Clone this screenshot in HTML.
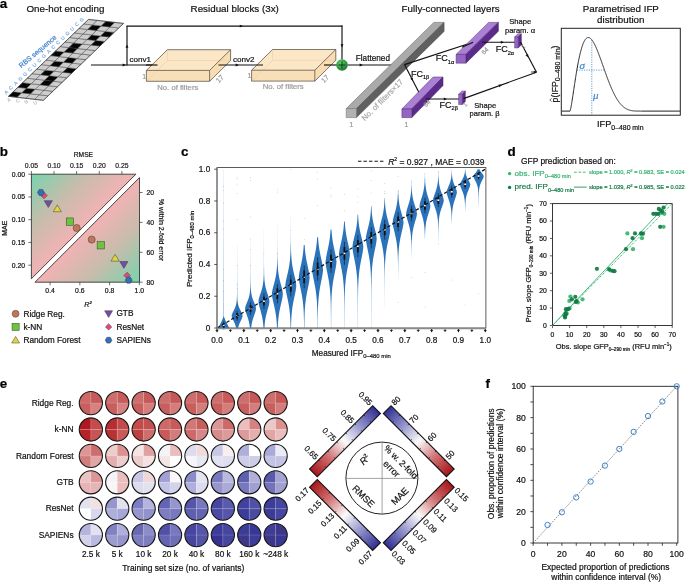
<!DOCTYPE html><html><head><meta charset="utf-8"><style>html,body{margin:0;padding:0;background:#fff;overflow:hidden}svg{display:block;will-change:transform}</style></head><body>
<svg width="685" height="582" viewBox="0 0 685 582" font-family='"Liberation Sans", sans-serif'>
<rect width="685" height="582" fill="#fff"/>
<text x="-0.30" y="7.80" font-size="13.4" font-weight="bold" fill="#000" stroke="#000" stroke-width="0.2">a</text>
<text x="26.50" y="11.90" font-size="9.8" fill="#111" stroke="#111" stroke-width="0.2">One-hot encoding</text>
<text x="190.60" y="11.90" font-size="9.8" fill="#111" stroke="#111" stroke-width="0.2">Residual blocks (3x)</text>
<text x="401.60" y="12.20" font-size="9.8" fill="#111" stroke="#111" stroke-width="0.2">Fully-connected layers</text>
<text x="620.80" y="11.90" font-size="9.8" text-anchor="middle" fill="#111" stroke="#111" stroke-width="0.2">Parametrised IFP</text>
<text x="620.80" y="23.10" font-size="9.8" text-anchor="middle" fill="#111" stroke="#111" stroke-width="0.2">distribution</text>
<polygon points="8.43,96.33 17.18,97.33 21.89,92.80 13.14,91.80" fill="#050505" stroke="#3a3a3a" stroke-width="0.45"/>
<polygon points="17.18,97.33 25.93,98.33 30.64,93.80 21.89,92.80" fill="#cdcdcd" stroke="#3a3a3a" stroke-width="0.45"/>
<polygon points="25.93,98.33 34.68,99.33 39.39,94.80 30.64,93.80" fill="#cdcdcd" stroke="#3a3a3a" stroke-width="0.45"/>
<polygon points="34.68,99.33 43.43,100.33 48.14,95.80 39.39,94.80" fill="#cdcdcd" stroke="#3a3a3a" stroke-width="0.45"/>
<polygon points="13.14,91.80 21.89,92.80 26.60,88.28 17.85,87.28" fill="#cdcdcd" stroke="#3a3a3a" stroke-width="0.45"/>
<polygon points="21.89,92.80 30.64,93.80 35.35,89.28 26.60,88.28" fill="#050505" stroke="#3a3a3a" stroke-width="0.45"/>
<polygon points="30.64,93.80 39.39,94.80 44.10,90.28 35.35,89.28" fill="#cdcdcd" stroke="#3a3a3a" stroke-width="0.45"/>
<polygon points="39.39,94.80 48.14,95.80 52.85,91.28 44.10,90.28" fill="#cdcdcd" stroke="#3a3a3a" stroke-width="0.45"/>
<polygon points="17.85,87.28 26.60,88.28 31.31,83.75 22.56,82.75" fill="#050505" stroke="#3a3a3a" stroke-width="0.45"/>
<polygon points="26.60,88.28 35.35,89.28 40.06,84.75 31.31,83.75" fill="#cdcdcd" stroke="#3a3a3a" stroke-width="0.45"/>
<polygon points="35.35,89.28 44.10,90.28 48.81,85.75 40.06,84.75" fill="#cdcdcd" stroke="#3a3a3a" stroke-width="0.45"/>
<polygon points="44.10,90.28 52.85,91.28 57.56,86.75 48.81,85.75" fill="#cdcdcd" stroke="#3a3a3a" stroke-width="0.45"/>
<polygon points="22.56,82.75 31.31,83.75 36.02,79.23 27.27,78.23" fill="#cdcdcd" stroke="#3a3a3a" stroke-width="0.45"/>
<polygon points="31.31,83.75 40.06,84.75 44.77,80.23 36.02,79.23" fill="#cdcdcd" stroke="#3a3a3a" stroke-width="0.45"/>
<polygon points="40.06,84.75 48.81,85.75 53.52,81.23 44.77,80.23" fill="#050505" stroke="#3a3a3a" stroke-width="0.45"/>
<polygon points="48.81,85.75 57.56,86.75 62.27,82.23 53.52,81.23" fill="#cdcdcd" stroke="#3a3a3a" stroke-width="0.45"/>
<polygon points="27.27,78.23 36.02,79.23 40.73,74.70 31.98,73.70" fill="#cdcdcd" stroke="#3a3a3a" stroke-width="0.45"/>
<polygon points="36.02,79.23 44.77,80.23 49.48,75.70 40.73,74.70" fill="#cdcdcd" stroke="#3a3a3a" stroke-width="0.45"/>
<polygon points="44.77,80.23 53.52,81.23 58.23,76.70 49.48,75.70" fill="#050505" stroke="#3a3a3a" stroke-width="0.45"/>
<polygon points="53.52,81.23 62.27,82.23 66.98,77.70 58.23,76.70" fill="#cdcdcd" stroke="#3a3a3a" stroke-width="0.45"/>
<polygon points="31.98,73.70 40.73,74.70 45.44,70.18 36.69,69.18" fill="#cdcdcd" stroke="#3a3a3a" stroke-width="0.45"/>
<polygon points="40.73,74.70 49.48,75.70 54.19,71.18 45.44,70.18" fill="#050505" stroke="#3a3a3a" stroke-width="0.45"/>
<polygon points="49.48,75.70 58.23,76.70 62.94,72.18 54.19,71.18" fill="#cdcdcd" stroke="#3a3a3a" stroke-width="0.45"/>
<polygon points="58.23,76.70 66.98,77.70 71.69,73.18 62.94,72.18" fill="#cdcdcd" stroke="#3a3a3a" stroke-width="0.45"/>
<polygon points="36.69,69.18 45.44,70.18 50.15,65.65 41.40,64.65" fill="#cdcdcd" stroke="#3a3a3a" stroke-width="0.45"/>
<polygon points="45.44,70.18 54.19,71.18 58.90,66.65 50.15,65.65" fill="#cdcdcd" stroke="#3a3a3a" stroke-width="0.45"/>
<polygon points="54.19,71.18 62.94,72.18 67.65,67.65 58.90,66.65" fill="#cdcdcd" stroke="#3a3a3a" stroke-width="0.45"/>
<polygon points="62.94,72.18 71.69,73.18 76.40,68.65 67.65,67.65" fill="#050505" stroke="#3a3a3a" stroke-width="0.45"/>
<polygon points="41.40,64.65 50.15,65.65 54.86,61.13 46.11,60.13" fill="#cdcdcd" stroke="#3a3a3a" stroke-width="0.45"/>
<polygon points="50.15,65.65 58.90,66.65 63.61,62.13 54.86,61.13" fill="#050505" stroke="#3a3a3a" stroke-width="0.45"/>
<polygon points="58.90,66.65 67.65,67.65 72.36,63.13 63.61,62.13" fill="#cdcdcd" stroke="#3a3a3a" stroke-width="0.45"/>
<polygon points="67.65,67.65 76.40,68.65 81.11,64.13 72.36,63.13" fill="#cdcdcd" stroke="#3a3a3a" stroke-width="0.45"/>
<polygon points="46.11,60.13 54.86,61.13 59.57,56.60 50.82,55.60" fill="#cdcdcd" stroke="#3a3a3a" stroke-width="0.45"/>
<polygon points="54.86,61.13 63.61,62.13 68.32,57.60 59.57,56.60" fill="#cdcdcd" stroke="#3a3a3a" stroke-width="0.45"/>
<polygon points="63.61,62.13 72.36,63.13 77.07,58.60 68.32,57.60" fill="#050505" stroke="#3a3a3a" stroke-width="0.45"/>
<polygon points="72.36,63.13 81.11,64.13 85.82,59.60 77.07,58.60" fill="#cdcdcd" stroke="#3a3a3a" stroke-width="0.45"/>
<polygon points="50.82,55.60 59.57,56.60 64.28,52.08 55.53,51.08" fill="#050505" stroke="#3a3a3a" stroke-width="0.45"/>
<polygon points="59.57,56.60 68.32,57.60 73.03,53.08 64.28,52.08" fill="#cdcdcd" stroke="#3a3a3a" stroke-width="0.45"/>
<polygon points="68.32,57.60 77.07,58.60 81.78,54.08 73.03,53.08" fill="#cdcdcd" stroke="#3a3a3a" stroke-width="0.45"/>
<polygon points="77.07,58.60 85.82,59.60 90.53,55.08 81.78,54.08" fill="#cdcdcd" stroke="#3a3a3a" stroke-width="0.45"/>
<polygon points="55.53,51.08 64.28,52.08 68.99,47.55 60.24,46.55" fill="#cdcdcd" stroke="#3a3a3a" stroke-width="0.45"/>
<polygon points="64.28,52.08 73.03,53.08 77.74,48.55 68.99,47.55" fill="#050505" stroke="#3a3a3a" stroke-width="0.45"/>
<polygon points="73.03,53.08 81.78,54.08 86.49,49.55 77.74,48.55" fill="#cdcdcd" stroke="#3a3a3a" stroke-width="0.45"/>
<polygon points="81.78,54.08 90.53,55.08 95.24,50.55 86.49,49.55" fill="#cdcdcd" stroke="#3a3a3a" stroke-width="0.45"/>
<polygon points="60.24,46.55 68.99,47.55 73.70,43.03 64.95,42.03" fill="#cdcdcd" stroke="#3a3a3a" stroke-width="0.45"/>
<polygon points="68.99,47.55 77.74,48.55 82.45,44.03 73.70,43.03" fill="#050505" stroke="#3a3a3a" stroke-width="0.45"/>
<polygon points="77.74,48.55 86.49,49.55 91.20,45.03 82.45,44.03" fill="#cdcdcd" stroke="#3a3a3a" stroke-width="0.45"/>
<polygon points="86.49,49.55 95.24,50.55 99.95,46.03 91.20,45.03" fill="#cdcdcd" stroke="#3a3a3a" stroke-width="0.45"/>
<polygon points="64.95,42.03 73.70,43.03 78.41,38.50 69.66,37.50" fill="#cdcdcd" stroke="#3a3a3a" stroke-width="0.45"/>
<polygon points="73.70,43.03 82.45,44.03 87.16,39.50 78.41,38.50" fill="#cdcdcd" stroke="#3a3a3a" stroke-width="0.45"/>
<polygon points="82.45,44.03 91.20,45.03 95.91,40.50 87.16,39.50" fill="#cdcdcd" stroke="#3a3a3a" stroke-width="0.45"/>
<polygon points="91.20,45.03 99.95,46.03 104.66,41.50 95.91,40.50" fill="#050505" stroke="#3a3a3a" stroke-width="0.45"/>
<polygon points="69.66,37.50 78.41,38.50 83.12,33.98 74.37,32.98" fill="#cdcdcd" stroke="#3a3a3a" stroke-width="0.45"/>
<polygon points="78.41,38.50 87.16,39.50 91.87,34.98 83.12,33.98" fill="#cdcdcd" stroke="#3a3a3a" stroke-width="0.45"/>
<polygon points="87.16,39.50 95.91,40.50 100.62,35.98 91.87,34.98" fill="#050505" stroke="#3a3a3a" stroke-width="0.45"/>
<polygon points="95.91,40.50 104.66,41.50 109.37,36.98 100.62,35.98" fill="#cdcdcd" stroke="#3a3a3a" stroke-width="0.45"/>
<polygon points="74.37,32.98 83.12,33.98 87.83,29.45 79.08,28.45" fill="#cdcdcd" stroke="#3a3a3a" stroke-width="0.45"/>
<polygon points="83.12,33.98 91.87,34.98 96.58,30.45 87.83,29.45" fill="#cdcdcd" stroke="#3a3a3a" stroke-width="0.45"/>
<polygon points="91.87,34.98 100.62,35.98 105.33,31.45 96.58,30.45" fill="#cdcdcd" stroke="#3a3a3a" stroke-width="0.45"/>
<polygon points="100.62,35.98 109.37,36.98 114.08,32.45 105.33,31.45" fill="#050505" stroke="#3a3a3a" stroke-width="0.45"/>
<polygon points="79.08,28.45 87.83,29.45 92.54,24.93 83.79,23.93" fill="#cdcdcd" stroke="#3a3a3a" stroke-width="0.45"/>
<polygon points="87.83,29.45 96.58,30.45 101.29,25.93 92.54,24.93" fill="#050505" stroke="#3a3a3a" stroke-width="0.45"/>
<polygon points="96.58,30.45 105.33,31.45 110.04,26.93 101.29,25.93" fill="#cdcdcd" stroke="#3a3a3a" stroke-width="0.45"/>
<polygon points="105.33,31.45 114.08,32.45 118.79,27.93 110.04,26.93" fill="#cdcdcd" stroke="#3a3a3a" stroke-width="0.45"/>
<polygon points="83.79,23.93 92.54,24.93 97.25,20.40 88.50,19.40" fill="#cdcdcd" stroke="#3a3a3a" stroke-width="0.45"/>
<polygon points="92.54,24.93 101.29,25.93 106.00,21.40 97.25,20.40" fill="#cdcdcd" stroke="#3a3a3a" stroke-width="0.45"/>
<polygon points="101.29,25.93 110.04,26.93 114.75,22.40 106.00,21.40" fill="#050505" stroke="#3a3a3a" stroke-width="0.45"/>
<polygon points="110.04,26.93 118.79,27.93 123.50,23.40 114.75,22.40" fill="#cdcdcd" stroke="#3a3a3a" stroke-width="0.45"/>
<polygon points="8.43,96.33 43.43,100.33 123.50,23.40 88.50,19.40" fill="none" stroke="#333" stroke-width="0.6"/>
<text x="7.39" y="93.46" font-size="4.8" text-anchor="middle" fill="#86aee0" transform="rotate(-45 7.385000000000007 93.46250000000002)" stroke="#86aee0" stroke-width="0.2">A</text>
<text x="12.10" y="88.94" font-size="4.8" text-anchor="middle" fill="#86aee0" transform="rotate(-45 12.095000000000006 88.93750000000003)" stroke="#86aee0" stroke-width="0.2">C</text>
<text x="16.81" y="84.41" font-size="4.8" text-anchor="middle" fill="#86aee0" transform="rotate(-45 16.805000000000007 84.41250000000002)" stroke="#86aee0" stroke-width="0.2">A</text>
<text x="21.52" y="79.89" font-size="4.8" text-anchor="middle" fill="#86aee0" transform="rotate(-45 21.515000000000008 79.88750000000002)" stroke="#86aee0" stroke-width="0.2">G</text>
<text x="26.23" y="75.36" font-size="4.8" text-anchor="middle" fill="#86aee0" transform="rotate(-45 26.22500000000001 75.36250000000003)" stroke="#86aee0" stroke-width="0.2">G</text>
<text x="30.94" y="70.84" font-size="4.8" text-anchor="middle" fill="#86aee0" transform="rotate(-45 30.93500000000001 70.83750000000002)" stroke="#86aee0" stroke-width="0.2">C</text>
<text x="35.65" y="66.31" font-size="4.8" text-anchor="middle" fill="#86aee0" transform="rotate(-45 35.645 66.31250000000003)" stroke="#86aee0" stroke-width="0.2">U</text>
<text x="40.36" y="61.79" font-size="4.8" text-anchor="middle" fill="#86aee0" transform="rotate(-45 40.35500000000001 61.787500000000016)" stroke="#86aee0" stroke-width="0.2">C</text>
<text x="45.07" y="57.26" font-size="4.8" text-anchor="middle" fill="#86aee0" transform="rotate(-45 45.065000000000005 57.26250000000001)" stroke="#86aee0" stroke-width="0.2">G</text>
<text x="49.78" y="52.74" font-size="4.8" text-anchor="middle" fill="#86aee0" transform="rotate(-45 49.775000000000006 52.73750000000001)" stroke="#86aee0" stroke-width="0.2">A</text>
<text x="54.49" y="48.21" font-size="4.8" text-anchor="middle" fill="#86aee0" transform="rotate(-45 54.48500000000001 48.21250000000001)" stroke="#86aee0" stroke-width="0.2">C</text>
<text x="59.20" y="43.69" font-size="4.8" text-anchor="middle" fill="#86aee0" transform="rotate(-45 59.19500000000001 43.687500000000014)" stroke="#86aee0" stroke-width="0.2">C</text>
<text x="63.91" y="39.16" font-size="4.8" text-anchor="middle" fill="#86aee0" transform="rotate(-45 63.90500000000001 39.16250000000001)" stroke="#86aee0" stroke-width="0.2">U</text>
<text x="68.62" y="34.64" font-size="4.8" text-anchor="middle" fill="#86aee0" transform="rotate(-45 68.61500000000001 34.63750000000001)" stroke="#86aee0" stroke-width="0.2">G</text>
<text x="73.33" y="30.11" font-size="4.8" text-anchor="middle" fill="#86aee0" transform="rotate(-45 73.325 30.112500000000004)" stroke="#86aee0" stroke-width="0.2">U</text>
<text x="78.03" y="25.59" font-size="4.8" text-anchor="middle" fill="#86aee0" transform="rotate(-45 78.035 25.587500000000013)" stroke="#86aee0" stroke-width="0.2">C</text>
<text x="82.75" y="21.06" font-size="4.8" text-anchor="middle" fill="#86aee0" transform="rotate(-45 82.745 21.062500000000007)" stroke="#86aee0" stroke-width="0.2">G</text>
<text x="39.20" y="53.20" font-size="7.0" text-anchor="middle" fill="#3f80cc" transform="rotate(-40 39.2 53.2)" stroke="#3f80cc" stroke-width="0.2">RBS sequence</text>
<text x="9.71" y="101.11" font-size="4.8" text-anchor="middle" fill="#bdbdbd" transform="rotate(-30 9.714500000000006 101.11375000000001)" stroke="#bdbdbd" stroke-width="0.2">A</text>
<text x="18.46" y="102.11" font-size="4.8" text-anchor="middle" fill="#bdbdbd" transform="rotate(-30 18.464500000000008 102.11375000000001)" stroke="#bdbdbd" stroke-width="0.2">C</text>
<text x="27.21" y="103.11" font-size="4.8" text-anchor="middle" fill="#bdbdbd" transform="rotate(-30 27.214500000000008 103.11375000000001)" stroke="#bdbdbd" stroke-width="0.2">G</text>
<text x="35.96" y="104.11" font-size="4.8" text-anchor="middle" fill="#bdbdbd" transform="rotate(-30 35.96450000000001 104.11375000000001)" stroke="#bdbdbd" stroke-width="0.2">U</text>
<line x1="91.00" y1="65.00" x2="157.50" y2="65.00" stroke="#111" stroke-width="1.15"/>
<polygon points="126.00,65.00 122.60,66.53 122.60,63.47" fill="#111" stroke="none" stroke-width="1"/>
<line x1="127.00" y1="65.50" x2="127.00" y2="26.10" stroke="#111" stroke-width="1.15"/>
<polygon points="127.00,44.50 128.44,47.70 125.56,47.70" fill="#111" stroke="none" stroke-width="1"/>
<line x1="126.50" y1="26.10" x2="342.50" y2="26.10" stroke="#111" stroke-width="1.15"/>
<polygon points="243.00,26.10 239.80,27.54 239.80,24.66" fill="#111" stroke="none" stroke-width="1"/>
<line x1="342.00" y1="25.60" x2="342.00" y2="59.50" stroke="#111" stroke-width="1.15"/>
<polygon points="342.00,47.50 340.56,44.30 343.44,44.30" fill="#111" stroke="none" stroke-width="1"/>
<polygon points="146.40,70.40 209.60,70.40 230.60,49.70 167.40,49.70" fill="#fbe6c6" stroke="none" stroke-width="1"/>
<polygon points="209.60,70.40 230.60,49.70 230.60,60.60 209.60,81.30" fill="#f8dcb2" stroke="none" stroke-width="1"/>
<polygon points="146.40,70.40 209.60,70.40 209.60,81.30 146.40,81.30" fill="#f9dfb8" stroke="none" stroke-width="1"/>
<line x1="167.40" y1="60.60" x2="146.40" y2="81.30" stroke="#e8cfa6" stroke-width="0.6"/>
<line x1="167.40" y1="60.60" x2="230.60" y2="60.60" stroke="#e8cfa6" stroke-width="0.6"/>
<line x1="167.40" y1="60.60" x2="167.40" y2="49.70" stroke="#e8cfa6" stroke-width="0.6"/>
<polygon points="146.40,70.40 167.40,49.70 230.60,49.70 230.60,60.60 209.60,81.30 146.40,81.30" fill="none" stroke="#4a4036" stroke-width="0.7"/>
<line x1="146.40" y1="70.40" x2="209.60" y2="70.40" stroke="#4a4036" stroke-width="0.7"/>
<line x1="209.60" y1="70.40" x2="230.60" y2="49.70" stroke="#4a4036" stroke-width="0.7"/>
<line x1="209.60" y1="70.40" x2="209.60" y2="81.30" stroke="#4a4036" stroke-width="0.7"/>
<polygon points="251.60,70.20 314.80,70.20 335.80,49.50 272.60,49.50" fill="#fbe6c6" stroke="none" stroke-width="1"/>
<polygon points="314.80,70.20 335.80,49.50 335.80,60.40 314.80,81.10" fill="#f8dcb2" stroke="none" stroke-width="1"/>
<polygon points="251.60,70.20 314.80,70.20 314.80,81.10 251.60,81.10" fill="#f9dfb8" stroke="none" stroke-width="1"/>
<line x1="272.60" y1="60.40" x2="251.60" y2="81.10" stroke="#e8cfa6" stroke-width="0.6"/>
<line x1="272.60" y1="60.40" x2="335.80" y2="60.40" stroke="#e8cfa6" stroke-width="0.6"/>
<line x1="272.60" y1="60.40" x2="272.60" y2="49.50" stroke="#e8cfa6" stroke-width="0.6"/>
<polygon points="251.60,70.20 272.60,49.50 335.80,49.50 335.80,60.40 314.80,81.10 251.60,81.10" fill="none" stroke="#4a4036" stroke-width="0.7"/>
<line x1="251.60" y1="70.20" x2="314.80" y2="70.20" stroke="#4a4036" stroke-width="0.7"/>
<line x1="314.80" y1="70.20" x2="335.80" y2="49.50" stroke="#4a4036" stroke-width="0.7"/>
<line x1="314.80" y1="70.20" x2="314.80" y2="81.10" stroke="#4a4036" stroke-width="0.7"/>
<line x1="146.00" y1="65.00" x2="157.50" y2="65.00" stroke="#111" stroke-width="1.15"/>
<line x1="218.50" y1="65.00" x2="263.00" y2="65.00" stroke="#111" stroke-width="1.15"/>
<polygon points="239.00,65.00 235.60,66.53 235.60,63.47" fill="#111" stroke="none" stroke-width="1"/>
<line x1="324.00" y1="65.00" x2="337.00" y2="65.00" stroke="#111" stroke-width="1.15"/>
<text x="129.40" y="62.30" font-size="8.1" fill="#111" stroke="#111" stroke-width="0.2">conv1</text>
<text x="233.00" y="61.90" font-size="8.1" fill="#111" stroke="#111" stroke-width="0.2">conv2</text>
<text x="142.20" y="78.60" font-size="7" fill="#9a9a9a" stroke="#9a9a9a" stroke-width="0.2">1</text>
<text x="247.60" y="78.40" font-size="7" fill="#9a9a9a" stroke="#9a9a9a" stroke-width="0.2">1</text>
<text x="221.50" y="80.50" font-size="7" text-anchor="middle" fill="#9a9a9a" transform="rotate(-45 221.5 80.5)" stroke="#9a9a9a" stroke-width="0.2">17</text>
<text x="326.80" y="80.50" font-size="7" text-anchor="middle" fill="#9a9a9a" transform="rotate(-45 326.8 80.5)" stroke="#9a9a9a" stroke-width="0.2">17</text>
<text x="177.80" y="89.80" font-size="7.7" text-anchor="middle" fill="#9a9a9a" stroke="#9a9a9a" stroke-width="0.2">No. of filters</text>
<text x="283.20" y="88.80" font-size="7.7" text-anchor="middle" fill="#9a9a9a" stroke="#9a9a9a" stroke-width="0.2">No. of filters</text>
<defs><radialGradient id="gsum" cx="0.4" cy="0.35" r="0.7"><stop offset="0" stop-color="#5fd06a"/><stop offset="0.6" stop-color="#2e9e3c"/><stop offset="1" stop-color="#1a6e26"/></radialGradient></defs>
<circle cx="342" cy="65" r="5.8" fill="url(#gsum)"/>
<line x1="338.60" y1="65.00" x2="345.40" y2="65.00" stroke="#123" stroke-width="0.9"/>
<line x1="342.00" y1="61.60" x2="342.00" y2="68.40" stroke="#123" stroke-width="0.9"/>
<line x1="347.80" y1="65.00" x2="395.00" y2="65.00" stroke="#111" stroke-width="1.15"/>
<polygon points="363.00,65.00 359.60,66.53 359.60,63.47" fill="#111" stroke="none" stroke-width="1"/>
<text x="355.80" y="61.20" font-size="8.2" fill="#111" stroke="#111" stroke-width="0.2">Flattened</text>
<polygon points="346.20,108.60 356.50,108.60 444.10,22.40 433.80,22.40" fill="#aaaaaa" stroke="#5a5a5a" stroke-width="0.5"/>
<polygon points="356.50,108.60 444.10,22.40 444.10,31.40 356.50,117.60" fill="#606060" stroke="#4a4a4a" stroke-width="0.5"/>
<polygon points="346.20,108.60 356.50,108.60 356.50,117.60 346.20,117.60" fill="#b2b2b2" stroke="#6a6a6a" stroke-width="0.5"/>
<text x="351.50" y="126.50" font-size="7" text-anchor="middle" fill="#9a9a9a" stroke="#9a9a9a" stroke-width="0.2">1</text>
<text x="384.20" y="101.80" font-size="7.8" text-anchor="middle" fill="#a5a5a5" transform="rotate(-45 384.2 101.8)" stroke="#a5a5a5" stroke-width="0.2">No. of filters×17</text>
<line x1="404.50" y1="64.60" x2="473.00" y2="42.20" stroke="#111" stroke-width="1.15"/>
<line x1="404.50" y1="64.60" x2="420.50" y2="95.50" stroke="#111" stroke-width="1.15"/>
<polygon points="413.00,81.00 410.26,78.80 412.83,77.50" fill="#111" stroke="none" stroke-width="1"/>
<polygon points="401.90,109.00 411.80,109.00 443.00,77.00 433.10,77.00" fill="#aa7fd4" stroke="#4b2a6e" stroke-width="0.5"/>
<polygon points="411.80,109.00 443.00,77.00 443.00,85.60 411.80,117.60" fill="#5b2a8a" stroke="#3e1d60" stroke-width="0.5"/>
<polygon points="401.90,109.00 411.80,109.00 411.80,117.60 401.90,117.60" fill="#9466c4" stroke="#4b2a6e" stroke-width="0.5"/>
<polygon points="456.10,54.40 465.90,54.40 498.40,22.40 488.60,22.40" fill="#aa7fd4" stroke="#4b2a6e" stroke-width="0.5"/>
<polygon points="465.90,54.40 498.40,22.40 498.40,31.20 465.90,63.20" fill="#5b2a8a" stroke="#3e1d60" stroke-width="0.5"/>
<polygon points="456.10,54.40 465.90,54.40 465.90,63.20 456.10,63.20" fill="#9466c4" stroke="#4b2a6e" stroke-width="0.5"/>
<line x1="462.00" y1="47.20" x2="473.00" y2="42.20" stroke="#111" stroke-width="1.15"/>
<line x1="482.30" y1="42.20" x2="515.00" y2="42.20" stroke="#111" stroke-width="1.15"/>
<polygon points="504.00,42.20 500.80,43.64 500.80,40.76" fill="#111" stroke="none" stroke-width="1"/>
<line x1="426.00" y1="99.00" x2="459.00" y2="99.00" stroke="#111" stroke-width="1.15"/>
<polygon points="447.00,99.00 443.80,100.44 443.80,97.56" fill="#111" stroke="none" stroke-width="1"/>
<polygon points="514.60,37.00 518.20,37.00 521.40,33.80 517.80,33.80" fill="#aa7fd4" stroke="#4b2a6e" stroke-width="0.4"/>
<polygon points="518.20,37.00 521.40,33.80 521.40,44.80 518.20,48.00" fill="#5b2a8a" stroke="#3e1d60" stroke-width="0.4"/>
<polygon points="514.60,37.00 518.20,37.00 518.20,48.00 514.60,48.00" fill="#9466c4" stroke="#4b2a6e" stroke-width="0.4"/>
<polygon points="458.60,94.20 462.20,94.20 465.40,91.00 461.80,91.00" fill="#aa7fd4" stroke="#4b2a6e" stroke-width="0.4"/>
<polygon points="462.20,94.20 465.40,91.00 465.40,101.40 462.20,104.60" fill="#5b2a8a" stroke="#3e1d60" stroke-width="0.4"/>
<polygon points="458.60,94.20 462.20,94.20 462.20,104.60 458.60,104.60" fill="#9466c4" stroke="#4b2a6e" stroke-width="0.4"/>
<line x1="520.50" y1="42.00" x2="536.50" y2="72.20" stroke="#111" stroke-width="1.15"/>
<polygon points="528.30,57.50 525.53,55.35 528.07,54.00" fill="#111" stroke="none" stroke-width="1"/>
<line x1="463.50" y1="98.60" x2="536.50" y2="72.20" stroke="#111" stroke-width="1.15"/>
<polygon points="502.00,84.70 499.49,87.15 498.50,84.44" fill="#111" stroke="none" stroke-width="1"/>
<polygon points="536.80,72.00 533.80,73.35 533.80,70.65" fill="#111" stroke="none" stroke-width="1"/>
<line x1="531.00" y1="72.00" x2="536.00" y2="72.00" stroke="#111" stroke-width="0.8"/>
<text x="435.8" y="61.4" font-size="9" fill="#111" stroke="#111" stroke-width="0.2">FC<tspan font-size="5.6" dy="2.2">1α</tspan></text>
<text x="411.0" y="77.2" font-size="9" fill="#111" stroke="#111" stroke-width="0.2">FC<tspan font-size="5.6" dy="2.2">1β</tspan></text>
<text x="495.7" y="52.4" font-size="9" fill="#111" stroke="#111" stroke-width="0.2">FC<tspan font-size="5.6" dy="2.2">2α</tspan></text>
<text x="439.6" y="108.2" font-size="9" fill="#111" stroke="#111" stroke-width="0.2">FC<tspan font-size="5.6" dy="2.2">2β</tspan></text>
<text x="520.20" y="24.40" font-size="7.6" text-anchor="middle" fill="#111" stroke="#111" stroke-width="0.2">Shape</text>
<text x="520.00" y="33.00" font-size="7.6" text-anchor="middle" fill="#111" stroke="#111" stroke-width="0.2">param. α</text>
<text x="485.20" y="108.20" font-size="7.6" text-anchor="middle" fill="#111" stroke="#111" stroke-width="0.2">Shape</text>
<text x="484.60" y="116.40" font-size="7.6" text-anchor="middle" fill="#111" stroke="#111" stroke-width="0.2">param. β</text>
<text x="428.50" y="105.00" font-size="6.5" text-anchor="middle" fill="#9a9a9a" transform="rotate(-45 428.5 105)" stroke="#9a9a9a" stroke-width="0.2">64</text>
<text x="486.50" y="52.50" font-size="6.5" text-anchor="middle" fill="#9a9a9a" transform="rotate(-45 486.5 52.5)" stroke="#9a9a9a" stroke-width="0.2">64</text>
<text x="406.50" y="126.50" font-size="7" text-anchor="middle" fill="#9a9a9a" stroke="#9a9a9a" stroke-width="0.2">1</text>
<text x="524.50" y="48.00" font-size="5.5" text-anchor="middle" fill="#9a9a9a" transform="rotate(-45 524.5 48)" stroke="#9a9a9a" stroke-width="0.2">1</text>
<text x="466.50" y="105.80" font-size="5.5" text-anchor="middle" fill="#9a9a9a" transform="rotate(-45 466.5 105.8)" stroke="#9a9a9a" stroke-width="0.2">1</text>
<rect x="561.3" y="28.3" width="119" height="86.9" fill="none" stroke="#222" stroke-width="1"/>
<path d="M561.80,111.10 L570.00,111.10 L570.18,110.72 L570.36,110.12 L570.54,109.39 L570.72,108.56 L570.90,107.67 L571.08,106.72 L571.26,105.72 L571.44,104.68 L571.62,103.61 L571.80,102.51 L571.98,101.39 L572.16,100.25 L572.34,99.09 L572.52,97.91 L572.70,96.73 L572.88,95.54 L573.06,94.34 L573.24,93.14 L573.42,91.93 L573.60,90.72 L573.78,89.52 L573.96,88.31 L574.14,87.11 L574.32,85.92 L574.50,84.72 L574.68,83.54 L574.86,82.36 L575.04,81.19 L575.22,80.03 L575.40,78.88 L575.58,77.74 L575.76,76.61 L575.94,75.49 L576.12,74.38 L576.30,73.29 L576.48,72.21 L576.66,71.14 L576.84,70.08 L577.02,69.04 L577.20,68.02 L577.38,67.01 L577.56,66.02 L577.74,65.04 L577.92,64.07 L578.10,63.13 L578.28,62.20 L578.46,61.28 L578.64,60.39 L578.82,59.51 L579.00,58.64 L579.18,57.80 L579.36,56.97 L579.54,56.16 L579.72,55.37 L579.90,54.59 L580.08,53.83 L580.26,53.09 L580.44,52.37 L580.62,51.67 L580.80,50.98 L580.98,50.31 L581.16,49.66 L581.34,49.03 L581.52,48.41 L581.70,47.81 L581.88,47.23 L582.06,46.67 L582.24,46.13 L582.42,45.60 L582.60,45.09 L582.78,44.60 L582.96,44.13 L583.14,43.67 L583.32,43.23 L583.50,42.81 L583.68,42.41 L583.86,42.02 L584.04,41.65 L584.22,41.29 L584.40,40.96 L584.58,40.64 L584.76,40.33 L584.94,40.04 L585.12,39.77 L585.30,39.52 L585.48,39.28 L585.66,39.05 L585.84,38.85 L586.02,38.65 L586.20,38.48 L586.38,38.32 L586.56,38.17 L586.74,38.04 L586.92,37.92 L587.10,37.82 L587.28,37.73 L587.46,37.66 L587.64,37.60 L587.82,37.55 L588.00,37.52 L588.18,37.50 L588.36,37.50 L588.54,37.51 L588.72,37.53 L588.90,37.57 L589.08,37.61 L589.26,37.67 L589.44,37.75 L589.62,37.83 L589.80,37.93 L589.98,38.04 L590.16,38.16 L590.34,38.29 L590.52,38.44 L590.70,38.59 L590.88,38.76 L591.06,38.93 L591.24,39.12 L591.42,39.32 L591.60,39.53 L591.78,39.74 L591.96,39.97 L592.14,40.21 L592.32,40.46 L592.50,40.71 L592.68,40.98 L592.86,41.25 L593.04,41.54 L593.22,41.83 L593.40,42.13 L593.58,42.44 L593.76,42.75 L593.94,43.08 L594.12,43.41 L594.30,43.75 L594.48,44.10 L594.66,44.45 L594.84,44.81 L595.02,45.18 L595.20,45.56 L595.38,45.94 L595.56,46.33 L595.74,46.72 L595.92,47.12 L596.10,47.53 L596.28,47.94 L596.46,48.35 L596.64,48.78 L596.82,49.20 L597.00,49.63 L597.18,50.07 L597.36,50.51 L597.54,50.96 L597.72,51.41 L597.90,51.86 L598.08,52.32 L598.26,52.78 L598.44,53.25 L598.62,53.72 L598.80,54.19 L598.98,54.67 L599.16,55.15 L599.34,55.63 L599.52,56.11 L599.70,56.60 L599.88,57.09 L600.06,57.58 L600.24,58.07 L600.42,58.57 L600.60,59.07 L600.78,59.57 L600.96,60.07 L601.14,60.57 L601.32,61.08 L601.50,61.58 L601.68,62.09 L601.86,62.60 L602.04,63.11 L602.22,63.62 L602.40,64.13 L602.58,64.64 L602.76,65.15 L602.94,65.66 L603.12,66.17 L603.30,66.68 L603.48,67.19 L603.66,67.70 L603.84,68.21 L604.02,68.72 L604.20,69.23 L604.38,69.74 L604.56,70.25 L604.74,70.75 L604.92,71.26 L605.10,71.76 L605.28,72.27 L605.46,72.77 L605.64,73.27 L605.82,73.77 L606.00,74.27 L606.18,74.77 L606.36,75.26 L606.54,75.75 L606.72,76.24 L606.90,76.73 L607.08,77.22 L607.26,77.70 L607.44,78.19 L607.62,78.67 L607.80,79.14 L607.98,79.62 L608.16,80.09 L608.34,80.56 L608.52,81.03 L608.70,81.49 L608.88,81.96 L609.06,82.42 L609.24,82.87 L609.42,83.32 L609.60,83.78 L609.78,84.22 L609.96,84.67 L610.14,85.11 L610.32,85.54 L610.50,85.98 L610.68,86.41 L610.86,86.84 L611.04,87.26 L611.22,87.68 L611.40,88.10 L611.58,88.51 L611.76,88.92 L611.94,89.32 L612.12,89.73 L612.30,90.12 L612.48,90.52 L612.66,90.91 L612.84,91.30 L613.02,91.68 L613.20,92.06 L613.38,92.43 L613.56,92.80 L613.74,93.17 L613.92,93.53 L614.10,93.89 L614.28,94.25 L614.46,94.60 L614.64,94.94 L614.82,95.29 L615.00,95.62 L615.18,95.96 L615.36,96.29 L615.54,96.61 L615.72,96.94 L615.90,97.25 L616.08,97.57 L616.26,97.88 L616.44,98.18 L616.62,98.48 L616.80,98.78 L616.98,99.07 L617.16,99.36 L617.34,99.64 L617.52,99.92 L617.70,100.20 L617.88,100.47 L618.06,100.74 L618.24,101.00 L618.42,101.26 L618.60,101.51 L618.78,101.76 L618.96,102.01 L619.14,102.25 L619.32,102.49 L619.50,102.73 L619.68,102.96 L619.86,103.18 L620.04,103.40 L620.22,103.62 L620.40,103.84 L620.58,104.05 L620.76,104.25 L620.94,104.45 L621.12,104.65 L621.30,104.85 L621.48,105.04 L621.66,105.22 L621.84,105.40 L622.02,105.58 L622.20,105.76 L622.38,105.93 L622.56,106.10 L622.74,106.26 L622.92,106.42 L623.10,106.58 L623.28,106.73 L623.46,106.88 L623.64,107.03 L623.82,107.17 L624.00,107.31 L624.18,107.45 L624.36,107.58 L624.54,107.71 L624.72,107.83 L624.90,107.96 L625.08,108.08 L625.26,108.19 L625.44,108.31 L625.62,108.42 L625.80,108.52 L625.98,108.63 L626.16,108.73 L626.34,108.83 L626.52,108.92 L626.70,109.02 L626.88,109.11 L627.06,109.19 L627.24,109.28 L627.42,109.36 L627.60,109.44 L627.78,109.52 L627.96,109.59 L628.14,109.66 L628.32,109.73 L628.50,109.80 L628.68,109.86 L628.86,109.92 L629.04,109.98 L629.22,110.04 L629.40,110.10 L629.58,110.15 L629.76,110.20 L629.94,110.25 L630.12,110.30 L630.30,110.34 L630.48,110.39 L630.66,110.43 L630.84,110.47 L631.02,110.51 L631.20,110.54 L631.38,110.58 L631.56,110.61 L631.74,110.64 L631.92,110.67 L632.10,110.70 L632.28,110.73 L632.46,110.76 L632.64,110.78 L632.82,110.80 L633.00,110.83 L633.18,110.85 L633.36,110.87 L633.54,110.88 L633.72,110.90 L633.90,110.92 L634.08,110.93 L634.26,110.95 L634.44,110.96 L634.62,110.97 L634.80,110.99 L634.98,111.00 L635.16,111.01 L635.34,111.02 L635.52,111.02 L635.70,111.03 L635.88,111.04 L636.06,111.05 L636.24,111.05 L636.42,111.06 L636.60,111.06 L636.78,111.07 L636.96,111.07 L637.14,111.08 L637.32,111.08 L637.50,111.08 L637.68,111.09 L637.86,111.09 L638.04,111.09 L638.22,111.09 L638.40,111.09 L638.58,111.09 L638.76,111.10 L638.94,111.10 L639.12,111.10 L639.30,111.10 L639.48,111.10 L639.66,111.10 L639.84,111.10 L640.02,111.10 L640.20,111.10 L640.38,111.10 L640.56,111.10 L640.74,111.10 L640.92,111.10 L641.10,111.10 L641.28,111.10 L641.46,111.10 L641.64,111.10 L641.82,111.10 L642.00,111.10 L680.00,111.10" fill="none" stroke="#222" stroke-width="1"/>
<line x1="591.8" y1="40" x2="591.8" y2="115" stroke="#3f86cc" stroke-width="0.8" stroke-dasharray="1.2,1.2"/>
<line x1="576.8" y1="70.1" x2="604.8" y2="70.1" stroke="#3f86cc" stroke-width="0.8" stroke-dasharray="1.2,1.2"/>
<text x="579.5" y="68.6" font-size="11" font-family="Liberation Serif, serif" font-style="italic" fill="#3f86cc" stroke="#3f86cc" stroke-width="0.2">σ</text>
<text x="593.0" y="98.5" font-size="11" font-family="Liberation Serif, serif" font-style="italic" fill="#3f86cc" stroke="#3f86cc" stroke-width="0.2">μ</text>
<text x="597" y="126.8" font-size="9.2" fill="#111" stroke="#111" stroke-width="0.2">IFP<tspan font-size="6.9" dy="3.0">0–480 min</tspan></text>
<g transform="translate(557.6 102.4) rotate(-90)"><text x="0" y="0" font-size="8.7" fill="#111" stroke="#111" stroke-width="0.2">p(IFP<tspan font-size="7.0" dy="2.4">0–480 min</tspan><tspan dy="-2.4">)</tspan></text><polyline points="0.9,-6.0 2.45,-7.8 4.0,-6.0" fill="none" stroke="#222" stroke-width="0.65"/></g>
<text x="-0.30" y="156.00" font-size="13.4" font-weight="bold" fill="#000" stroke="#000" stroke-width="0.2">b</text>
<defs><linearGradient id="bgU" gradientUnits="userSpaceOnUse" x1="31.4" y1="174.2" x2="83.5" y2="226.3"><stop offset="0" stop-color="#78d4ad"/><stop offset="0.55" stop-color="#c9bcac"/><stop offset="1" stop-color="#f1b3b3"/></linearGradient><linearGradient id="bgL" gradientUnits="userSpaceOnUse" x1="87.4" y1="229.9" x2="139.6" y2="282.2"><stop offset="0" stop-color="#f1b3b3"/><stop offset="0.45" stop-color="#c9bcac"/><stop offset="1" stop-color="#78d4ad"/></linearGradient></defs>
<polygon points="31.40,174.20 135.90,174.20 31.40,278.70" fill="url(#bgU)" stroke="#222" stroke-width="0.8"/>
<polygon points="139.50,177.60 139.50,282.20 35.00,282.20" fill="url(#bgL)" stroke="#222" stroke-width="0.8"/>
<line x1="31.40" y1="171.00" x2="31.40" y2="174.20" stroke="#333" stroke-width="0.7"/>
<text x="31.40" y="167.90" font-size="6.8" text-anchor="middle" fill="#222" stroke="#222" stroke-width="0.2">0.05</text>
<line x1="54.02" y1="171.00" x2="54.02" y2="174.20" stroke="#333" stroke-width="0.7"/>
<text x="54.02" y="167.90" font-size="6.8" text-anchor="middle" fill="#222" stroke="#222" stroke-width="0.2">0.10</text>
<line x1="76.64" y1="171.00" x2="76.64" y2="174.20" stroke="#333" stroke-width="0.7"/>
<text x="76.64" y="167.90" font-size="6.8" text-anchor="middle" fill="#222" stroke="#222" stroke-width="0.2">0.15</text>
<line x1="99.26" y1="171.00" x2="99.26" y2="174.20" stroke="#333" stroke-width="0.7"/>
<text x="99.26" y="167.90" font-size="6.8" text-anchor="middle" fill="#222" stroke="#222" stroke-width="0.2">0.20</text>
<line x1="121.88" y1="171.00" x2="121.88" y2="174.20" stroke="#333" stroke-width="0.7"/>
<text x="121.88" y="167.90" font-size="6.8" text-anchor="middle" fill="#222" stroke="#222" stroke-width="0.2">0.25</text>
<text x="83.40" y="157.40" font-size="6.7" text-anchor="middle" fill="#111" stroke="#111" stroke-width="0.2">RMSE</text>
<line x1="28.30" y1="174.20" x2="31.40" y2="174.20" stroke="#333" stroke-width="0.7"/>
<text x="25.00" y="176.60" font-size="6.8" text-anchor="end" fill="#111" stroke="#111" stroke-width="0.2">0.00</text>
<line x1="28.30" y1="196.95" x2="31.40" y2="196.95" stroke="#333" stroke-width="0.7"/>
<text x="25.00" y="199.35" font-size="6.8" text-anchor="end" fill="#111" stroke="#111" stroke-width="0.2">0.05</text>
<line x1="28.30" y1="219.70" x2="31.40" y2="219.70" stroke="#333" stroke-width="0.7"/>
<text x="25.00" y="222.10" font-size="6.8" text-anchor="end" fill="#111" stroke="#111" stroke-width="0.2">0.10</text>
<line x1="28.30" y1="242.45" x2="31.40" y2="242.45" stroke="#333" stroke-width="0.7"/>
<text x="25.00" y="244.85" font-size="6.8" text-anchor="end" fill="#111" stroke="#111" stroke-width="0.2">0.15</text>
<line x1="28.30" y1="265.20" x2="31.40" y2="265.20" stroke="#333" stroke-width="0.7"/>
<text x="25.00" y="267.60" font-size="6.8" text-anchor="end" fill="#111" stroke="#111" stroke-width="0.2">0.20</text>
<text x="6.60" y="228.20" font-size="6.9" text-anchor="middle" fill="#111" transform="rotate(-90 6.6 228.2)" stroke="#111" stroke-width="0.2">MAE</text>
<line x1="139.50" y1="192.50" x2="142.60" y2="192.50" stroke="#333" stroke-width="0.7"/>
<text x="146.40" y="194.90" font-size="6.8" fill="#111" stroke="#111" stroke-width="0.2">20</text>
<line x1="139.50" y1="222.40" x2="142.60" y2="222.40" stroke="#333" stroke-width="0.7"/>
<text x="146.40" y="224.80" font-size="6.8" fill="#111" stroke="#111" stroke-width="0.2">40</text>
<line x1="139.50" y1="252.30" x2="142.60" y2="252.30" stroke="#333" stroke-width="0.7"/>
<text x="146.40" y="254.70" font-size="6.8" fill="#111" stroke="#111" stroke-width="0.2">60</text>
<line x1="139.50" y1="282.20" x2="142.60" y2="282.20" stroke="#333" stroke-width="0.7"/>
<text x="146.40" y="284.60" font-size="6.8" fill="#111" stroke="#111" stroke-width="0.2">80</text>
<text x="159.20" y="230.00" font-size="7.0" text-anchor="middle" fill="#111" transform="rotate(90 159.2 230.0)" stroke="#111" stroke-width="0.2">% within 2-fold error</text>
<line x1="50.10" y1="282.20" x2="50.10" y2="285.30" stroke="#333" stroke-width="0.7"/>
<text x="50.10" y="293.30" font-size="6.8" text-anchor="middle" fill="#111" stroke="#111" stroke-width="0.2">0.4</text>
<line x1="79.85" y1="282.20" x2="79.85" y2="285.30" stroke="#333" stroke-width="0.7"/>
<text x="79.85" y="293.30" font-size="6.8" text-anchor="middle" fill="#111" stroke="#111" stroke-width="0.2">0.6</text>
<line x1="109.60" y1="282.20" x2="109.60" y2="285.30" stroke="#333" stroke-width="0.7"/>
<text x="109.60" y="293.30" font-size="6.8" text-anchor="middle" fill="#111" stroke="#111" stroke-width="0.2">0.8</text>
<line x1="139.35" y1="282.20" x2="139.35" y2="285.30" stroke="#333" stroke-width="0.7"/>
<text x="139.35" y="293.30" font-size="6.8" text-anchor="middle" fill="#111" stroke="#111" stroke-width="0.2">1.0</text>
<text x="84.2" y="306.8" font-size="7.2" font-style="italic" fill="#111" stroke="#111" stroke-width="0.2">R<tspan font-size="4.4" dy="-3">2</tspan></text>
<circle cx="76.70" cy="228.00" r="3.56" fill="#c27658" stroke="#3a3a3a" stroke-width="0.5"/>
<rect x="66.23" y="217.93" width="7.34" height="7.34" fill="#6cc43c" stroke="#3a3a3a" stroke-width="0.5"/>
<polygon points="57.30,204.91 61.38,211.72 53.22,211.72" fill="#e4d53a" stroke="#3a3a3a" stroke-width="0.5"/>
<polygon points="48.30,207.49 52.38,200.68 44.22,200.68" fill="#7b48ac" stroke="#3a3a3a" stroke-width="0.5"/>
<polygon points="44.00,192.36 47.24,195.60 44.00,198.84 40.76,195.60" fill="#e2497a" stroke="#3a3a3a" stroke-width="0.5"/>
<polygon points="44.36,192.40 42.63,195.39 39.17,195.39 37.44,192.40 39.17,189.41 42.63,189.41" fill="#2d6fc0" stroke="#3a3a3a" stroke-width="0.5"/>
<circle cx="91.70" cy="239.60" r="3.56" fill="#c27658" stroke="#3a3a3a" stroke-width="0.5"/>
<rect x="97.13" y="241.63" width="7.34" height="7.34" fill="#6cc43c" stroke="#3a3a3a" stroke-width="0.5"/>
<polygon points="115.10,254.31 119.18,261.12 111.02,261.12" fill="#e4d53a" stroke="#3a3a3a" stroke-width="0.5"/>
<polygon points="123.90,268.39 127.98,261.58 119.82,261.58" fill="#7b48ac" stroke="#3a3a3a" stroke-width="0.5"/>
<polygon points="127.10,272.26 130.34,275.50 127.10,278.74 123.86,275.50" fill="#e2497a" stroke="#3a3a3a" stroke-width="0.5"/>
<polygon points="132.16,280.20 130.43,283.19 126.97,283.19 125.24,280.20 126.97,277.21 130.43,277.21" fill="#2d6fc0" stroke="#3a3a3a" stroke-width="0.5"/>
<circle cx="15.60" cy="313.80" r="3.46" fill="#c27658" stroke="#3a3a3a" stroke-width="0.5"/>
<text x="23.40" y="316.50" font-size="8.3" fill="#111" stroke="#111" stroke-width="0.2">Ridge Reg.</text>
<rect x="12.03" y="323.33" width="7.14" height="7.14" fill="#6cc43c" stroke="#3a3a3a" stroke-width="0.5"/>
<text x="23.40" y="329.60" font-size="8.3" fill="#111" stroke="#111" stroke-width="0.2">k-NN</text>
<polygon points="15.60,336.42 19.57,343.03 11.63,343.03" fill="#e4d53a" stroke="#3a3a3a" stroke-width="0.5"/>
<text x="23.40" y="342.90" font-size="8.3" fill="#111" stroke="#111" stroke-width="0.2">Random Forest</text>
<polygon points="108.60,317.38 112.57,310.77 104.63,310.77" fill="#7b48ac" stroke="#3a3a3a" stroke-width="0.5"/>
<text x="116.40" y="316.30" font-size="8.3" fill="#111" stroke="#111" stroke-width="0.2">GTB</text>
<polygon points="108.60,323.75 111.75,326.90 108.60,330.05 105.45,326.90" fill="#e2497a" stroke="#3a3a3a" stroke-width="0.5"/>
<text x="116.40" y="329.60" font-size="8.3" fill="#111" stroke="#111" stroke-width="0.2">ResNet</text>
<polygon points="111.96,340.20 110.28,343.11 106.92,343.11 105.24,340.20 106.92,337.29 110.28,337.29" fill="#2d6fc0" stroke="#3a3a3a" stroke-width="0.5"/>
<text x="116.40" y="342.90" font-size="8.3" fill="#111" stroke="#111" stroke-width="0.2">SAPIENs</text>
<text x="181.00" y="156.00" font-size="13.4" font-weight="bold" fill="#000" stroke="#000" stroke-width="0.2">c</text>
<rect x="217.00" y="167.6" width="268.90" height="160.40" fill="none" stroke="#333" stroke-width="0.8"/>
<rect x="223.31" y="228.51" width="0.8" height="0.8" fill="#a9c8e8"/>
<rect x="223.31" y="220.69" width="0.8" height="0.8" fill="#a9c8e8"/>
<rect x="223.31" y="291.23" width="0.8" height="0.8" fill="#a9c8e8"/>
<rect x="223.31" y="190.09" width="0.8" height="0.8" fill="#a9c8e8"/>
<rect x="223.31" y="269.11" width="0.8" height="0.8" fill="#a9c8e8"/>
<rect x="223.31" y="325.73" width="0.8" height="0.8" fill="#a9c8e8"/>
<rect x="223.31" y="325.71" width="0.8" height="0.8" fill="#a9c8e8"/>
<rect x="223.31" y="280.08" width="0.8" height="0.8" fill="#a9c8e8"/>
<rect x="223.31" y="186.09" width="0.8" height="0.8" fill="#a9c8e8"/>
<rect x="223.31" y="202.70" width="0.8" height="0.8" fill="#a9c8e8"/>
<rect x="236.72" y="283.99" width="0.8" height="0.8" fill="#a9c8e8"/>
<rect x="236.72" y="219.12" width="0.8" height="0.8" fill="#a9c8e8"/>
<rect x="236.72" y="288.05" width="0.8" height="0.8" fill="#a9c8e8"/>
<rect x="236.72" y="321.97" width="0.8" height="0.8" fill="#a9c8e8"/>
<rect x="236.72" y="183.71" width="0.8" height="0.8" fill="#a9c8e8"/>
<rect x="236.72" y="178.51" width="0.8" height="0.8" fill="#a9c8e8"/>
<rect x="236.72" y="193.30" width="0.8" height="0.8" fill="#a9c8e8"/>
<rect x="236.72" y="176.73" width="0.8" height="0.8" fill="#a9c8e8"/>
<rect x="236.72" y="326.44" width="0.8" height="0.8" fill="#a9c8e8"/>
<rect x="236.72" y="265.17" width="0.8" height="0.8" fill="#a9c8e8"/>
<rect x="250.14" y="318.94" width="0.8" height="0.8" fill="#a9c8e8"/>
<rect x="250.14" y="249.27" width="0.8" height="0.8" fill="#a9c8e8"/>
<rect x="250.14" y="239.51" width="0.8" height="0.8" fill="#a9c8e8"/>
<rect x="250.14" y="216.57" width="0.8" height="0.8" fill="#a9c8e8"/>
<rect x="250.14" y="179.83" width="0.8" height="0.8" fill="#a9c8e8"/>
<rect x="250.14" y="176.98" width="0.8" height="0.8" fill="#a9c8e8"/>
<rect x="250.14" y="307.93" width="0.8" height="0.8" fill="#a9c8e8"/>
<rect x="250.14" y="265.15" width="0.8" height="0.8" fill="#a9c8e8"/>
<rect x="250.14" y="308.45" width="0.8" height="0.8" fill="#a9c8e8"/>
<rect x="250.14" y="316.30" width="0.8" height="0.8" fill="#a9c8e8"/>
<rect x="263.55" y="253.36" width="0.8" height="0.8" fill="#a9c8e8"/>
<rect x="263.55" y="311.66" width="0.8" height="0.8" fill="#a9c8e8"/>
<rect x="263.55" y="269.19" width="0.8" height="0.8" fill="#a9c8e8"/>
<rect x="263.55" y="300.09" width="0.8" height="0.8" fill="#a9c8e8"/>
<rect x="276.97" y="188.59" width="0.8" height="0.8" fill="#a9c8e8"/>
<rect x="276.97" y="253.09" width="0.8" height="0.8" fill="#a9c8e8"/>
<rect x="276.97" y="191.75" width="0.8" height="0.8" fill="#a9c8e8"/>
<rect x="276.97" y="326.02" width="0.8" height="0.8" fill="#a9c8e8"/>
<rect x="290.38" y="256.01" width="0.8" height="0.8" fill="#a9c8e8"/>
<rect x="290.38" y="229.89" width="0.8" height="0.8" fill="#a9c8e8"/>
<rect x="290.38" y="284.78" width="0.8" height="0.8" fill="#a9c8e8"/>
<rect x="290.38" y="168.94" width="0.8" height="0.8" fill="#a9c8e8"/>
<rect x="303.80" y="245.75" width="0.8" height="0.8" fill="#a9c8e8"/>
<rect x="303.80" y="249.55" width="0.8" height="0.8" fill="#a9c8e8"/>
<rect x="303.80" y="218.16" width="0.8" height="0.8" fill="#a9c8e8"/>
<rect x="303.80" y="239.15" width="0.8" height="0.8" fill="#a9c8e8"/>
<rect x="317.21" y="178.77" width="0.8" height="0.8" fill="#a9c8e8"/>
<rect x="317.21" y="171.92" width="0.8" height="0.8" fill="#a9c8e8"/>
<rect x="317.21" y="305.10" width="0.8" height="0.8" fill="#a9c8e8"/>
<rect x="317.21" y="205.00" width="0.8" height="0.8" fill="#a9c8e8"/>
<rect x="330.63" y="196.09" width="0.8" height="0.8" fill="#a9c8e8"/>
<rect x="330.63" y="194.44" width="0.8" height="0.8" fill="#a9c8e8"/>
<rect x="330.63" y="293.38" width="0.8" height="0.8" fill="#a9c8e8"/>
<rect x="330.63" y="187.68" width="0.8" height="0.8" fill="#a9c8e8"/>
<rect x="344.04" y="210.42" width="0.8" height="0.8" fill="#a9c8e8"/>
<rect x="344.04" y="288.29" width="0.8" height="0.8" fill="#a9c8e8"/>
<rect x="344.04" y="227.67" width="0.8" height="0.8" fill="#a9c8e8"/>
<rect x="344.04" y="193.81" width="0.8" height="0.8" fill="#a9c8e8"/>
<rect x="357.46" y="188.63" width="0.8" height="0.8" fill="#a9c8e8"/>
<rect x="357.46" y="217.31" width="0.8" height="0.8" fill="#a9c8e8"/>
<rect x="357.46" y="196.35" width="0.8" height="0.8" fill="#a9c8e8"/>
<rect x="357.46" y="202.21" width="0.8" height="0.8" fill="#a9c8e8"/>
<rect x="370.87" y="180.24" width="0.8" height="0.8" fill="#a9c8e8"/>
<rect x="370.87" y="209.82" width="0.8" height="0.8" fill="#a9c8e8"/>
<rect x="370.87" y="170.40" width="0.8" height="0.8" fill="#a9c8e8"/>
<rect x="370.87" y="192.54" width="0.8" height="0.8" fill="#a9c8e8"/>
<rect x="384.29" y="193.10" width="0.8" height="0.8" fill="#a9c8e8"/>
<rect x="384.29" y="193.36" width="0.8" height="0.8" fill="#a9c8e8"/>
<rect x="384.29" y="183.25" width="0.8" height="0.8" fill="#a9c8e8"/>
<rect x="384.29" y="191.05" width="0.8" height="0.8" fill="#a9c8e8"/>
<rect x="397.70" y="195.84" width="0.8" height="0.8" fill="#a9c8e8"/>
<rect x="397.70" y="176.16" width="0.8" height="0.8" fill="#a9c8e8"/>
<rect x="397.70" y="190.41" width="0.8" height="0.8" fill="#a9c8e8"/>
<rect x="397.70" y="302.01" width="0.8" height="0.8" fill="#a9c8e8"/>
<rect x="411.12" y="180.01" width="0.8" height="0.8" fill="#a9c8e8"/>
<rect x="411.12" y="186.63" width="0.8" height="0.8" fill="#a9c8e8"/>
<rect x="411.12" y="182.02" width="0.8" height="0.8" fill="#a9c8e8"/>
<rect x="411.12" y="277.12" width="0.8" height="0.8" fill="#a9c8e8"/>
<rect x="424.53" y="306.77" width="0.8" height="0.8" fill="#a9c8e8"/>
<rect x="424.53" y="172.97" width="0.8" height="0.8" fill="#a9c8e8"/>
<rect x="424.53" y="272.08" width="0.8" height="0.8" fill="#a9c8e8"/>
<rect x="424.53" y="179.27" width="0.8" height="0.8" fill="#a9c8e8"/>
<rect x="437.95" y="172.01" width="0.8" height="0.8" fill="#a9c8e8"/>
<rect x="437.95" y="217.75" width="0.8" height="0.8" fill="#a9c8e8"/>
<rect x="437.95" y="171.66" width="0.8" height="0.8" fill="#a9c8e8"/>
<rect x="437.95" y="243.50" width="0.8" height="0.8" fill="#a9c8e8"/>
<rect x="451.36" y="279.62" width="0.8" height="0.8" fill="#a9c8e8"/>
<rect x="464.78" y="304.69" width="0.8" height="0.8" fill="#a9c8e8"/>
<rect x="464.78" y="182.63" width="0.8" height="0.8" fill="#a9c8e8"/>
<rect x="478.19" y="293.21" width="0.8" height="0.8" fill="#a9c8e8"/>
<path d="M229.33,328.00 L228.98,327.39 L228.64,326.78 L228.31,326.17 L227.97,325.56 L227.65,324.95 L227.33,324.34 L227.02,323.72 L226.71,323.11 L226.41,322.50 L226.11,321.89 L225.83,321.28 L225.55,320.67 L225.28,320.06 L225.02,319.45 L224.77,318.84 L224.54,318.23 L224.32,317.62 L224.12,317.01 L223.96,316.40 L223.90,315.78 L223.90,315.17 L223.90,314.56 L223.90,313.95 L223.90,313.34 L223.89,312.73 L223.89,312.12 L223.89,311.51 L223.89,310.90 L223.89,310.29 L223.89,309.68 L223.89,309.07 L223.89,308.46 L223.89,307.84 L223.88,307.23 L223.88,306.62 L223.88,306.01 L223.88,305.40 L223.88,304.79 L223.88,304.18 L223.88,303.57 L223.88,302.96 L223.88,302.35 L223.87,301.74 L223.87,301.13 L223.87,300.52 L223.87,299.90 L223.87,299.29 L223.87,298.68 L223.87,298.07 L223.87,297.46 L223.87,296.85 L223.87,296.24 L223.86,295.63 L223.86,295.02 L223.86,294.41 L223.86,293.80 L223.86,293.19 L223.86,292.58 L223.86,291.96 L223.86,291.35 L223.86,290.74 L223.86,290.13 L223.85,289.52 L223.85,288.91 L223.85,288.30 L223.85,287.69 L223.85,287.08 L223.85,286.47 L223.85,285.86 L223.85,285.25 L223.85,284.64 L223.85,284.02 L223.85,283.41 L223.84,282.80 L223.84,282.19 L223.84,281.58 L223.84,280.97 L223.84,280.36 L223.84,279.75 L223.84,279.14 L223.84,278.53 L223.84,277.92 L223.84,277.31 L223.84,276.70 L223.84,276.08 L223.83,275.47 L223.83,274.86 L223.83,274.25 L223.83,273.64 L223.83,273.03 L223.83,272.42 L223.83,271.81 L223.83,271.20 L223.83,270.59 L223.83,269.98 L223.83,269.37 L223.83,268.76 L223.82,268.14 L223.82,267.53 L223.82,266.92 L223.82,266.31 L223.82,265.70 L223.82,265.09 L223.82,264.48 L223.82,263.87 L223.82,263.26 L223.82,262.65 L223.82,262.04 L223.82,261.43 L223.82,260.82 L223.82,260.20 L223.81,259.59 L223.81,258.98 L223.81,258.37 L223.81,257.76 L223.81,257.15 L223.81,256.54 L223.81,255.93 L223.81,255.32 L223.81,254.71 L223.81,254.10 L223.81,253.49 L223.81,252.88 L223.81,252.26 L223.81,251.65 L223.81,251.04 L223.80,250.43 L223.80,249.82 L223.80,249.21 L223.80,248.60 L223.80,247.99 L223.80,247.38 L223.80,246.77 L223.80,246.16 L223.80,245.55 L223.80,244.94 L223.80,244.32 L223.80,243.71 L223.80,243.10 L223.80,242.49 L223.80,241.88 L223.80,241.27 L223.80,240.66 L223.79,240.05 L223.79,239.44 L223.79,238.83 L223.79,238.22 L223.79,237.61 L223.79,237.00 L223.79,236.38 L223.79,235.77 L223.79,235.16 L223.79,234.55 L223.79,233.94 L223.79,233.33 L223.79,232.72 L223.79,232.11 L223.79,231.50 L223.79,230.89 L223.79,230.28 L223.79,229.67 L223.79,229.06 L223.78,228.44 L223.78,227.83 L223.78,227.22 L223.78,226.61 L223.78,226.00 L223.78,225.39 L223.78,224.78 L223.78,224.17 L223.78,223.56 L223.78,222.95 L223.78,222.34 L223.78,221.73 L223.78,221.12 L223.78,220.50 L223.78,219.89 L223.78,219.28 L223.78,218.67 L223.78,218.06 L223.78,217.45 L223.78,216.84 L223.78,216.23 L223.78,215.62 L223.77,215.01 L223.77,214.40 L223.77,213.79 L223.77,213.18 L223.77,212.56 L223.77,211.95 L223.77,211.34 L223.77,210.73 L223.77,210.12 L223.77,209.51 L223.77,208.90 L223.77,208.29 L223.77,207.68 L223.77,207.07 L223.77,206.46 L223.77,205.85 L223.77,205.24 L223.77,204.62 L223.77,204.01 L223.77,203.40 L223.77,202.79 L223.77,202.18 L223.77,201.57 L223.77,200.96 L223.77,200.35 L223.76,199.74 L223.76,199.13 L223.76,198.52 L223.76,197.91 L223.76,197.30 L223.76,196.68 L223.76,196.07 L223.76,195.46 L223.76,194.85 L223.76,194.24 L223.76,193.63 L223.76,193.02 L223.76,192.41 L223.76,191.80 L223.76,191.19 L223.76,190.58 L223.76,189.97 L223.76,189.36 L223.76,188.74 L223.76,188.13 L223.76,187.52 L223.76,186.91 L223.76,186.30 L223.76,185.69 L223.76,185.08 L223.76,184.47 L223.76,183.86 L223.76,183.25 L223.76,182.64 L223.76,182.03 L223.75,181.42 L223.75,180.80 L223.75,180.19 L223.75,179.58 L223.75,178.97 L223.75,178.36 L223.75,177.75 L223.75,177.14 L223.75,176.53 L223.75,175.92 L223.75,175.31 L223.75,174.70 L223.75,174.09 L223.75,173.48 L223.75,172.86 L223.75,172.25 L223.75,171.64 L223.75,171.03 L223.75,170.42 L223.75,169.81 L223.75,169.20 L223.67,169.20 L223.67,169.81 L223.67,170.42 L223.67,171.03 L223.66,171.64 L223.66,172.25 L223.66,172.86 L223.66,173.48 L223.66,174.09 L223.66,174.70 L223.66,175.31 L223.66,175.92 L223.66,176.53 L223.66,177.14 L223.66,177.75 L223.66,178.36 L223.66,178.97 L223.66,179.58 L223.66,180.19 L223.66,180.80 L223.66,181.42 L223.66,182.03 L223.66,182.64 L223.66,183.25 L223.66,183.86 L223.66,184.47 L223.66,185.08 L223.66,185.69 L223.66,186.30 L223.66,186.91 L223.66,187.52 L223.66,188.13 L223.66,188.74 L223.66,189.36 L223.66,189.97 L223.66,190.58 L223.66,191.19 L223.65,191.80 L223.65,192.41 L223.65,193.02 L223.65,193.63 L223.65,194.24 L223.65,194.85 L223.65,195.46 L223.65,196.07 L223.65,196.68 L223.65,197.30 L223.65,197.91 L223.65,198.52 L223.65,199.13 L223.65,199.74 L223.65,200.35 L223.65,200.96 L223.65,201.57 L223.65,202.18 L223.65,202.79 L223.65,203.40 L223.65,204.01 L223.65,204.62 L223.65,205.24 L223.65,205.85 L223.65,206.46 L223.65,207.07 L223.65,207.68 L223.64,208.29 L223.64,208.90 L223.64,209.51 L223.64,210.12 L223.64,210.73 L223.64,211.34 L223.64,211.95 L223.64,212.56 L223.64,213.18 L223.64,213.79 L223.64,214.40 L223.64,215.01 L223.64,215.62 L223.64,216.23 L223.64,216.84 L223.64,217.45 L223.64,218.06 L223.64,218.67 L223.64,219.28 L223.64,219.89 L223.64,220.50 L223.64,221.12 L223.64,221.73 L223.63,222.34 L223.63,222.95 L223.63,223.56 L223.63,224.17 L223.63,224.78 L223.63,225.39 L223.63,226.00 L223.63,226.61 L223.63,227.22 L223.63,227.83 L223.63,228.44 L223.63,229.06 L223.63,229.67 L223.63,230.28 L223.63,230.89 L223.63,231.50 L223.63,232.11 L223.63,232.72 L223.63,233.33 L223.63,233.94 L223.62,234.55 L223.62,235.16 L223.62,235.77 L223.62,236.38 L223.62,237.00 L223.62,237.61 L223.62,238.22 L223.62,238.83 L223.62,239.44 L223.62,240.05 L223.62,240.66 L223.62,241.27 L223.62,241.88 L223.62,242.49 L223.62,243.10 L223.62,243.71 L223.62,244.32 L223.62,244.94 L223.61,245.55 L223.61,246.16 L223.61,246.77 L223.61,247.38 L223.61,247.99 L223.61,248.60 L223.61,249.21 L223.61,249.82 L223.61,250.43 L223.61,251.04 L223.61,251.65 L223.61,252.26 L223.61,252.88 L223.61,253.49 L223.61,254.10 L223.61,254.71 L223.60,255.32 L223.60,255.93 L223.60,256.54 L223.60,257.15 L223.60,257.76 L223.60,258.37 L223.60,258.98 L223.60,259.59 L223.60,260.20 L223.60,260.82 L223.60,261.43 L223.60,262.04 L223.60,262.65 L223.60,263.26 L223.60,263.87 L223.59,264.48 L223.59,265.09 L223.59,265.70 L223.59,266.31 L223.59,266.92 L223.59,267.53 L223.59,268.14 L223.59,268.76 L223.59,269.37 L223.59,269.98 L223.59,270.59 L223.59,271.20 L223.59,271.81 L223.58,272.42 L223.58,273.03 L223.58,273.64 L223.58,274.25 L223.58,274.86 L223.58,275.47 L223.58,276.08 L223.58,276.70 L223.58,277.31 L223.58,277.92 L223.58,278.53 L223.58,279.14 L223.57,279.75 L223.57,280.36 L223.57,280.97 L223.57,281.58 L223.57,282.19 L223.57,282.80 L223.57,283.41 L223.57,284.02 L223.57,284.64 L223.57,285.25 L223.57,285.86 L223.57,286.47 L223.56,287.08 L223.56,287.69 L223.56,288.30 L223.56,288.91 L223.56,289.52 L223.56,290.13 L223.56,290.74 L223.56,291.35 L223.56,291.96 L223.56,292.58 L223.55,293.19 L223.55,293.80 L223.55,294.41 L223.55,295.02 L223.55,295.63 L223.55,296.24 L223.55,296.85 L223.55,297.46 L223.55,298.07 L223.55,298.68 L223.54,299.29 L223.54,299.90 L223.54,300.52 L223.54,301.13 L223.54,301.74 L223.54,302.35 L223.54,302.96 L223.54,303.57 L223.54,304.18 L223.54,304.79 L223.53,305.40 L223.53,306.01 L223.53,306.62 L223.53,307.23 L223.53,307.84 L223.53,308.46 L223.53,309.07 L223.53,309.68 L223.52,310.29 L223.52,310.90 L223.52,311.51 L223.52,312.12 L223.52,312.73 L223.52,313.34 L223.52,313.95 L223.52,314.56 L223.52,315.17 L223.51,315.78 L223.46,316.40 L223.29,317.01 L223.10,317.62 L222.88,318.23 L222.64,318.84 L222.40,319.45 L222.14,320.06 L221.87,320.67 L221.59,321.28 L221.30,321.89 L221.01,322.50 L220.71,323.11 L220.40,323.72 L220.09,324.34 L219.77,324.95 L219.44,325.56 L219.11,326.17 L218.77,326.78 L218.43,327.39 L218.09,328.00Z" fill="#2a72b9"/>
<line x1="223.71" y1="328.00" x2="223.71" y2="323.24" stroke="#111" stroke-width="1.8"/>
<line x1="223.71" y1="329.60" x2="223.71" y2="321.64" stroke="#111" stroke-width="0.6"/>
<rect x="222.81" y="324.34" width="1.8" height="1.6" fill="#fff"/>
<path d="M238.13,328.00 L238.20,327.68 L238.27,327.36 L238.35,327.03 L238.43,326.71 L238.52,326.39 L238.61,326.07 L238.70,325.75 L238.81,325.42 L238.91,325.10 L239.02,324.78 L239.14,324.46 L239.26,324.14 L239.39,323.82 L239.52,323.49 L239.66,323.17 L239.80,322.85 L239.94,322.53 L240.09,322.21 L240.24,321.88 L240.40,321.56 L240.55,321.24 L240.71,320.92 L240.87,320.60 L241.02,320.27 L241.18,319.95 L241.33,319.63 L241.48,319.31 L241.63,318.99 L241.77,318.67 L241.91,318.34 L242.04,318.02 L242.16,317.70 L242.27,317.38 L242.36,317.06 L242.45,316.73 L242.51,316.41 L242.56,316.09 L242.54,315.77 L242.52,315.45 L242.46,315.12 L242.39,314.80 L242.30,314.48 L242.20,314.16 L242.08,313.84 L241.95,313.52 L241.81,313.19 L241.67,312.87 L241.52,312.55 L241.36,312.23 L241.20,311.91 L241.04,311.58 L240.88,311.26 L240.71,310.94 L240.55,310.62 L240.39,310.30 L240.23,309.97 L240.07,309.65 L239.91,309.33 L239.76,309.01 L239.61,308.69 L239.47,308.37 L239.33,308.04 L239.20,307.72 L239.07,307.40 L238.95,307.08 L238.83,306.76 L238.72,306.43 L238.62,306.11 L238.51,305.79 L238.42,305.47 L238.33,305.15 L238.25,304.82 L238.17,304.50 L238.09,304.18 L238.03,303.86 L237.96,303.54 L237.90,303.22 L237.85,302.89 L237.79,302.57 L237.75,302.25 L237.70,301.93 L237.66,301.61 L237.63,301.28 L237.59,300.96 L237.56,300.64 L237.53,300.32 L237.50,300.00 L237.48,299.67 L237.46,299.35 L237.44,299.03 L237.42,298.71 L237.40,298.39 L237.39,298.07 L237.37,297.74 L237.36,297.42 L237.35,297.10 L237.34,296.78 L237.33,296.46 L237.32,296.13 L237.31,295.81 L237.30,295.49 L237.30,295.17 L237.29,294.85 L237.29,294.52 L237.28,294.20 L237.28,293.88 L237.27,293.56 L237.27,293.24 L237.27,292.92 L237.26,292.59 L237.26,292.27 L237.26,291.95 L237.25,291.63 L237.25,291.31 L237.25,290.98 L237.25,290.66 L237.24,290.34 L237.24,290.02 L237.24,289.70 L237.24,289.37 L237.24,289.05 L237.23,288.73 L237.23,288.41 L237.23,288.09 L237.23,287.77 L237.23,287.44 L237.23,287.12 L237.23,286.80 L237.22,286.48 L237.22,286.16 L237.22,285.83 L237.22,285.51 L237.22,285.19 L237.22,284.87 L237.22,284.55 L237.22,284.22 L237.21,283.90 L237.21,283.58 L237.21,283.26 L237.21,282.94 L237.21,282.62 L237.21,282.29 L237.21,281.97 L237.21,281.65 L237.21,281.33 L237.20,281.01 L237.20,280.68 L237.20,280.36 L237.20,280.04 L237.20,279.72 L237.20,279.40 L237.20,279.07 L237.20,278.75 L237.20,278.43 L237.20,278.11 L237.19,277.79 L237.19,277.47 L237.19,277.14 L237.19,276.82 L237.19,276.50 L237.19,276.18 L237.19,275.86 L237.19,275.53 L237.19,275.21 L237.19,274.89 L237.19,274.57 L237.18,274.25 L237.18,273.92 L237.18,273.60 L237.18,273.28 L237.18,272.96 L237.18,272.64 L237.18,272.32 L237.18,271.99 L237.18,271.67 L237.18,271.35 L237.18,271.03 L237.18,270.71 L237.18,270.38 L237.18,270.06 L237.17,269.74 L237.17,269.42 L237.17,269.10 L237.17,268.77 L237.17,268.45 L237.17,268.13 L237.17,267.81 L237.17,267.49 L237.17,267.17 L237.17,266.84 L237.17,266.52 L237.17,266.20 L237.17,265.88 L237.17,265.56 L237.17,265.23 L237.17,264.91 L237.17,264.59 L237.16,264.27 L237.16,263.95 L237.16,263.62 L237.16,263.30 L237.16,262.98 L237.16,262.66 L237.16,262.34 L237.16,262.02 L237.16,261.69 L237.16,261.37 L237.16,261.05 L237.16,260.73 L237.16,260.41 L237.16,260.08 L237.16,259.76 L237.16,259.44 L237.16,259.12 L237.16,258.80 L237.16,258.47 L237.16,258.15 L237.16,257.83 L237.15,257.51 L237.15,257.19 L237.15,256.87 L237.15,256.54 L237.15,256.22 L237.15,255.90 L237.15,255.58 L237.15,255.26 L237.15,254.93 L237.15,254.61 L237.15,254.29 L237.15,253.97 L237.15,253.65 L237.15,253.32 L237.15,253.00 L237.15,252.68 L237.15,252.36 L237.15,252.04 L237.15,251.72 L237.15,251.39 L237.15,251.07 L237.15,250.75 L237.15,250.43 L237.15,250.11 L237.15,249.78 L237.15,249.46 L237.15,249.14 L237.15,248.82 L237.15,248.50 L237.14,248.17 L237.14,247.85 L237.14,247.53 L237.14,247.21 L237.14,246.89 L237.14,246.57 L237.14,246.24 L237.14,245.92 L237.14,245.60 L237.14,245.28 L237.14,244.96 L237.14,244.63 L237.14,244.31 L237.10,244.31 L237.10,244.63 L237.10,244.96 L237.10,245.28 L237.10,245.60 L237.10,245.92 L237.10,246.24 L237.10,246.57 L237.10,246.89 L237.10,247.21 L237.10,247.53 L237.10,247.85 L237.10,248.17 L237.10,248.50 L237.10,248.82 L237.10,249.14 L237.10,249.46 L237.10,249.78 L237.10,250.11 L237.10,250.43 L237.10,250.75 L237.10,251.07 L237.10,251.39 L237.10,251.72 L237.10,252.04 L237.10,252.36 L237.10,252.68 L237.10,253.00 L237.10,253.32 L237.09,253.65 L237.09,253.97 L237.09,254.29 L237.09,254.61 L237.09,254.93 L237.09,255.26 L237.09,255.58 L237.09,255.90 L237.09,256.22 L237.09,256.54 L237.09,256.87 L237.09,257.19 L237.09,257.51 L237.09,257.83 L237.09,258.15 L237.09,258.47 L237.09,258.80 L237.09,259.12 L237.09,259.44 L237.09,259.76 L237.09,260.08 L237.09,260.41 L237.09,260.73 L237.09,261.05 L237.08,261.37 L237.08,261.69 L237.08,262.02 L237.08,262.34 L237.08,262.66 L237.08,262.98 L237.08,263.30 L237.08,263.62 L237.08,263.95 L237.08,264.27 L237.08,264.59 L237.08,264.91 L237.08,265.23 L237.08,265.56 L237.08,265.88 L237.08,266.20 L237.08,266.52 L237.08,266.84 L237.08,267.17 L237.07,267.49 L237.07,267.81 L237.07,268.13 L237.07,268.45 L237.07,268.77 L237.07,269.10 L237.07,269.42 L237.07,269.74 L237.07,270.06 L237.07,270.38 L237.07,270.71 L237.07,271.03 L237.07,271.35 L237.07,271.67 L237.07,271.99 L237.06,272.32 L237.06,272.64 L237.06,272.96 L237.06,273.28 L237.06,273.60 L237.06,273.92 L237.06,274.25 L237.06,274.57 L237.06,274.89 L237.06,275.21 L237.06,275.53 L237.06,275.86 L237.06,276.18 L237.05,276.50 L237.05,276.82 L237.05,277.14 L237.05,277.47 L237.05,277.79 L237.05,278.11 L237.05,278.43 L237.05,278.75 L237.05,279.07 L237.05,279.40 L237.05,279.72 L237.04,280.04 L237.04,280.36 L237.04,280.68 L237.04,281.01 L237.04,281.33 L237.04,281.65 L237.04,281.97 L237.04,282.29 L237.04,282.62 L237.03,282.94 L237.03,283.26 L237.03,283.58 L237.03,283.90 L237.03,284.22 L237.03,284.55 L237.03,284.87 L237.03,285.19 L237.02,285.51 L237.02,285.83 L237.02,286.16 L237.02,286.48 L237.02,286.80 L237.02,287.12 L237.02,287.44 L237.02,287.77 L237.01,288.09 L237.01,288.41 L237.01,288.73 L237.01,289.05 L237.01,289.37 L237.01,289.70 L237.00,290.02 L237.00,290.34 L237.00,290.66 L237.00,290.98 L236.99,291.31 L236.99,291.63 L236.99,291.95 L236.99,292.27 L236.98,292.59 L236.98,292.92 L236.98,293.24 L236.97,293.56 L236.97,293.88 L236.96,294.20 L236.96,294.52 L236.95,294.85 L236.95,295.17 L236.94,295.49 L236.93,295.81 L236.93,296.13 L236.92,296.46 L236.91,296.78 L236.90,297.10 L236.89,297.42 L236.87,297.74 L236.86,298.07 L236.84,298.39 L236.83,298.71 L236.81,299.03 L236.79,299.35 L236.77,299.67 L236.74,300.00 L236.71,300.32 L236.69,300.64 L236.65,300.96 L236.62,301.28 L236.58,301.61 L236.54,301.93 L236.50,302.25 L236.45,302.57 L236.40,302.89 L236.34,303.22 L236.28,303.54 L236.22,303.86 L236.15,304.18 L236.08,304.50 L236.00,304.82 L235.91,305.15 L235.82,305.47 L235.73,305.79 L235.63,306.11 L235.52,306.43 L235.41,306.76 L235.30,307.08 L235.17,307.40 L235.05,307.72 L234.91,308.04 L234.77,308.37 L234.63,308.69 L234.48,309.01 L234.33,309.33 L234.18,309.65 L234.02,309.97 L233.86,310.30 L233.70,310.62 L233.53,310.94 L233.37,311.26 L233.20,311.58 L233.04,311.91 L232.88,312.23 L232.73,312.55 L232.57,312.87 L232.43,313.19 L232.29,313.52 L232.17,313.84 L232.05,314.16 L231.94,314.48 L231.85,314.80 L231.78,315.12 L231.73,315.45 L231.70,315.77 L231.68,316.09 L231.73,316.41 L231.80,316.73 L231.88,317.06 L231.98,317.38 L232.09,317.70 L232.21,318.02 L232.34,318.34 L232.47,318.67 L232.61,318.99 L232.76,319.31 L232.91,319.63 L233.07,319.95 L233.22,320.27 L233.38,320.60 L233.54,320.92 L233.69,321.24 L233.85,321.56 L234.00,321.88 L234.15,322.21 L234.30,322.53 L234.45,322.85 L234.59,323.17 L234.72,323.49 L234.85,323.82 L234.98,324.14 L235.10,324.46 L235.22,324.78 L235.33,325.10 L235.44,325.42 L235.54,325.75 L235.64,326.07 L235.73,326.39 L235.82,326.71 L235.90,327.03 L235.97,327.36 L236.05,327.68 L236.11,328.00Z" fill="#2a72b9"/>
<line x1="237.12" y1="318.47" x2="237.12" y2="313.07" stroke="#111" stroke-width="1.8"/>
<line x1="237.12" y1="320.63" x2="237.12" y2="310.91" stroke="#111" stroke-width="0.6"/>
<rect x="236.22" y="314.97" width="1.8" height="1.6" fill="#fff"/>
<path d="M251.18,328.00 L251.21,327.65 L251.25,327.30 L251.28,326.95 L251.33,326.60 L251.37,326.25 L251.41,325.90 L251.46,325.55 L251.51,325.20 L251.57,324.85 L251.62,324.50 L251.68,324.15 L251.74,323.80 L251.81,323.45 L251.88,323.10 L251.95,322.75 L252.02,322.40 L252.10,322.05 L252.18,321.70 L252.27,321.35 L252.36,321.00 L252.45,320.65 L252.54,320.30 L252.64,319.95 L252.74,319.60 L252.84,319.25 L252.95,318.90 L253.06,318.55 L253.17,318.20 L253.29,317.85 L253.40,317.50 L253.52,317.15 L253.64,316.80 L253.77,316.45 L253.89,316.10 L254.02,315.75 L254.14,315.40 L254.27,315.05 L254.39,314.70 L254.52,314.35 L254.64,314.00 L254.77,313.65 L254.89,313.30 L255.01,312.95 L255.12,312.60 L255.23,312.25 L255.34,311.90 L255.44,311.55 L255.54,311.20 L255.63,310.85 L255.71,310.50 L255.79,310.15 L255.85,309.80 L255.91,309.45 L255.95,309.10 L255.99,308.75 L255.96,308.40 L255.93,308.05 L255.88,307.70 L255.82,307.35 L255.74,307.00 L255.65,306.65 L255.55,306.30 L255.44,305.95 L255.33,305.60 L255.20,305.25 L255.07,304.90 L254.94,304.55 L254.80,304.20 L254.66,303.85 L254.52,303.50 L254.37,303.15 L254.23,302.80 L254.08,302.45 L253.93,302.10 L253.79,301.75 L253.65,301.40 L253.50,301.05 L253.37,300.70 L253.23,300.35 L253.10,300.00 L252.97,299.65 L252.84,299.30 L252.72,298.95 L252.60,298.60 L252.49,298.25 L252.38,297.90 L252.27,297.55 L252.17,297.20 L252.07,296.85 L251.98,296.50 L251.89,296.15 L251.81,295.80 L251.73,295.45 L251.66,295.10 L251.58,294.75 L251.52,294.40 L251.45,294.05 L251.40,293.70 L251.34,293.35 L251.29,293.00 L251.24,292.65 L251.19,292.30 L251.15,291.95 L251.11,291.60 L251.07,291.25 L251.04,290.90 L251.01,290.55 L250.98,290.20 L250.95,289.85 L250.92,289.50 L250.90,289.15 L250.88,288.80 L250.86,288.45 L250.84,288.10 L250.82,287.75 L250.80,287.40 L250.79,287.05 L250.78,286.70 L250.76,286.35 L250.75,286.00 L250.74,285.65 L250.73,285.30 L250.72,284.95 L250.72,284.60 L250.71,284.25 L250.70,283.90 L250.70,283.55 L250.69,283.20 L250.68,282.85 L250.68,282.50 L250.67,282.15 L250.67,281.80 L250.67,281.45 L250.66,281.10 L250.66,280.75 L250.66,280.40 L250.65,280.05 L250.65,279.70 L250.65,279.35 L250.65,279.00 L250.64,278.65 L250.64,278.30 L250.64,277.95 L250.64,277.60 L250.63,277.25 L250.63,276.90 L250.63,276.55 L250.63,276.20 L250.63,275.85 L250.63,275.50 L250.63,275.15 L250.62,274.80 L250.62,274.45 L250.62,274.10 L250.62,273.75 L250.62,273.40 L250.62,273.05 L250.62,272.70 L250.62,272.35 L250.61,272.00 L250.61,271.65 L250.61,271.30 L250.61,270.95 L250.61,270.60 L250.61,270.25 L250.61,269.90 L250.61,269.55 L250.61,269.20 L250.60,268.85 L250.60,268.50 L250.60,268.15 L250.60,267.81 L250.60,267.46 L250.60,267.11 L250.60,266.76 L250.60,266.41 L250.60,266.06 L250.60,265.71 L250.60,265.36 L250.60,265.01 L250.59,264.66 L250.59,264.31 L250.59,263.96 L250.59,263.61 L250.59,263.26 L250.59,262.91 L250.59,262.56 L250.59,262.21 L250.59,261.86 L250.59,261.51 L250.59,261.16 L250.59,260.81 L250.59,260.46 L250.59,260.11 L250.58,259.76 L250.58,259.41 L250.58,259.06 L250.58,258.71 L250.58,258.36 L250.58,258.01 L250.58,257.66 L250.58,257.31 L250.58,256.96 L250.58,256.61 L250.58,256.26 L250.58,255.91 L250.58,255.56 L250.58,255.21 L250.58,254.86 L250.58,254.51 L250.58,254.16 L250.57,253.81 L250.57,253.46 L250.57,253.11 L250.57,252.76 L250.57,252.41 L250.57,252.06 L250.57,251.71 L250.57,251.36 L250.57,251.01 L250.57,250.66 L250.57,250.31 L250.57,249.96 L250.57,249.61 L250.57,249.26 L250.57,248.91 L250.57,248.56 L250.57,248.21 L250.57,247.86 L250.57,247.51 L250.57,247.16 L250.57,246.81 L250.57,246.46 L250.56,246.11 L250.56,245.76 L250.56,245.41 L250.56,245.06 L250.56,244.71 L250.56,244.36 L250.56,244.01 L250.56,243.66 L250.56,243.31 L250.56,242.96 L250.56,242.61 L250.56,242.26 L250.56,241.91 L250.56,241.56 L250.56,241.21 L250.56,240.86 L250.56,240.51 L250.56,240.16 L250.56,239.81 L250.56,239.46 L250.56,239.11 L250.56,238.76 L250.56,238.41 L250.56,238.06 L250.56,237.71 L250.56,237.36 L250.56,237.01 L250.52,237.01 L250.52,237.36 L250.52,237.71 L250.52,238.06 L250.52,238.41 L250.52,238.76 L250.52,239.11 L250.52,239.46 L250.52,239.81 L250.52,240.16 L250.52,240.51 L250.52,240.86 L250.51,241.21 L250.51,241.56 L250.51,241.91 L250.51,242.26 L250.51,242.61 L250.51,242.96 L250.51,243.31 L250.51,243.66 L250.51,244.01 L250.51,244.36 L250.51,244.71 L250.51,245.06 L250.51,245.41 L250.51,245.76 L250.51,246.11 L250.51,246.46 L250.51,246.81 L250.51,247.16 L250.51,247.51 L250.51,247.86 L250.51,248.21 L250.51,248.56 L250.51,248.91 L250.51,249.26 L250.51,249.61 L250.51,249.96 L250.51,250.31 L250.50,250.66 L250.50,251.01 L250.50,251.36 L250.50,251.71 L250.50,252.06 L250.50,252.41 L250.50,252.76 L250.50,253.11 L250.50,253.46 L250.50,253.81 L250.50,254.16 L250.50,254.51 L250.50,254.86 L250.50,255.21 L250.50,255.56 L250.50,255.91 L250.50,256.26 L250.50,256.61 L250.50,256.96 L250.49,257.31 L250.49,257.66 L250.49,258.01 L250.49,258.36 L250.49,258.71 L250.49,259.06 L250.49,259.41 L250.49,259.76 L250.49,260.11 L250.49,260.46 L250.49,260.81 L250.49,261.16 L250.49,261.51 L250.49,261.86 L250.49,262.21 L250.48,262.56 L250.48,262.91 L250.48,263.26 L250.48,263.61 L250.48,263.96 L250.48,264.31 L250.48,264.66 L250.48,265.01 L250.48,265.36 L250.48,265.71 L250.48,266.06 L250.48,266.41 L250.48,266.76 L250.47,267.11 L250.47,267.46 L250.47,267.81 L250.47,268.15 L250.47,268.50 L250.47,268.85 L250.47,269.20 L250.47,269.55 L250.47,269.90 L250.47,270.25 L250.47,270.60 L250.46,270.95 L250.46,271.30 L250.46,271.65 L250.46,272.00 L250.46,272.35 L250.46,272.70 L250.46,273.05 L250.46,273.40 L250.45,273.75 L250.45,274.10 L250.45,274.45 L250.45,274.80 L250.45,275.15 L250.45,275.50 L250.45,275.85 L250.45,276.20 L250.44,276.55 L250.44,276.90 L250.44,277.25 L250.44,277.60 L250.44,277.95 L250.43,278.30 L250.43,278.65 L250.43,279.00 L250.43,279.35 L250.42,279.70 L250.42,280.05 L250.42,280.40 L250.42,280.75 L250.41,281.10 L250.41,281.45 L250.40,281.80 L250.40,282.15 L250.40,282.50 L250.39,282.85 L250.39,283.20 L250.38,283.55 L250.37,283.90 L250.37,284.25 L250.36,284.60 L250.35,284.95 L250.34,285.30 L250.33,285.65 L250.32,286.00 L250.31,286.35 L250.30,286.70 L250.29,287.05 L250.27,287.40 L250.25,287.75 L250.24,288.10 L250.22,288.45 L250.20,288.80 L250.18,289.15 L250.15,289.50 L250.13,289.85 L250.10,290.20 L250.07,290.55 L250.04,290.90 L250.00,291.25 L249.97,291.60 L249.93,291.95 L249.88,292.30 L249.84,292.65 L249.79,293.00 L249.74,293.35 L249.68,293.70 L249.62,294.05 L249.56,294.40 L249.49,294.75 L249.42,295.10 L249.34,295.45 L249.26,295.80 L249.18,296.15 L249.09,296.50 L249.00,296.85 L248.90,297.20 L248.80,297.55 L248.70,297.90 L248.59,298.25 L248.47,298.60 L248.36,298.95 L248.23,299.30 L248.11,299.65 L247.98,300.00 L247.85,300.35 L247.71,300.70 L247.57,301.05 L247.43,301.40 L247.29,301.75 L247.14,302.10 L246.99,302.45 L246.85,302.80 L246.70,303.15 L246.56,303.50 L246.41,303.85 L246.27,304.20 L246.13,304.55 L246.00,304.90 L245.87,305.25 L245.75,305.60 L245.63,305.95 L245.52,306.30 L245.42,306.65 L245.33,307.00 L245.26,307.35 L245.19,307.70 L245.15,308.05 L245.12,308.40 L245.09,308.75 L245.12,309.10 L245.16,309.45 L245.22,309.80 L245.29,310.15 L245.36,310.50 L245.45,310.85 L245.54,311.20 L245.63,311.55 L245.74,311.90 L245.84,312.25 L245.95,312.60 L246.07,312.95 L246.19,313.30 L246.31,313.65 L246.43,314.00 L246.56,314.35 L246.68,314.70 L246.81,315.05 L246.93,315.40 L247.06,315.75 L247.18,316.10 L247.31,316.45 L247.43,316.80 L247.55,317.15 L247.67,317.50 L247.79,317.85 L247.90,318.20 L248.02,318.55 L248.13,318.90 L248.23,319.25 L248.34,319.60 L248.44,319.95 L248.53,320.30 L248.63,320.65 L248.72,321.00 L248.81,321.35 L248.89,321.70 L248.97,322.05 L249.05,322.40 L249.13,322.75 L249.20,323.10 L249.27,323.45 L249.33,323.80 L249.39,324.15 L249.45,324.50 L249.51,324.85 L249.56,325.20 L249.61,325.55 L249.66,325.90 L249.71,326.25 L249.75,326.60 L249.79,326.95 L249.83,327.30 L249.86,327.65 L249.90,328.00Z" fill="#2a72b9"/>
<line x1="250.54" y1="311.97" x2="250.54" y2="304.97" stroke="#111" stroke-width="1.8"/>
<line x1="250.54" y1="314.77" x2="250.54" y2="302.17" stroke="#111" stroke-width="0.6"/>
<rect x="249.64" y="307.67" width="1.8" height="1.6" fill="#fff"/>
<path d="M264.43,328.00 L264.45,327.62 L264.48,327.24 L264.50,326.87 L264.53,326.49 L264.55,326.11 L264.58,325.73 L264.61,325.35 L264.64,324.98 L264.67,324.60 L264.71,324.22 L264.74,323.84 L264.78,323.46 L264.82,323.09 L264.86,322.71 L264.91,322.33 L264.95,321.95 L265.00,321.57 L265.05,321.19 L265.10,320.82 L265.16,320.44 L265.21,320.06 L265.27,319.68 L265.33,319.30 L265.40,318.93 L265.46,318.55 L265.53,318.17 L265.60,317.79 L265.68,317.41 L265.75,317.04 L265.83,316.66 L265.91,316.28 L265.99,315.90 L266.08,315.52 L266.16,315.15 L266.25,314.77 L266.35,314.39 L266.44,314.01 L266.53,313.63 L266.63,313.26 L266.73,312.88 L266.83,312.50 L266.93,312.12 L267.04,311.74 L267.14,311.37 L267.25,310.99 L267.36,310.61 L267.46,310.23 L267.57,309.85 L267.68,309.47 L267.79,309.10 L267.89,308.72 L268.00,308.34 L268.11,307.96 L268.21,307.58 L268.31,307.21 L268.42,306.83 L268.51,306.45 L268.61,306.07 L268.70,305.69 L268.79,305.32 L268.88,304.94 L268.96,304.56 L269.04,304.18 L269.11,303.80 L269.18,303.43 L269.24,303.05 L269.29,302.67 L269.34,302.29 L269.37,301.91 L269.40,301.54 L269.37,301.16 L269.35,300.78 L269.32,300.40 L269.27,300.02 L269.21,299.65 L269.13,299.27 L269.05,298.89 L268.97,298.51 L268.87,298.13 L268.77,297.75 L268.66,297.38 L268.55,297.00 L268.43,296.62 L268.31,296.24 L268.19,295.86 L268.07,295.49 L267.94,295.11 L267.81,294.73 L267.68,294.35 L267.55,293.97 L267.43,293.60 L267.30,293.22 L267.17,292.84 L267.04,292.46 L266.92,292.08 L266.80,291.71 L266.68,291.33 L266.56,290.95 L266.44,290.57 L266.33,290.19 L266.22,289.82 L266.11,289.44 L266.01,289.06 L265.91,288.68 L265.81,288.30 L265.71,287.92 L265.62,287.55 L265.54,287.17 L265.45,286.79 L265.37,286.41 L265.29,286.03 L265.22,285.66 L265.15,285.28 L265.08,284.90 L265.02,284.52 L264.96,284.14 L264.90,283.77 L264.84,283.39 L264.79,283.01 L264.74,282.63 L264.69,282.25 L264.65,281.88 L264.61,281.50 L264.57,281.12 L264.53,280.74 L264.50,280.36 L264.46,279.99 L264.43,279.61 L264.40,279.23 L264.38,278.85 L264.35,278.47 L264.33,278.10 L264.31,277.72 L264.29,277.34 L264.27,276.96 L264.25,276.58 L264.23,276.20 L264.22,275.83 L264.20,275.45 L264.19,275.07 L264.18,274.69 L264.17,274.31 L264.15,273.94 L264.14,273.56 L264.14,273.18 L264.13,272.80 L264.12,272.42 L264.11,272.05 L264.10,271.67 L264.10,271.29 L264.09,270.91 L264.09,270.53 L264.08,270.16 L264.08,269.78 L264.07,269.40 L264.07,269.02 L264.06,268.64 L264.06,268.27 L264.06,267.89 L264.05,267.51 L264.05,267.13 L264.05,266.75 L264.05,266.38 L264.04,266.00 L264.04,265.62 L264.04,265.24 L264.04,264.86 L264.03,264.48 L264.03,264.11 L264.03,263.73 L264.03,263.35 L264.03,262.97 L264.03,262.59 L264.02,262.22 L264.02,261.84 L264.02,261.46 L264.02,261.08 L264.02,260.70 L264.02,260.33 L264.02,259.95 L264.02,259.57 L264.02,259.19 L264.01,258.81 L264.01,258.44 L264.01,258.06 L264.01,257.68 L264.01,257.30 L264.01,256.92 L264.01,256.55 L264.01,256.17 L264.01,255.79 L264.01,255.41 L264.00,255.03 L264.00,254.66 L264.00,254.28 L264.00,253.90 L264.00,253.52 L264.00,253.14 L264.00,252.76 L264.00,252.39 L264.00,252.01 L264.00,251.63 L264.00,251.25 L264.00,250.87 L264.00,250.50 L264.00,250.12 L263.99,249.74 L263.99,249.36 L263.99,248.98 L263.99,248.61 L263.99,248.23 L263.99,247.85 L263.99,247.47 L263.99,247.09 L263.99,246.72 L263.99,246.34 L263.99,245.96 L263.99,245.58 L263.99,245.20 L263.99,244.83 L263.99,244.45 L263.99,244.07 L263.99,243.69 L263.99,243.31 L263.98,242.94 L263.98,242.56 L263.98,242.18 L263.98,241.80 L263.98,241.42 L263.98,241.04 L263.98,240.67 L263.98,240.29 L263.98,239.91 L263.98,239.53 L263.98,239.15 L263.98,238.78 L263.98,238.40 L263.98,238.02 L263.98,237.64 L263.98,237.26 L263.98,236.89 L263.98,236.51 L263.98,236.13 L263.98,235.75 L263.98,235.37 L263.98,235.00 L263.98,234.62 L263.98,234.24 L263.98,233.86 L263.97,233.48 L263.97,233.11 L263.97,232.73 L263.97,232.35 L263.97,231.97 L263.97,231.59 L263.97,231.22 L263.97,230.84 L263.97,230.46 L263.97,230.08 L263.97,229.70 L263.93,229.70 L263.93,230.08 L263.93,230.46 L263.93,230.84 L263.93,231.22 L263.93,231.59 L263.93,231.97 L263.93,232.35 L263.93,232.73 L263.93,233.11 L263.93,233.48 L263.93,233.86 L263.93,234.24 L263.93,234.62 L263.93,235.00 L263.93,235.37 L263.93,235.75 L263.93,236.13 L263.93,236.51 L263.93,236.89 L263.93,237.26 L263.93,237.64 L263.93,238.02 L263.93,238.40 L263.93,238.78 L263.92,239.15 L263.92,239.53 L263.92,239.91 L263.92,240.29 L263.92,240.67 L263.92,241.04 L263.92,241.42 L263.92,241.80 L263.92,242.18 L263.92,242.56 L263.92,242.94 L263.92,243.31 L263.92,243.69 L263.92,244.07 L263.92,244.45 L263.92,244.83 L263.92,245.20 L263.92,245.58 L263.92,245.96 L263.92,246.34 L263.91,246.72 L263.91,247.09 L263.91,247.47 L263.91,247.85 L263.91,248.23 L263.91,248.61 L263.91,248.98 L263.91,249.36 L263.91,249.74 L263.91,250.12 L263.91,250.50 L263.91,250.87 L263.91,251.25 L263.91,251.63 L263.91,252.01 L263.91,252.39 L263.90,252.76 L263.90,253.14 L263.90,253.52 L263.90,253.90 L263.90,254.28 L263.90,254.66 L263.90,255.03 L263.90,255.41 L263.90,255.79 L263.90,256.17 L263.90,256.55 L263.90,256.92 L263.89,257.30 L263.89,257.68 L263.89,258.06 L263.89,258.44 L263.89,258.81 L263.89,259.19 L263.89,259.57 L263.89,259.95 L263.89,260.33 L263.89,260.70 L263.88,261.08 L263.88,261.46 L263.88,261.84 L263.88,262.22 L263.88,262.59 L263.88,262.97 L263.88,263.35 L263.87,263.73 L263.87,264.11 L263.87,264.48 L263.87,264.86 L263.87,265.24 L263.86,265.62 L263.86,266.00 L263.86,266.38 L263.86,266.75 L263.85,267.13 L263.85,267.51 L263.85,267.89 L263.84,268.27 L263.84,268.64 L263.84,269.02 L263.83,269.40 L263.83,269.78 L263.82,270.16 L263.82,270.53 L263.81,270.91 L263.81,271.29 L263.80,271.67 L263.79,272.05 L263.79,272.42 L263.78,272.80 L263.77,273.18 L263.76,273.56 L263.75,273.94 L263.74,274.31 L263.73,274.69 L263.72,275.07 L263.70,275.45 L263.69,275.83 L263.67,276.20 L263.66,276.58 L263.64,276.96 L263.62,277.34 L263.60,277.72 L263.58,278.10 L263.55,278.47 L263.53,278.85 L263.50,279.23 L263.47,279.61 L263.44,279.99 L263.41,280.36 L263.37,280.74 L263.34,281.12 L263.30,281.50 L263.26,281.88 L263.21,282.25 L263.16,282.63 L263.11,283.01 L263.06,283.39 L263.01,283.77 L262.95,284.14 L262.89,284.52 L262.82,284.90 L262.76,285.28 L262.69,285.66 L262.61,286.03 L262.53,286.41 L262.45,286.79 L262.37,287.17 L262.28,287.55 L262.19,287.92 L262.10,288.30 L262.00,288.68 L261.90,289.06 L261.79,289.44 L261.69,289.82 L261.58,290.19 L261.46,290.57 L261.35,290.95 L261.23,291.33 L261.11,291.71 L260.99,292.08 L260.86,292.46 L260.73,292.84 L260.61,293.22 L260.48,293.60 L260.35,293.97 L260.22,294.35 L260.09,294.73 L259.96,295.11 L259.84,295.49 L259.71,295.86 L259.59,296.24 L259.47,296.62 L259.36,297.00 L259.24,297.38 L259.14,297.75 L259.04,298.13 L258.94,298.51 L258.85,298.89 L258.77,299.27 L258.70,299.65 L258.64,300.02 L258.59,300.40 L258.55,300.78 L258.53,301.16 L258.51,301.54 L258.53,301.91 L258.57,302.29 L258.61,302.67 L258.67,303.05 L258.73,303.43 L258.79,303.80 L258.87,304.18 L258.94,304.56 L259.02,304.94 L259.11,305.32 L259.20,305.69 L259.29,306.07 L259.39,306.45 L259.49,306.83 L259.59,307.21 L259.69,307.58 L259.80,307.96 L259.90,308.34 L260.01,308.72 L260.12,309.10 L260.23,309.47 L260.33,309.85 L260.44,310.23 L260.55,310.61 L260.66,310.99 L260.76,311.37 L260.87,311.74 L260.97,312.12 L261.07,312.50 L261.17,312.88 L261.27,313.26 L261.37,313.63 L261.47,314.01 L261.56,314.39 L261.65,314.77 L261.74,315.15 L261.83,315.52 L261.91,315.90 L262.00,316.28 L262.08,316.66 L262.15,317.04 L262.23,317.41 L262.30,317.79 L262.37,318.17 L262.44,318.55 L262.51,318.93 L262.57,319.30 L262.63,319.68 L262.69,320.06 L262.75,320.44 L262.80,320.82 L262.85,321.19 L262.90,321.57 L262.95,321.95 L263.00,322.33 L263.04,322.71 L263.08,323.09 L263.12,323.46 L263.16,323.84 L263.20,324.22 L263.23,324.60 L263.26,324.98 L263.30,325.35 L263.33,325.73 L263.35,326.11 L263.38,326.49 L263.41,326.87 L263.43,327.24 L263.45,327.62 L263.47,328.00Z" fill="#2a72b9"/>
<line x1="263.95" y1="305.54" x2="263.95" y2="296.79" stroke="#111" stroke-width="1.8"/>
<line x1="263.95" y1="309.04" x2="263.95" y2="293.29" stroke="#111" stroke-width="0.6"/>
<rect x="263.05" y="300.36" width="1.8" height="1.6" fill="#fff"/>
<path d="M277.75,328.00 L277.76,327.59 L277.78,327.19 L277.80,326.78 L277.82,326.37 L277.83,325.97 L277.85,325.56 L277.87,325.15 L277.90,324.75 L277.92,324.34 L277.94,323.93 L277.97,323.53 L277.99,323.12 L278.02,322.71 L278.05,322.31 L278.08,321.90 L278.11,321.49 L278.14,321.08 L278.18,320.68 L278.21,320.27 L278.25,319.86 L278.29,319.46 L278.33,319.05 L278.37,318.64 L278.41,318.24 L278.46,317.83 L278.51,317.42 L278.56,317.02 L278.61,316.61 L278.66,316.20 L278.71,315.80 L278.77,315.39 L278.83,314.98 L278.89,314.58 L278.95,314.17 L279.01,313.76 L279.08,313.36 L279.14,312.95 L279.21,312.54 L279.28,312.14 L279.36,311.73 L279.43,311.32 L279.51,310.92 L279.59,310.51 L279.67,310.10 L279.75,309.70 L279.83,309.29 L279.92,308.88 L280.00,308.47 L280.09,308.07 L280.18,307.66 L280.27,307.25 L280.36,306.85 L280.46,306.44 L280.55,306.03 L280.64,305.63 L280.74,305.22 L280.83,304.81 L280.93,304.41 L281.03,304.00 L281.12,303.59 L281.22,303.19 L281.31,302.78 L281.41,302.37 L281.50,301.97 L281.60,301.56 L281.69,301.15 L281.78,300.75 L281.87,300.34 L281.96,299.93 L282.04,299.53 L282.13,299.12 L282.21,298.71 L282.28,298.31 L282.36,297.90 L282.43,297.49 L282.49,297.09 L282.56,296.68 L282.61,296.27 L282.66,295.86 L282.71,295.46 L282.75,295.05 L282.78,294.64 L282.81,294.24 L282.83,293.83 L282.78,293.42 L282.75,293.02 L282.72,292.61 L282.67,292.20 L282.61,291.80 L282.55,291.39 L282.48,290.98 L282.41,290.58 L282.33,290.17 L282.24,289.76 L282.16,289.36 L282.06,288.95 L281.97,288.54 L281.87,288.14 L281.76,287.73 L281.66,287.32 L281.55,286.92 L281.44,286.51 L281.33,286.10 L281.22,285.70 L281.11,285.29 L281.00,284.88 L280.89,284.48 L280.78,284.07 L280.67,283.66 L280.56,283.26 L280.45,282.85 L280.34,282.44 L280.23,282.03 L280.13,281.63 L280.02,281.22 L279.92,280.81 L279.82,280.41 L279.73,280.00 L279.63,279.59 L279.54,279.19 L279.45,278.78 L279.36,278.37 L279.27,277.97 L279.19,277.56 L279.11,277.15 L279.03,276.75 L278.95,276.34 L278.88,275.93 L278.81,275.53 L278.74,275.12 L278.67,274.71 L278.61,274.31 L278.55,273.90 L278.49,273.49 L278.43,273.09 L278.38,272.68 L278.33,272.27 L278.28,271.87 L278.23,271.46 L278.18,271.05 L278.14,270.65 L278.10,270.24 L278.06,269.83 L278.02,269.42 L277.99,269.02 L277.95,268.61 L277.92,268.20 L277.89,267.80 L277.86,267.39 L277.84,266.98 L277.81,266.58 L277.79,266.17 L277.76,265.76 L277.74,265.36 L277.72,264.95 L277.70,264.54 L277.68,264.14 L277.67,263.73 L277.65,263.32 L277.64,262.92 L277.62,262.51 L277.61,262.10 L277.60,261.70 L277.58,261.29 L277.57,260.88 L277.56,260.48 L277.55,260.07 L277.54,259.66 L277.54,259.26 L277.53,258.85 L277.52,258.44 L277.51,258.04 L277.51,257.63 L277.50,257.22 L277.49,256.81 L277.49,256.41 L277.48,256.00 L277.48,255.59 L277.47,255.19 L277.47,254.78 L277.47,254.37 L277.46,253.97 L277.46,253.56 L277.46,253.15 L277.45,252.75 L277.45,252.34 L277.45,251.93 L277.44,251.53 L277.44,251.12 L277.44,250.71 L277.44,250.31 L277.44,249.90 L277.43,249.49 L277.43,249.09 L277.43,248.68 L277.43,248.27 L277.43,247.87 L277.43,247.46 L277.42,247.05 L277.42,246.65 L277.42,246.24 L277.42,245.83 L277.42,245.43 L277.42,245.02 L277.42,244.61 L277.42,244.20 L277.41,243.80 L277.41,243.39 L277.41,242.98 L277.41,242.58 L277.41,242.17 L277.41,241.76 L277.41,241.36 L277.41,240.95 L277.41,240.54 L277.41,240.14 L277.41,239.73 L277.41,239.32 L277.41,238.92 L277.40,238.51 L277.40,238.10 L277.40,237.70 L277.40,237.29 L277.40,236.88 L277.40,236.48 L277.40,236.07 L277.40,235.66 L277.40,235.26 L277.40,234.85 L277.40,234.44 L277.40,234.04 L277.40,233.63 L277.40,233.22 L277.40,232.82 L277.40,232.41 L277.40,232.00 L277.40,231.59 L277.39,231.19 L277.39,230.78 L277.39,230.37 L277.39,229.97 L277.39,229.56 L277.39,229.15 L277.39,228.75 L277.39,228.34 L277.39,227.93 L277.39,227.53 L277.39,227.12 L277.39,226.71 L277.39,226.31 L277.39,225.90 L277.39,225.49 L277.39,225.09 L277.39,224.68 L277.39,224.27 L277.39,223.87 L277.39,223.46 L277.39,223.05 L277.39,222.65 L277.39,222.24 L277.35,222.24 L277.35,222.65 L277.35,223.05 L277.35,223.46 L277.35,223.87 L277.35,224.27 L277.35,224.68 L277.35,225.09 L277.35,225.49 L277.35,225.90 L277.34,226.31 L277.34,226.71 L277.34,227.12 L277.34,227.53 L277.34,227.93 L277.34,228.34 L277.34,228.75 L277.34,229.15 L277.34,229.56 L277.34,229.97 L277.34,230.37 L277.34,230.78 L277.34,231.19 L277.34,231.59 L277.34,232.00 L277.34,232.41 L277.34,232.82 L277.34,233.22 L277.34,233.63 L277.34,234.04 L277.34,234.44 L277.34,234.85 L277.34,235.26 L277.33,235.66 L277.33,236.07 L277.33,236.48 L277.33,236.88 L277.33,237.29 L277.33,237.70 L277.33,238.10 L277.33,238.51 L277.33,238.92 L277.33,239.32 L277.33,239.73 L277.33,240.14 L277.33,240.54 L277.33,240.95 L277.33,241.36 L277.32,241.76 L277.32,242.17 L277.32,242.58 L277.32,242.98 L277.32,243.39 L277.32,243.80 L277.32,244.20 L277.32,244.61 L277.32,245.02 L277.32,245.43 L277.31,245.83 L277.31,246.24 L277.31,246.65 L277.31,247.05 L277.31,247.46 L277.31,247.87 L277.31,248.27 L277.31,248.68 L277.30,249.09 L277.30,249.49 L277.30,249.90 L277.30,250.31 L277.30,250.71 L277.29,251.12 L277.29,251.53 L277.29,251.93 L277.29,252.34 L277.28,252.75 L277.28,253.15 L277.28,253.56 L277.27,253.97 L277.27,254.37 L277.27,254.78 L277.26,255.19 L277.26,255.59 L277.25,256.00 L277.25,256.41 L277.24,256.81 L277.24,257.22 L277.23,257.63 L277.22,258.04 L277.22,258.44 L277.21,258.85 L277.20,259.26 L277.19,259.66 L277.18,260.07 L277.17,260.48 L277.16,260.88 L277.15,261.29 L277.14,261.70 L277.13,262.10 L277.11,262.51 L277.10,262.92 L277.08,263.32 L277.07,263.73 L277.05,264.14 L277.03,264.54 L277.01,264.95 L276.99,265.36 L276.97,265.76 L276.95,266.17 L276.92,266.58 L276.90,266.98 L276.87,267.39 L276.84,267.80 L276.81,268.20 L276.78,268.61 L276.75,269.02 L276.71,269.42 L276.67,269.83 L276.63,270.24 L276.59,270.65 L276.55,271.05 L276.51,271.46 L276.46,271.87 L276.41,272.27 L276.36,272.68 L276.30,273.09 L276.25,273.49 L276.19,273.90 L276.13,274.31 L276.06,274.71 L276.00,275.12 L275.93,275.53 L275.86,275.93 L275.78,276.34 L275.71,276.75 L275.63,277.15 L275.55,277.56 L275.46,277.97 L275.38,278.37 L275.29,278.78 L275.20,279.19 L275.10,279.59 L275.01,280.00 L274.91,280.41 L274.81,280.81 L274.71,281.22 L274.61,281.63 L274.50,282.03 L274.40,282.44 L274.29,282.85 L274.18,283.26 L274.07,283.66 L273.96,284.07 L273.85,284.48 L273.74,284.88 L273.62,285.29 L273.51,285.70 L273.40,286.10 L273.29,286.51 L273.18,286.92 L273.08,287.32 L272.97,287.73 L272.87,288.14 L272.77,288.54 L272.67,288.95 L272.58,289.36 L272.49,289.76 L272.41,290.17 L272.33,290.58 L272.25,290.98 L272.18,291.39 L272.12,291.80 L272.07,292.20 L272.02,292.61 L271.98,293.02 L271.96,293.42 L271.91,293.83 L271.93,294.24 L271.95,294.64 L271.98,295.05 L272.02,295.46 L272.07,295.86 L272.12,296.27 L272.18,296.68 L272.24,297.09 L272.31,297.49 L272.38,297.90 L272.45,298.31 L272.53,298.71 L272.61,299.12 L272.69,299.53 L272.78,299.93 L272.86,300.34 L272.95,300.75 L273.04,301.15 L273.14,301.56 L273.23,301.97 L273.33,302.37 L273.42,302.78 L273.52,303.19 L273.61,303.59 L273.71,304.00 L273.80,304.41 L273.90,304.81 L274.00,305.22 L274.09,305.63 L274.19,306.03 L274.28,306.44 L274.37,306.85 L274.46,307.25 L274.55,307.66 L274.64,308.07 L274.73,308.47 L274.82,308.88 L274.90,309.29 L274.99,309.70 L275.07,310.10 L275.15,310.51 L275.23,310.92 L275.30,311.32 L275.38,311.73 L275.45,312.14 L275.52,312.54 L275.59,312.95 L275.66,313.36 L275.72,313.76 L275.79,314.17 L275.85,314.58 L275.91,314.98 L275.97,315.39 L276.02,315.80 L276.08,316.20 L276.13,316.61 L276.18,317.02 L276.23,317.42 L276.28,317.83 L276.32,318.24 L276.36,318.64 L276.41,319.05 L276.45,319.46 L276.48,319.86 L276.52,320.27 L276.56,320.68 L276.59,321.08 L276.62,321.49 L276.66,321.90 L276.69,322.31 L276.71,322.71 L276.74,323.12 L276.77,323.53 L276.79,323.93 L276.82,324.34 L276.84,324.75 L276.86,325.15 L276.88,325.56 L276.90,325.97 L276.92,326.37 L276.94,326.78 L276.95,327.19 L276.97,327.59 L276.99,328.00Z" fill="#2a72b9"/>
<line x1="277.37" y1="299.07" x2="277.37" y2="288.32" stroke="#111" stroke-width="1.8"/>
<line x1="277.37" y1="303.37" x2="277.37" y2="284.02" stroke="#111" stroke-width="0.6"/>
<rect x="276.47" y="292.90" width="1.8" height="1.6" fill="#fff"/>
<path d="M291.02,328.00 L291.03,327.56 L291.04,327.12 L291.05,326.69 L291.06,326.25 L291.07,325.81 L291.08,325.37 L291.09,324.93 L291.10,324.50 L291.12,324.06 L291.13,323.62 L291.14,323.18 L291.16,322.74 L291.17,322.31 L291.19,321.87 L291.21,321.43 L291.23,320.99 L291.24,320.56 L291.26,320.12 L291.28,319.68 L291.31,319.24 L291.33,318.80 L291.35,318.37 L291.38,317.93 L291.40,317.49 L291.43,317.05 L291.46,316.61 L291.49,316.18 L291.52,315.74 L291.55,315.30 L291.59,314.86 L291.62,314.42 L291.66,313.99 L291.70,313.55 L291.74,313.11 L291.78,312.67 L291.82,312.23 L291.87,311.80 L291.92,311.36 L291.96,310.92 L292.01,310.48 L292.07,310.05 L292.12,309.61 L292.18,309.17 L292.23,308.73 L292.29,308.29 L292.35,307.86 L292.42,307.42 L292.48,306.98 L292.55,306.54 L292.62,306.10 L292.69,305.67 L292.76,305.23 L292.83,304.79 L292.91,304.35 L292.99,303.91 L293.07,303.48 L293.15,303.04 L293.23,302.60 L293.31,302.16 L293.40,301.72 L293.49,301.29 L293.57,300.85 L293.66,300.41 L293.75,299.97 L293.85,299.54 L293.94,299.10 L294.03,298.66 L294.13,298.22 L294.22,297.78 L294.32,297.35 L294.41,296.91 L294.51,296.47 L294.60,296.03 L294.70,295.59 L294.79,295.16 L294.89,294.72 L294.98,294.28 L295.07,293.84 L295.16,293.40 L295.25,292.97 L295.34,292.53 L295.42,292.09 L295.51,291.65 L295.59,291.21 L295.67,290.78 L295.74,290.34 L295.81,289.90 L295.88,289.46 L295.94,289.02 L296.00,288.59 L296.06,288.15 L296.10,287.71 L296.15,287.27 L296.18,286.84 L296.21,286.40 L296.23,285.96 L296.20,285.52 L296.18,285.08 L296.15,284.65 L296.12,284.21 L296.07,283.77 L296.02,283.33 L295.96,282.89 L295.89,282.46 L295.82,282.02 L295.75,281.58 L295.67,281.14 L295.58,280.70 L295.50,280.27 L295.41,279.83 L295.31,279.39 L295.22,278.95 L295.12,278.51 L295.02,278.08 L294.92,277.64 L294.82,277.20 L294.71,276.76 L294.61,276.33 L294.51,275.89 L294.40,275.45 L294.30,275.01 L294.19,274.57 L294.09,274.14 L293.98,273.70 L293.88,273.26 L293.78,272.82 L293.68,272.38 L293.58,271.95 L293.48,271.51 L293.39,271.07 L293.29,270.63 L293.20,270.19 L293.11,269.76 L293.02,269.32 L292.93,268.88 L292.85,268.44 L292.76,268.00 L292.68,267.57 L292.60,267.13 L292.53,266.69 L292.45,266.25 L292.38,265.82 L292.31,265.38 L292.24,264.94 L292.18,264.50 L292.11,264.06 L292.05,263.63 L291.99,263.19 L291.94,262.75 L291.88,262.31 L291.83,261.87 L291.78,261.44 L291.73,261.00 L291.68,260.56 L291.64,260.12 L291.60,259.68 L291.55,259.25 L291.51,258.81 L291.48,258.37 L291.44,257.93 L291.41,257.49 L291.38,257.06 L291.34,256.62 L291.31,256.18 L291.29,255.74 L291.26,255.31 L291.24,254.87 L291.21,254.43 L291.19,253.99 L291.17,253.55 L291.15,253.12 L291.13,252.68 L291.11,252.24 L291.09,251.80 L291.07,251.36 L291.06,250.93 L291.04,250.49 L291.03,250.05 L291.02,249.61 L291.01,249.17 L290.99,248.74 L290.98,248.30 L290.97,247.86 L290.96,247.42 L290.95,246.98 L290.95,246.55 L290.94,246.11 L290.93,245.67 L290.92,245.23 L290.92,244.79 L290.91,244.36 L290.90,243.92 L290.90,243.48 L290.89,243.04 L290.89,242.61 L290.88,242.17 L290.88,241.73 L290.87,241.29 L290.87,240.85 L290.87,240.42 L290.86,239.98 L290.86,239.54 L290.86,239.10 L290.85,238.66 L290.85,238.23 L290.85,237.79 L290.85,237.35 L290.84,236.91 L290.84,236.47 L290.84,236.04 L290.84,235.60 L290.84,235.16 L290.84,234.72 L290.83,234.28 L290.83,233.85 L290.83,233.41 L290.83,232.97 L290.83,232.53 L290.83,232.10 L290.83,231.66 L290.82,231.22 L290.82,230.78 L290.82,230.34 L290.82,229.91 L290.82,229.47 L290.82,229.03 L290.82,228.59 L290.82,228.15 L290.82,227.72 L290.82,227.28 L290.82,226.84 L290.82,226.40 L290.81,225.96 L290.81,225.53 L290.81,225.09 L290.81,224.65 L290.81,224.21 L290.81,223.77 L290.81,223.34 L290.81,222.90 L290.81,222.46 L290.81,222.02 L290.81,221.59 L290.81,221.15 L290.81,220.71 L290.81,220.27 L290.81,219.83 L290.81,219.40 L290.81,218.96 L290.81,218.52 L290.81,218.08 L290.80,217.64 L290.80,217.21 L290.80,216.77 L290.80,216.33 L290.80,215.89 L290.80,215.45 L290.80,215.02 L290.80,214.58 L290.80,214.14 L290.76,214.14 L290.76,214.58 L290.76,215.02 L290.76,215.45 L290.76,215.89 L290.76,216.33 L290.76,216.77 L290.76,217.21 L290.76,217.64 L290.76,218.08 L290.76,218.52 L290.76,218.96 L290.76,219.40 L290.76,219.83 L290.76,220.27 L290.76,220.71 L290.76,221.15 L290.76,221.59 L290.76,222.02 L290.76,222.46 L290.75,222.90 L290.75,223.34 L290.75,223.77 L290.75,224.21 L290.75,224.65 L290.75,225.09 L290.75,225.53 L290.75,225.96 L290.75,226.40 L290.75,226.84 L290.75,227.28 L290.75,227.72 L290.75,228.15 L290.75,228.59 L290.75,229.03 L290.74,229.47 L290.74,229.91 L290.74,230.34 L290.74,230.78 L290.74,231.22 L290.74,231.66 L290.74,232.10 L290.74,232.53 L290.74,232.97 L290.73,233.41 L290.73,233.85 L290.73,234.28 L290.73,234.72 L290.73,235.16 L290.73,235.60 L290.72,236.04 L290.72,236.47 L290.72,236.91 L290.72,237.35 L290.72,237.79 L290.71,238.23 L290.71,238.66 L290.71,239.10 L290.70,239.54 L290.70,239.98 L290.70,240.42 L290.69,240.85 L290.69,241.29 L290.69,241.73 L290.68,242.17 L290.68,242.61 L290.67,243.04 L290.67,243.48 L290.66,243.92 L290.66,244.36 L290.65,244.79 L290.64,245.23 L290.64,245.67 L290.63,246.11 L290.62,246.55 L290.61,246.98 L290.60,247.42 L290.59,247.86 L290.58,248.30 L290.57,248.74 L290.56,249.17 L290.55,249.61 L290.53,250.05 L290.52,250.49 L290.51,250.93 L290.49,251.36 L290.47,251.80 L290.46,252.24 L290.44,252.68 L290.42,253.12 L290.40,253.55 L290.38,253.99 L290.35,254.43 L290.33,254.87 L290.30,255.31 L290.28,255.74 L290.25,256.18 L290.22,256.62 L290.19,257.06 L290.16,257.49 L290.12,257.93 L290.09,258.37 L290.05,258.81 L290.01,259.25 L289.97,259.68 L289.93,260.12 L289.88,260.56 L289.84,261.00 L289.79,261.44 L289.74,261.87 L289.68,262.31 L289.63,262.75 L289.57,263.19 L289.51,263.63 L289.45,264.06 L289.39,264.50 L289.32,264.94 L289.26,265.38 L289.19,265.82 L289.11,266.25 L289.04,266.69 L288.96,267.13 L288.88,267.57 L288.80,268.00 L288.72,268.44 L288.63,268.88 L288.55,269.32 L288.46,269.76 L288.37,270.19 L288.27,270.63 L288.18,271.07 L288.08,271.51 L287.98,271.95 L287.89,272.38 L287.78,272.82 L287.68,273.26 L287.58,273.70 L287.48,274.14 L287.37,274.57 L287.27,275.01 L287.16,275.45 L287.06,275.89 L286.96,276.33 L286.85,276.76 L286.75,277.20 L286.65,277.64 L286.54,278.08 L286.45,278.51 L286.35,278.95 L286.25,279.39 L286.16,279.83 L286.07,280.27 L285.98,280.70 L285.90,281.14 L285.82,281.58 L285.74,282.02 L285.67,282.46 L285.61,282.89 L285.55,283.33 L285.50,283.77 L285.45,284.21 L285.41,284.65 L285.38,285.08 L285.36,285.52 L285.33,285.96 L285.35,286.40 L285.38,286.84 L285.42,287.27 L285.46,287.71 L285.51,288.15 L285.56,288.59 L285.62,289.02 L285.69,289.46 L285.75,289.90 L285.82,290.34 L285.90,290.78 L285.98,291.21 L286.06,291.65 L286.14,292.09 L286.23,292.53 L286.31,292.97 L286.40,293.40 L286.49,293.84 L286.59,294.28 L286.68,294.72 L286.77,295.16 L286.87,295.59 L286.96,296.03 L287.06,296.47 L287.15,296.91 L287.25,297.35 L287.34,297.78 L287.44,298.22 L287.53,298.66 L287.63,299.10 L287.72,299.54 L287.81,299.97 L287.90,300.41 L287.99,300.85 L288.08,301.29 L288.17,301.72 L288.25,302.16 L288.34,302.60 L288.42,303.04 L288.50,303.48 L288.58,303.91 L288.66,304.35 L288.73,304.79 L288.81,305.23 L288.88,305.67 L288.95,306.10 L289.02,306.54 L289.08,306.98 L289.15,307.42 L289.21,307.86 L289.27,308.29 L289.33,308.73 L289.39,309.17 L289.45,309.61 L289.50,310.05 L289.55,310.48 L289.60,310.92 L289.65,311.36 L289.70,311.80 L289.74,312.23 L289.78,312.67 L289.83,313.11 L289.87,313.55 L289.90,313.99 L289.94,314.42 L289.98,314.86 L290.01,315.30 L290.04,315.74 L290.08,316.18 L290.11,316.61 L290.13,317.05 L290.16,317.49 L290.19,317.93 L290.21,318.37 L290.24,318.80 L290.26,319.24 L290.28,319.68 L290.30,320.12 L290.32,320.56 L290.34,320.99 L290.36,321.43 L290.37,321.87 L290.39,322.31 L290.41,322.74 L290.42,323.18 L290.43,323.62 L290.45,324.06 L290.46,324.50 L290.47,324.93 L290.48,325.37 L290.49,325.81 L290.50,326.25 L290.51,326.69 L290.52,327.12 L290.53,327.56 L290.54,328.00Z" fill="#2a72b9"/>
<line x1="290.78" y1="291.60" x2="290.78" y2="279.60" stroke="#111" stroke-width="1.8"/>
<line x1="290.78" y1="296.40" x2="290.78" y2="274.80" stroke="#111" stroke-width="0.6"/>
<rect x="289.88" y="284.80" width="1.8" height="1.6" fill="#fff"/>
<path d="M304.35,328.00 L304.35,327.68 L304.36,327.36 L304.36,327.04 L304.36,326.72 L304.36,326.41 L304.37,326.09 L304.37,325.77 L304.37,325.45 L304.38,325.13 L304.38,324.81 L304.38,324.49 L304.39,324.17 L304.39,323.86 L304.40,323.54 L304.40,323.22 L304.40,322.90 L304.41,322.58 L304.41,322.26 L304.42,321.94 L304.42,321.62 L304.43,321.30 L304.43,320.99 L304.44,320.67 L304.45,320.35 L304.45,320.03 L304.46,319.71 L304.46,319.39 L304.47,319.07 L304.48,318.75 L304.49,318.44 L304.49,318.12 L304.50,317.80 L304.51,317.48 L304.52,317.16 L304.53,316.84 L304.54,316.52 L304.55,316.20 L304.56,315.88 L304.57,315.57 L304.58,315.25 L304.59,314.93 L304.60,314.61 L304.61,314.29 L304.62,313.97 L304.64,313.65 L304.65,313.33 L304.66,313.02 L304.68,312.70 L304.69,312.38 L304.71,312.06 L304.72,311.74 L304.74,311.42 L304.75,311.10 L304.77,310.78 L304.79,310.46 L304.81,310.15 L304.83,309.83 L304.85,309.51 L304.87,309.19 L304.89,308.87 L304.91,308.55 L304.93,308.23 L304.95,307.91 L304.98,307.60 L305.00,307.28 L305.02,306.96 L305.05,306.64 L305.08,306.32 L305.10,306.00 L305.13,305.68 L305.16,305.36 L305.19,305.04 L305.22,304.73 L305.25,304.41 L305.28,304.09 L305.31,303.77 L305.35,303.45 L305.38,303.13 L305.42,302.81 L305.45,302.49 L305.49,302.18 L305.53,301.86 L305.57,301.54 L305.61,301.22 L305.65,300.90 L305.69,300.58 L305.73,300.26 L305.77,299.94 L305.82,299.62 L305.86,299.31 L305.91,298.99 L305.95,298.67 L306.00,298.35 L306.05,298.03 L306.10,297.71 L306.15,297.39 L306.20,297.07 L306.26,296.76 L306.31,296.44 L306.36,296.12 L306.42,295.80 L306.47,295.48 L306.53,295.16 L306.59,294.84 L306.64,294.52 L306.70,294.20 L306.76,293.89 L306.82,293.57 L306.88,293.25 L306.95,292.93 L307.01,292.61 L307.07,292.29 L307.13,291.97 L307.20,291.65 L307.26,291.34 L307.33,291.02 L307.39,290.70 L307.46,290.38 L307.52,290.06 L307.59,289.74 L307.66,289.42 L307.72,289.10 L307.79,288.78 L307.86,288.47 L307.92,288.15 L307.99,287.83 L308.06,287.51 L308.12,287.19 L308.19,286.87 L308.26,286.55 L308.32,286.23 L308.39,285.92 L308.45,285.60 L308.52,285.28 L308.58,284.96 L308.64,284.64 L308.70,284.32 L308.77,284.00 L308.83,283.68 L308.88,283.36 L308.94,283.05 L309.00,282.73 L309.05,282.41 L309.11,282.09 L309.16,281.77 L309.21,281.45 L309.26,281.13 L309.30,280.81 L309.35,280.50 L309.39,280.18 L309.43,279.86 L309.47,279.54 L309.50,279.22 L309.53,278.90 L309.56,278.58 L309.59,278.26 L309.61,277.95 L309.63,277.63 L309.65,277.31 L309.66,276.99 L309.51,276.67 L309.48,276.35 L309.46,276.03 L309.43,275.71 L309.39,275.39 L309.36,275.08 L309.32,274.76 L309.27,274.44 L309.23,274.12 L309.18,273.80 L309.14,273.48 L309.09,273.16 L309.03,272.84 L308.98,272.53 L308.93,272.21 L308.87,271.89 L308.81,271.57 L308.75,271.25 L308.69,270.93 L308.63,270.61 L308.57,270.29 L308.50,269.97 L308.44,269.66 L308.37,269.34 L308.31,269.02 L308.24,268.70 L308.17,268.38 L308.10,268.06 L308.04,267.74 L307.97,267.42 L307.90,267.11 L307.83,266.79 L307.76,266.47 L307.69,266.15 L307.62,265.83 L307.55,265.51 L307.48,265.19 L307.42,264.87 L307.35,264.55 L307.28,264.24 L307.21,263.92 L307.14,263.60 L307.08,263.28 L307.01,262.96 L306.94,262.64 L306.88,262.32 L306.81,262.00 L306.75,261.69 L306.69,261.37 L306.62,261.05 L306.56,260.73 L306.50,260.41 L306.44,260.09 L306.38,259.77 L306.32,259.45 L306.26,259.13 L306.21,258.82 L306.15,258.50 L306.10,258.18 L306.04,257.86 L305.99,257.54 L305.94,257.22 L305.88,256.90 L305.83,256.58 L305.78,256.27 L305.74,255.95 L305.69,255.63 L305.64,255.31 L305.60,254.99 L305.55,254.67 L305.51,254.35 L305.47,254.03 L305.42,253.71 L305.38,253.40 L305.34,253.08 L305.31,252.76 L305.27,252.44 L305.23,252.12 L305.20,251.80 L305.16,251.48 L305.13,251.16 L305.09,250.85 L305.06,250.53 L305.03,250.21 L305.00,249.89 L304.97,249.57 L304.94,249.25 L304.92,248.93 L304.89,248.61 L304.86,248.29 L304.84,247.98 L304.81,247.66 L304.79,247.34 L304.77,247.02 L304.74,246.70 L304.72,246.38 L304.70,246.06 L304.68,245.74 L304.66,245.43 L304.64,245.11 L303.75,245.11 L303.73,245.43 L303.71,245.74 L303.69,246.06 L303.67,246.38 L303.65,246.70 L303.63,247.02 L303.61,247.34 L303.58,247.66 L303.56,247.98 L303.53,248.29 L303.51,248.61 L303.48,248.93 L303.45,249.25 L303.42,249.57 L303.39,249.89 L303.36,250.21 L303.33,250.53 L303.30,250.85 L303.27,251.16 L303.23,251.48 L303.20,251.80 L303.16,252.12 L303.13,252.44 L303.09,252.76 L303.05,253.08 L303.01,253.40 L302.97,253.71 L302.93,254.03 L302.89,254.35 L302.84,254.67 L302.80,254.99 L302.75,255.31 L302.71,255.63 L302.66,255.95 L302.61,256.27 L302.56,256.58 L302.51,256.90 L302.46,257.22 L302.41,257.54 L302.35,257.86 L302.30,258.18 L302.24,258.50 L302.19,258.82 L302.13,259.13 L302.07,259.45 L302.01,259.77 L301.95,260.09 L301.89,260.41 L301.83,260.73 L301.77,261.05 L301.71,261.37 L301.65,261.69 L301.58,262.00 L301.52,262.32 L301.45,262.64 L301.38,262.96 L301.32,263.28 L301.25,263.60 L301.18,263.92 L301.12,264.24 L301.05,264.55 L300.98,264.87 L300.91,265.19 L300.84,265.51 L300.77,265.83 L300.70,266.15 L300.63,266.47 L300.57,266.79 L300.50,267.11 L300.43,267.42 L300.36,267.74 L300.29,268.06 L300.22,268.38 L300.16,268.70 L300.09,269.02 L300.02,269.34 L299.96,269.66 L299.89,269.97 L299.83,270.29 L299.77,270.61 L299.70,270.93 L299.64,271.25 L299.58,271.57 L299.53,271.89 L299.47,272.21 L299.41,272.53 L299.36,272.84 L299.31,273.16 L299.26,273.48 L299.21,273.80 L299.16,274.12 L299.12,274.44 L299.08,274.76 L299.04,275.08 L299.00,275.39 L298.97,275.71 L298.94,276.03 L298.91,276.35 L298.89,276.67 L298.74,276.99 L298.75,277.31 L298.76,277.63 L298.78,277.95 L298.81,278.26 L298.83,278.58 L298.86,278.90 L298.89,279.22 L298.93,279.54 L298.96,279.86 L299.00,280.18 L299.05,280.50 L299.09,280.81 L299.14,281.13 L299.19,281.45 L299.24,281.77 L299.29,282.09 L299.34,282.41 L299.40,282.73 L299.45,283.05 L299.51,283.36 L299.57,283.68 L299.63,284.00 L299.69,284.32 L299.75,284.64 L299.81,284.96 L299.88,285.28 L299.94,285.60 L300.01,285.92 L300.07,286.23 L300.14,286.55 L300.20,286.87 L300.27,287.19 L300.34,287.51 L300.40,287.83 L300.47,288.15 L300.54,288.47 L300.60,288.78 L300.67,289.10 L300.74,289.42 L300.80,289.74 L300.87,290.06 L300.94,290.38 L301.00,290.70 L301.07,291.02 L301.13,291.34 L301.20,291.65 L301.26,291.97 L301.32,292.29 L301.39,292.61 L301.45,292.93 L301.51,293.25 L301.57,293.57 L301.63,293.89 L301.69,294.20 L301.75,294.52 L301.81,294.84 L301.87,295.16 L301.92,295.48 L301.98,295.80 L302.03,296.12 L302.09,296.44 L302.14,296.76 L302.19,297.07 L302.24,297.39 L302.29,297.71 L302.34,298.03 L302.39,298.35 L302.44,298.67 L302.49,298.99 L302.53,299.31 L302.58,299.62 L302.62,299.94 L302.67,300.26 L302.71,300.58 L302.75,300.90 L302.79,301.22 L302.83,301.54 L302.87,301.86 L302.91,302.18 L302.94,302.49 L302.98,302.81 L303.01,303.13 L303.05,303.45 L303.08,303.77 L303.11,304.09 L303.15,304.41 L303.18,304.73 L303.21,305.04 L303.24,305.36 L303.26,305.68 L303.29,306.00 L303.32,306.32 L303.35,306.64 L303.37,306.96 L303.40,307.28 L303.42,307.60 L303.44,307.91 L303.47,308.23 L303.49,308.55 L303.51,308.87 L303.53,309.19 L303.55,309.51 L303.57,309.83 L303.59,310.15 L303.61,310.46 L303.62,310.78 L303.64,311.10 L303.66,311.42 L303.67,311.74 L303.69,312.06 L303.70,312.38 L303.72,312.70 L303.73,313.02 L303.75,313.33 L303.76,313.65 L303.77,313.97 L303.78,314.29 L303.80,314.61 L303.81,314.93 L303.82,315.25 L303.83,315.57 L303.84,315.88 L303.85,316.20 L303.86,316.52 L303.87,316.84 L303.88,317.16 L303.88,317.48 L303.89,317.80 L303.90,318.12 L303.91,318.44 L303.92,318.75 L303.92,319.07 L303.93,319.39 L303.94,319.71 L303.94,320.03 L303.95,320.35 L303.96,320.67 L303.96,320.99 L303.97,321.30 L303.97,321.62 L303.98,321.94 L303.98,322.26 L303.99,322.58 L303.99,322.90 L303.99,323.22 L304.00,323.54 L304.00,323.86 L304.01,324.17 L304.01,324.49 L304.01,324.81 L304.02,325.13 L304.02,325.45 L304.02,325.77 L304.03,326.09 L304.03,326.41 L304.03,326.72 L304.04,327.04 L304.04,327.36 L304.04,327.68 L304.04,328.00Z" fill="#2a72b9"/>
<line x1="304.20" y1="283.24" x2="304.20" y2="270.49" stroke="#111" stroke-width="1.8"/>
<line x1="304.20" y1="288.34" x2="304.20" y2="265.39" stroke="#111" stroke-width="0.6"/>
<rect x="303.30" y="276.07" width="1.8" height="1.6" fill="#fff"/>
<path d="M317.73,328.00 L317.73,327.65 L317.73,327.30 L317.73,326.95 L317.73,326.60 L317.74,326.25 L317.74,325.90 L317.74,325.55 L317.74,325.21 L317.74,324.86 L317.74,324.51 L317.75,324.16 L317.75,323.81 L317.75,323.46 L317.75,323.11 L317.76,322.76 L317.76,322.41 L317.76,322.06 L317.76,321.71 L317.77,321.36 L317.77,321.01 L317.77,320.66 L317.77,320.31 L317.78,319.96 L317.78,319.62 L317.78,319.27 L317.79,318.92 L317.79,318.57 L317.80,318.22 L317.80,317.87 L317.80,317.52 L317.81,317.17 L317.81,316.82 L317.82,316.47 L317.82,316.12 L317.83,315.77 L317.83,315.42 L317.84,315.07 L317.84,314.72 L317.85,314.37 L317.86,314.03 L317.86,313.68 L317.87,313.33 L317.88,312.98 L317.88,312.63 L317.89,312.28 L317.90,311.93 L317.91,311.58 L317.92,311.23 L317.93,310.88 L317.94,310.53 L317.94,310.18 L317.95,309.83 L317.97,309.48 L317.98,309.13 L317.99,308.79 L318.00,308.44 L318.01,308.09 L318.02,307.74 L318.04,307.39 L318.05,307.04 L318.06,306.69 L318.08,306.34 L318.09,305.99 L318.11,305.64 L318.12,305.29 L318.14,304.94 L318.16,304.59 L318.18,304.24 L318.20,303.89 L318.21,303.54 L318.23,303.20 L318.25,302.85 L318.28,302.50 L318.30,302.15 L318.32,301.80 L318.34,301.45 L318.37,301.10 L318.39,300.75 L318.42,300.40 L318.44,300.05 L318.47,299.70 L318.50,299.35 L318.53,299.00 L318.56,298.65 L318.59,298.30 L318.62,297.96 L318.65,297.61 L318.69,297.26 L318.72,296.91 L318.76,296.56 L318.79,296.21 L318.83,295.86 L318.87,295.51 L318.91,295.16 L318.95,294.81 L318.99,294.46 L319.03,294.11 L319.07,293.76 L319.12,293.41 L319.16,293.06 L319.21,292.71 L319.25,292.37 L319.30,292.02 L319.35,291.67 L319.40,291.32 L319.45,290.97 L319.51,290.62 L319.56,290.27 L319.61,289.92 L319.67,289.57 L319.72,289.22 L319.78,288.87 L319.84,288.52 L319.90,288.17 L319.96,287.82 L320.02,287.47 L320.08,287.12 L320.14,286.78 L320.21,286.43 L320.27,286.08 L320.34,285.73 L320.40,285.38 L320.47,285.03 L320.53,284.68 L320.60,284.33 L320.67,283.98 L320.74,283.63 L320.81,283.28 L320.88,282.93 L320.95,282.58 L321.02,282.23 L321.09,281.88 L321.16,281.54 L321.23,281.19 L321.30,280.84 L321.37,280.49 L321.44,280.14 L321.51,279.79 L321.58,279.44 L321.65,279.09 L321.72,278.74 L321.79,278.39 L321.86,278.04 L321.92,277.69 L321.99,277.34 L322.06,276.99 L322.12,276.64 L322.19,276.29 L322.25,275.95 L322.31,275.60 L322.37,275.25 L322.43,274.90 L322.49,274.55 L322.54,274.20 L322.60,273.85 L322.65,273.50 L322.70,273.15 L322.75,272.80 L322.79,272.45 L322.84,272.10 L322.88,271.75 L322.91,271.40 L322.95,271.05 L322.98,270.70 L323.01,270.36 L323.03,270.01 L323.05,269.66 L323.06,269.31 L323.07,268.96 L322.91,268.61 L322.89,268.26 L322.85,267.91 L322.82,267.56 L322.78,267.21 L322.74,266.86 L322.69,266.51 L322.64,266.16 L322.59,265.81 L322.54,265.46 L322.48,265.12 L322.43,264.77 L322.37,264.42 L322.31,264.07 L322.24,263.72 L322.18,263.37 L322.11,263.02 L322.04,262.67 L321.97,262.32 L321.90,261.97 L321.83,261.62 L321.76,261.27 L321.69,260.92 L321.61,260.57 L321.54,260.22 L321.47,259.87 L321.39,259.53 L321.32,259.18 L321.24,258.83 L321.16,258.48 L321.09,258.13 L321.01,257.78 L320.94,257.43 L320.86,257.08 L320.79,256.73 L320.71,256.38 L320.64,256.03 L320.56,255.68 L320.49,255.33 L320.42,254.98 L320.35,254.63 L320.27,254.29 L320.20,253.94 L320.13,253.59 L320.06,253.24 L320.00,252.89 L319.93,252.54 L319.86,252.19 L319.80,251.84 L319.73,251.49 L319.67,251.14 L319.61,250.79 L319.55,250.44 L319.49,250.09 L319.43,249.74 L319.37,249.39 L319.31,249.04 L319.26,248.70 L319.20,248.35 L319.15,248.00 L319.10,247.65 L319.05,247.30 L319.00,246.95 L318.95,246.60 L318.90,246.25 L318.86,245.90 L318.81,245.55 L318.77,245.20 L318.73,244.85 L318.68,244.50 L318.64,244.15 L318.60,243.80 L318.57,243.45 L318.53,243.11 L318.49,242.76 L318.46,242.41 L318.43,242.06 L318.39,241.71 L318.36,241.36 L318.33,241.01 L318.30,240.66 L318.27,240.31 L318.25,239.96 L318.22,239.61 L318.19,239.26 L318.17,238.91 L318.14,238.56 L318.12,238.21 L318.10,237.87 L318.08,237.52 L318.06,237.17 L317.17,237.17 L317.15,237.52 L317.13,237.87 L317.10,238.21 L317.08,238.56 L317.06,238.91 L317.03,239.26 L317.01,239.61 L316.98,239.96 L316.95,240.31 L316.92,240.66 L316.89,241.01 L316.86,241.36 L316.83,241.71 L316.80,242.06 L316.77,242.41 L316.73,242.76 L316.69,243.11 L316.66,243.45 L316.62,243.80 L316.58,244.15 L316.54,244.50 L316.50,244.85 L316.46,245.20 L316.41,245.55 L316.37,245.90 L316.32,246.25 L316.28,246.60 L316.23,246.95 L316.18,247.30 L316.13,247.65 L316.08,248.00 L316.02,248.35 L315.97,248.70 L315.91,249.04 L315.86,249.39 L315.80,249.74 L315.74,250.09 L315.68,250.44 L315.62,250.79 L315.56,251.14 L315.49,251.49 L315.43,251.84 L315.36,252.19 L315.30,252.54 L315.23,252.89 L315.16,253.24 L315.09,253.59 L315.02,253.94 L314.95,254.29 L314.88,254.63 L314.81,254.98 L314.73,255.33 L314.66,255.68 L314.59,256.03 L314.51,256.38 L314.44,256.73 L314.36,257.08 L314.29,257.43 L314.21,257.78 L314.14,258.13 L314.06,258.48 L313.98,258.83 L313.91,259.18 L313.83,259.53 L313.76,259.87 L313.68,260.22 L313.61,260.57 L313.54,260.92 L313.46,261.27 L313.39,261.62 L313.32,261.97 L313.25,262.32 L313.18,262.67 L313.11,263.02 L313.05,263.37 L312.98,263.72 L312.92,264.07 L312.86,264.42 L312.80,264.77 L312.74,265.12 L312.69,265.46 L312.63,265.81 L312.58,266.16 L312.53,266.51 L312.49,266.86 L312.45,267.21 L312.41,267.56 L312.37,267.91 L312.34,268.26 L312.31,268.61 L312.15,268.96 L312.16,269.31 L312.18,269.66 L312.20,270.01 L312.22,270.36 L312.25,270.70 L312.28,271.05 L312.31,271.40 L312.35,271.75 L312.39,272.10 L312.43,272.45 L312.48,272.80 L312.52,273.15 L312.57,273.50 L312.63,273.85 L312.68,274.20 L312.74,274.55 L312.79,274.90 L312.85,275.25 L312.91,275.60 L312.98,275.95 L313.04,276.29 L313.10,276.64 L313.17,276.99 L313.23,277.34 L313.30,277.69 L313.37,278.04 L313.44,278.39 L313.51,278.74 L313.58,279.09 L313.65,279.44 L313.72,279.79 L313.79,280.14 L313.86,280.49 L313.93,280.84 L314.00,281.19 L314.07,281.54 L314.14,281.88 L314.21,282.23 L314.28,282.58 L314.35,282.93 L314.42,283.28 L314.49,283.63 L314.56,283.98 L314.62,284.33 L314.69,284.68 L314.76,285.03 L314.82,285.38 L314.89,285.73 L314.95,286.08 L315.02,286.43 L315.08,286.78 L315.14,287.12 L315.21,287.47 L315.27,287.82 L315.33,288.17 L315.39,288.52 L315.44,288.87 L315.50,289.22 L315.56,289.57 L315.61,289.92 L315.67,290.27 L315.72,290.62 L315.77,290.97 L315.82,291.32 L315.87,291.67 L315.92,292.02 L315.97,292.37 L316.02,292.71 L316.06,293.06 L316.11,293.41 L316.15,293.76 L316.20,294.11 L316.24,294.46 L316.28,294.81 L316.32,295.16 L316.36,295.51 L316.40,295.86 L316.43,296.21 L316.47,296.56 L316.50,296.91 L316.54,297.26 L316.57,297.61 L316.60,297.96 L316.64,298.30 L316.67,298.65 L316.70,299.00 L316.73,299.35 L316.75,299.70 L316.78,300.05 L316.81,300.40 L316.83,300.75 L316.86,301.10 L316.88,301.45 L316.90,301.80 L316.93,302.15 L316.95,302.50 L316.97,302.85 L316.99,303.20 L317.01,303.54 L317.03,303.89 L317.05,304.24 L317.07,304.59 L317.08,304.94 L317.10,305.29 L317.12,305.64 L317.13,305.99 L317.15,306.34 L317.16,306.69 L317.18,307.04 L317.19,307.39 L317.20,307.74 L317.21,308.09 L317.23,308.44 L317.24,308.79 L317.25,309.13 L317.26,309.48 L317.27,309.83 L317.28,310.18 L317.29,310.53 L317.30,310.88 L317.31,311.23 L317.32,311.58 L317.32,311.93 L317.33,312.28 L317.34,312.63 L317.35,312.98 L317.35,313.33 L317.36,313.68 L317.37,314.03 L317.37,314.37 L317.38,314.72 L317.39,315.07 L317.39,315.42 L317.40,315.77 L317.40,316.12 L317.41,316.47 L317.41,316.82 L317.42,317.17 L317.42,317.52 L317.42,317.87 L317.43,318.22 L317.43,318.57 L317.44,318.92 L317.44,319.27 L317.44,319.62 L317.45,319.96 L317.45,320.31 L317.45,320.66 L317.46,321.01 L317.46,321.36 L317.46,321.71 L317.46,322.06 L317.47,322.41 L317.47,322.76 L317.47,323.11 L317.47,323.46 L317.48,323.81 L317.48,324.16 L317.48,324.51 L317.48,324.86 L317.48,325.21 L317.49,325.55 L317.49,325.90 L317.49,326.25 L317.49,326.60 L317.49,326.95 L317.49,327.30 L317.50,327.65 L317.50,328.00Z" fill="#2a72b9"/>
<line x1="317.61" y1="275.43" x2="317.61" y2="262.43" stroke="#111" stroke-width="1.8"/>
<line x1="317.61" y1="280.63" x2="317.61" y2="257.23" stroke="#111" stroke-width="0.6"/>
<rect x="316.71" y="268.13" width="1.8" height="1.6" fill="#fff"/>
<path d="M331.12,328.00 L331.12,327.62 L331.12,327.24 L331.12,326.86 L331.12,326.48 L331.12,326.10 L331.12,325.72 L331.13,325.34 L331.13,324.97 L331.13,324.59 L331.13,324.21 L331.13,323.83 L331.13,323.45 L331.13,323.07 L331.13,322.69 L331.13,322.31 L331.14,321.93 L331.14,321.55 L331.14,321.17 L331.14,320.79 L331.14,320.41 L331.14,320.03 L331.14,319.66 L331.15,319.28 L331.15,318.90 L331.15,318.52 L331.15,318.14 L331.15,317.76 L331.16,317.38 L331.16,317.00 L331.16,316.62 L331.16,316.24 L331.16,315.86 L331.17,315.48 L331.17,315.10 L331.17,314.72 L331.18,314.35 L331.18,313.97 L331.18,313.59 L331.18,313.21 L331.19,312.83 L331.19,312.45 L331.19,312.07 L331.20,311.69 L331.20,311.31 L331.21,310.93 L331.21,310.55 L331.21,310.17 L331.22,309.79 L331.22,309.41 L331.23,309.04 L331.23,308.66 L331.24,308.28 L331.24,307.90 L331.25,307.52 L331.26,307.14 L331.26,306.76 L331.27,306.38 L331.28,306.00 L331.28,305.62 L331.29,305.24 L331.30,304.86 L331.31,304.48 L331.32,304.10 L331.33,303.73 L331.33,303.35 L331.34,302.97 L331.35,302.59 L331.37,302.21 L331.38,301.83 L331.39,301.45 L331.40,301.07 L331.41,300.69 L331.43,300.31 L331.44,299.93 L331.45,299.55 L331.47,299.17 L331.48,298.79 L331.50,298.42 L331.52,298.04 L331.53,297.66 L331.55,297.28 L331.57,296.90 L331.59,296.52 L331.61,296.14 L331.63,295.76 L331.65,295.38 L331.67,295.00 L331.70,294.62 L331.72,294.24 L331.75,293.86 L331.77,293.48 L331.80,293.11 L331.82,292.73 L331.85,292.35 L331.88,291.97 L331.91,291.59 L331.94,291.21 L331.98,290.83 L332.01,290.45 L332.04,290.07 L332.08,289.69 L332.12,289.31 L332.15,288.93 L332.19,288.55 L332.23,288.17 L332.27,287.80 L332.32,287.42 L332.36,287.04 L332.40,286.66 L332.45,286.28 L332.50,285.90 L332.55,285.52 L332.59,285.14 L332.65,284.76 L332.70,284.38 L332.75,284.00 L332.80,283.62 L332.86,283.24 L332.92,282.86 L332.97,282.49 L333.03,282.11 L333.09,281.73 L333.15,281.35 L333.22,280.97 L333.28,280.59 L333.34,280.21 L333.41,279.83 L333.48,279.45 L333.54,279.07 L333.61,278.69 L333.68,278.31 L333.75,277.93 L333.82,277.55 L333.90,277.18 L333.97,276.80 L334.04,276.42 L334.12,276.04 L334.19,275.66 L334.27,275.28 L334.34,274.90 L334.42,274.52 L334.49,274.14 L334.57,273.76 L334.65,273.38 L334.72,273.00 L334.80,272.62 L334.88,272.24 L334.95,271.87 L335.03,271.49 L335.10,271.11 L335.18,270.73 L335.25,270.35 L335.33,269.97 L335.40,269.59 L335.47,269.21 L335.54,268.83 L335.61,268.45 L335.68,268.07 L335.75,267.69 L335.81,267.31 L335.88,266.93 L335.94,266.56 L336.00,266.18 L336.05,265.80 L336.11,265.42 L336.16,265.04 L336.21,264.66 L336.26,264.28 L336.30,263.90 L336.34,263.52 L336.37,263.14 L336.41,262.76 L336.43,262.38 L336.46,262.00 L336.48,261.62 L336.49,261.25 L336.33,260.87 L336.30,260.49 L336.27,260.11 L336.23,259.73 L336.19,259.35 L336.14,258.97 L336.09,258.59 L336.03,258.21 L335.98,257.83 L335.92,257.45 L335.86,257.07 L335.79,256.69 L335.73,256.31 L335.66,255.94 L335.59,255.56 L335.51,255.18 L335.44,254.80 L335.36,254.42 L335.29,254.04 L335.21,253.66 L335.13,253.28 L335.05,252.90 L334.97,252.52 L334.89,252.14 L334.81,251.76 L334.73,251.38 L334.65,251.00 L334.56,250.63 L334.48,250.25 L334.40,249.87 L334.32,249.49 L334.24,249.11 L334.15,248.73 L334.07,248.35 L333.99,247.97 L333.91,247.59 L333.83,247.21 L333.76,246.83 L333.68,246.45 L333.60,246.07 L333.53,245.69 L333.45,245.32 L333.38,244.94 L333.31,244.56 L333.23,244.18 L333.16,243.80 L333.10,243.42 L333.03,243.04 L332.96,242.66 L332.90,242.28 L332.83,241.90 L332.77,241.52 L332.71,241.14 L332.65,240.76 L332.59,240.38 L332.53,240.01 L332.48,239.63 L332.42,239.25 L332.37,238.87 L332.32,238.49 L332.27,238.11 L332.22,237.73 L332.17,237.35 L332.13,236.97 L332.08,236.59 L332.04,236.21 L332.00,235.83 L331.96,235.45 L331.92,235.07 L331.88,234.70 L331.84,234.32 L331.81,233.94 L331.78,233.56 L331.74,233.18 L331.71,232.80 L331.68,232.42 L331.65,232.04 L331.62,231.66 L331.59,231.28 L331.57,230.90 L331.54,230.52 L331.52,230.14 L331.49,229.76 L331.47,229.39 L330.58,229.39 L330.56,229.76 L330.54,230.14 L330.51,230.52 L330.49,230.90 L330.46,231.28 L330.43,231.66 L330.40,232.04 L330.38,232.42 L330.34,232.80 L330.31,233.18 L330.28,233.56 L330.25,233.94 L330.21,234.32 L330.17,234.70 L330.14,235.07 L330.10,235.45 L330.06,235.83 L330.01,236.21 L329.97,236.59 L329.93,236.97 L329.88,237.35 L329.83,237.73 L329.79,238.11 L329.74,238.49 L329.68,238.87 L329.63,239.25 L329.58,239.63 L329.52,240.01 L329.46,240.38 L329.41,240.76 L329.35,241.14 L329.29,241.52 L329.22,241.90 L329.16,242.28 L329.09,242.66 L329.03,243.04 L328.96,243.42 L328.89,243.80 L328.82,244.18 L328.75,244.56 L328.68,244.94 L328.60,245.32 L328.53,245.69 L328.45,246.07 L328.38,246.45 L328.30,246.83 L328.22,247.21 L328.14,247.59 L328.06,247.97 L327.98,248.35 L327.90,248.73 L327.82,249.11 L327.74,249.49 L327.66,249.87 L327.57,250.25 L327.49,250.63 L327.41,251.00 L327.33,251.38 L327.24,251.76 L327.16,252.14 L327.08,252.52 L327.00,252.90 L326.92,253.28 L326.84,253.66 L326.77,254.04 L326.69,254.42 L326.61,254.80 L326.54,255.18 L326.47,255.56 L326.40,255.94 L326.33,256.31 L326.26,256.69 L326.20,257.07 L326.14,257.45 L326.08,257.83 L326.02,258.21 L325.97,258.59 L325.92,258.97 L325.87,259.35 L325.83,259.73 L325.79,260.11 L325.75,260.49 L325.72,260.87 L325.57,261.25 L325.58,261.62 L325.60,262.00 L325.62,262.38 L325.65,262.76 L325.68,263.14 L325.72,263.52 L325.76,263.90 L325.80,264.28 L325.85,264.66 L325.89,265.04 L325.95,265.42 L326.00,265.80 L326.06,266.18 L326.12,266.56 L326.18,266.93 L326.24,267.31 L326.31,267.69 L326.37,268.07 L326.44,268.45 L326.51,268.83 L326.58,269.21 L326.65,269.59 L326.73,269.97 L326.80,270.35 L326.88,270.73 L326.95,271.11 L327.03,271.49 L327.10,271.87 L327.18,272.24 L327.26,272.62 L327.33,273.00 L327.41,273.38 L327.49,273.76 L327.56,274.14 L327.64,274.52 L327.71,274.90 L327.79,275.28 L327.86,275.66 L327.94,276.04 L328.01,276.42 L328.09,276.80 L328.16,277.18 L328.23,277.55 L328.30,277.93 L328.37,278.31 L328.44,278.69 L328.51,279.07 L328.58,279.45 L328.65,279.83 L328.71,280.21 L328.78,280.59 L328.84,280.97 L328.90,281.35 L328.96,281.73 L329.02,282.11 L329.08,282.49 L329.14,282.86 L329.20,283.24 L329.25,283.62 L329.30,284.00 L329.36,284.38 L329.41,284.76 L329.46,285.14 L329.51,285.52 L329.56,285.90 L329.60,286.28 L329.65,286.66 L329.69,287.04 L329.74,287.42 L329.78,287.80 L329.82,288.17 L329.86,288.55 L329.90,288.93 L329.94,289.31 L329.97,289.69 L330.01,290.07 L330.04,290.45 L330.08,290.83 L330.11,291.21 L330.14,291.59 L330.17,291.97 L330.20,292.35 L330.23,292.73 L330.26,293.11 L330.28,293.48 L330.31,293.86 L330.33,294.24 L330.36,294.62 L330.38,295.00 L330.40,295.38 L330.43,295.76 L330.45,296.14 L330.47,296.52 L330.49,296.90 L330.50,297.28 L330.52,297.66 L330.54,298.04 L330.56,298.42 L330.57,298.79 L330.59,299.17 L330.60,299.55 L330.62,299.93 L330.63,300.31 L330.64,300.69 L330.66,301.07 L330.67,301.45 L330.68,301.83 L330.69,302.21 L330.70,302.59 L330.71,302.97 L330.72,303.35 L330.73,303.73 L330.74,304.10 L330.75,304.48 L330.76,304.86 L330.76,305.24 L330.77,305.62 L330.78,306.00 L330.79,306.38 L330.79,306.76 L330.80,307.14 L330.80,307.52 L330.81,307.90 L330.82,308.28 L330.82,308.66 L330.83,309.04 L330.83,309.41 L330.84,309.79 L330.84,310.17 L330.85,310.55 L330.85,310.93 L330.85,311.31 L330.86,311.69 L330.86,312.07 L330.86,312.45 L330.87,312.83 L330.87,313.21 L330.87,313.59 L330.88,313.97 L330.88,314.35 L330.88,314.72 L330.89,315.10 L330.89,315.48 L330.89,315.86 L330.89,316.24 L330.89,316.62 L330.90,317.00 L330.90,317.38 L330.90,317.76 L330.90,318.14 L330.90,318.52 L330.91,318.90 L330.91,319.28 L330.91,319.66 L330.91,320.03 L330.91,320.41 L330.91,320.79 L330.92,321.17 L330.92,321.55 L330.92,321.93 L330.92,322.31 L330.92,322.69 L330.92,323.07 L330.92,323.45 L330.93,323.83 L330.93,324.21 L330.93,324.59 L330.93,324.97 L330.93,325.34 L330.93,325.72 L330.93,326.10 L330.93,326.48 L330.93,326.86 L330.93,327.24 L330.94,327.62 L330.94,328.00Z" fill="#2a72b9"/>
<line x1="331.03" y1="267.65" x2="331.03" y2="254.65" stroke="#111" stroke-width="1.8"/>
<line x1="331.03" y1="272.85" x2="331.03" y2="249.45" stroke="#111" stroke-width="0.6"/>
<rect x="330.13" y="260.35" width="1.8" height="1.6" fill="#fff"/>
<path d="M344.52,328.00 L344.52,327.59 L344.52,327.18 L344.52,326.77 L344.52,326.36 L344.52,325.95 L344.52,325.54 L344.52,325.14 L344.52,324.73 L344.52,324.32 L344.53,323.91 L344.53,323.50 L344.53,323.09 L344.53,322.68 L344.53,322.27 L344.53,321.86 L344.53,321.45 L344.53,321.04 L344.53,320.63 L344.53,320.22 L344.53,319.82 L344.54,319.41 L344.54,319.00 L344.54,318.59 L344.54,318.18 L344.54,317.77 L344.54,317.36 L344.54,316.95 L344.54,316.54 L344.54,316.13 L344.55,315.72 L344.55,315.31 L344.55,314.91 L344.55,314.50 L344.55,314.09 L344.55,313.68 L344.55,313.27 L344.56,312.86 L344.56,312.45 L344.56,312.04 L344.56,311.63 L344.56,311.22 L344.56,310.81 L344.57,310.40 L344.57,309.99 L344.57,309.59 L344.57,309.18 L344.58,308.77 L344.58,308.36 L344.58,307.95 L344.58,307.54 L344.59,307.13 L344.59,306.72 L344.59,306.31 L344.60,305.90 L344.60,305.49 L344.60,305.08 L344.61,304.67 L344.61,304.27 L344.61,303.86 L344.62,303.45 L344.62,303.04 L344.63,302.63 L344.63,302.22 L344.64,301.81 L344.64,301.40 L344.65,300.99 L344.65,300.58 L344.66,300.17 L344.66,299.76 L344.67,299.35 L344.68,298.95 L344.69,298.54 L344.69,298.13 L344.70,297.72 L344.71,297.31 L344.72,296.90 L344.73,296.49 L344.74,296.08 L344.75,295.67 L344.76,295.26 L344.77,294.85 L344.78,294.44 L344.79,294.04 L344.80,293.63 L344.82,293.22 L344.83,292.81 L344.85,292.40 L344.86,291.99 L344.88,291.58 L344.89,291.17 L344.91,290.76 L344.93,290.35 L344.94,289.94 L344.96,289.53 L344.98,289.12 L345.00,288.72 L345.03,288.31 L345.05,287.90 L345.07,287.49 L345.10,287.08 L345.12,286.67 L345.15,286.26 L345.18,285.85 L345.20,285.44 L345.23,285.03 L345.26,284.62 L345.30,284.21 L345.33,283.80 L345.36,283.40 L345.40,282.99 L345.43,282.58 L345.47,282.17 L345.51,281.76 L345.55,281.35 L345.59,280.94 L345.63,280.53 L345.68,280.12 L345.72,279.71 L345.77,279.30 L345.82,278.89 L345.87,278.48 L345.92,278.08 L345.97,277.67 L346.02,277.26 L346.08,276.85 L346.13,276.44 L346.19,276.03 L346.25,275.62 L346.31,275.21 L346.37,274.80 L346.44,274.39 L346.50,273.98 L346.57,273.57 L346.63,273.17 L346.70,272.76 L346.77,272.35 L346.84,271.94 L346.92,271.53 L346.99,271.12 L347.06,270.71 L347.14,270.30 L347.22,269.89 L347.29,269.48 L347.37,269.07 L347.45,268.66 L347.53,268.25 L347.61,267.85 L347.69,267.44 L347.77,267.03 L347.86,266.62 L347.94,266.21 L348.02,265.80 L348.10,265.39 L348.19,264.98 L348.27,264.57 L348.35,264.16 L348.43,263.75 L348.52,263.34 L348.60,262.93 L348.68,262.53 L348.76,262.12 L348.83,261.71 L348.91,261.30 L348.99,260.89 L349.06,260.48 L349.14,260.07 L349.21,259.66 L349.27,259.25 L349.34,258.84 L349.41,258.43 L349.47,258.02 L349.53,257.61 L349.58,257.21 L349.63,256.80 L349.68,256.39 L349.73,255.98 L349.77,255.57 L349.81,255.16 L349.84,254.75 L349.87,254.34 L349.89,253.93 L349.90,253.52 L349.75,253.11 L349.72,252.70 L349.68,252.30 L349.63,251.89 L349.58,251.48 L349.53,251.07 L349.47,250.66 L349.41,250.25 L349.34,249.84 L349.27,249.43 L349.20,249.02 L349.12,248.61 L349.04,248.20 L348.96,247.79 L348.88,247.38 L348.80,246.98 L348.71,246.57 L348.62,246.16 L348.54,245.75 L348.45,245.34 L348.36,244.93 L348.26,244.52 L348.17,244.11 L348.08,243.70 L347.99,243.29 L347.90,242.88 L347.80,242.47 L347.71,242.06 L347.62,241.66 L347.53,241.25 L347.44,240.84 L347.35,240.43 L347.26,240.02 L347.17,239.61 L347.08,239.20 L347.00,238.79 L346.91,238.38 L346.83,237.97 L346.75,237.56 L346.67,237.15 L346.59,236.74 L346.51,236.34 L346.43,235.93 L346.36,235.52 L346.29,235.11 L346.21,234.70 L346.15,234.29 L346.08,233.88 L346.01,233.47 L345.95,233.06 L345.89,232.65 L345.82,232.24 L345.77,231.83 L345.71,231.43 L345.65,231.02 L345.60,230.61 L345.55,230.20 L345.50,229.79 L345.45,229.38 L345.40,228.97 L345.36,228.56 L345.32,228.15 L345.27,227.74 L345.23,227.33 L345.19,226.92 L345.16,226.51 L345.12,226.11 L345.09,225.70 L345.05,225.29 L345.02,224.88 L344.99,224.47 L344.96,224.06 L344.94,223.65 L344.91,223.24 L344.88,222.83 L344.86,222.42 L344.84,222.01 L344.82,221.60 L344.07,221.60 L344.05,222.01 L344.02,222.42 L344.00,222.83 L343.98,223.24 L343.95,223.65 L343.92,224.06 L343.89,224.47 L343.86,224.88 L343.83,225.29 L343.80,225.70 L343.76,226.11 L343.73,226.51 L343.69,226.92 L343.65,227.33 L343.61,227.74 L343.57,228.15 L343.53,228.56 L343.48,228.97 L343.43,229.38 L343.39,229.79 L343.34,230.20 L343.28,230.61 L343.23,231.02 L343.18,231.43 L343.12,231.83 L343.06,232.24 L343.00,232.65 L342.94,233.06 L342.87,233.47 L342.81,233.88 L342.74,234.29 L342.67,234.70 L342.60,235.11 L342.53,235.52 L342.45,235.93 L342.38,236.34 L342.30,236.74 L342.22,237.15 L342.14,237.56 L342.06,237.97 L341.97,238.38 L341.89,238.79 L341.80,239.20 L341.72,239.61 L341.63,240.02 L341.54,240.43 L341.45,240.84 L341.36,241.25 L341.27,241.66 L341.17,242.06 L341.08,242.47 L340.99,242.88 L340.90,243.29 L340.81,243.70 L340.71,244.11 L340.62,244.52 L340.53,244.93 L340.44,245.34 L340.35,245.75 L340.26,246.16 L340.17,246.57 L340.09,246.98 L340.00,247.38 L339.92,247.79 L339.84,248.20 L339.76,248.61 L339.69,249.02 L339.61,249.43 L339.55,249.84 L339.48,250.25 L339.42,250.66 L339.36,251.07 L339.30,251.48 L339.25,251.89 L339.21,252.30 L339.17,252.70 L339.14,253.11 L338.99,253.52 L339.00,253.93 L339.02,254.34 L339.05,254.75 L339.08,255.16 L339.11,255.57 L339.16,255.98 L339.20,256.39 L339.25,256.80 L339.30,257.21 L339.36,257.61 L339.42,258.02 L339.48,258.43 L339.54,258.84 L339.61,259.25 L339.68,259.66 L339.75,260.07 L339.82,260.48 L339.90,260.89 L339.97,261.30 L340.05,261.71 L340.13,262.12 L340.21,262.53 L340.29,262.93 L340.37,263.34 L340.45,263.75 L340.53,264.16 L340.62,264.57 L340.70,264.98 L340.78,265.39 L340.86,265.80 L340.95,266.21 L341.03,266.62 L341.11,267.03 L341.19,267.44 L341.27,267.85 L341.35,268.25 L341.43,268.66 L341.51,269.07 L341.59,269.48 L341.67,269.89 L341.75,270.30 L341.82,270.71 L341.90,271.12 L341.97,271.53 L342.04,271.94 L342.11,272.35 L342.18,272.76 L342.25,273.17 L342.32,273.57 L342.38,273.98 L342.45,274.39 L342.51,274.80 L342.57,275.21 L342.63,275.62 L342.69,276.03 L342.75,276.44 L342.81,276.85 L342.86,277.26 L342.92,277.67 L342.97,278.08 L343.02,278.48 L343.07,278.89 L343.12,279.30 L343.16,279.71 L343.21,280.12 L343.25,280.53 L343.29,280.94 L343.34,281.35 L343.38,281.76 L343.41,282.17 L343.45,282.58 L343.49,282.99 L343.52,283.40 L343.56,283.80 L343.59,284.21 L343.62,284.62 L343.65,285.03 L343.68,285.44 L343.71,285.85 L343.74,286.26 L343.76,286.67 L343.79,287.08 L343.81,287.49 L343.84,287.90 L343.86,288.31 L343.88,288.72 L343.90,289.12 L343.92,289.53 L343.94,289.94 L343.96,290.35 L343.98,290.76 L343.99,291.17 L344.01,291.58 L344.02,291.99 L344.04,292.40 L344.05,292.81 L344.07,293.22 L344.08,293.63 L344.09,294.04 L344.11,294.44 L344.12,294.85 L344.13,295.26 L344.14,295.67 L344.15,296.08 L344.16,296.49 L344.17,296.90 L344.18,297.31 L344.18,297.72 L344.19,298.13 L344.20,298.54 L344.21,298.95 L344.21,299.35 L344.22,299.76 L344.23,300.17 L344.23,300.58 L344.24,300.99 L344.24,301.40 L344.25,301.81 L344.25,302.22 L344.26,302.63 L344.26,303.04 L344.27,303.45 L344.27,303.86 L344.28,304.27 L344.28,304.67 L344.28,305.08 L344.29,305.49 L344.29,305.90 L344.29,306.31 L344.30,306.72 L344.30,307.13 L344.30,307.54 L344.30,307.95 L344.31,308.36 L344.31,308.77 L344.31,309.18 L344.31,309.59 L344.32,309.99 L344.32,310.40 L344.32,310.81 L344.32,311.22 L344.32,311.63 L344.33,312.04 L344.33,312.45 L344.33,312.86 L344.33,313.27 L344.33,313.68 L344.33,314.09 L344.34,314.50 L344.34,314.91 L344.34,315.31 L344.34,315.72 L344.34,316.13 L344.34,316.54 L344.34,316.95 L344.34,317.36 L344.35,317.77 L344.35,318.18 L344.35,318.59 L344.35,319.00 L344.35,319.41 L344.35,319.82 L344.35,320.22 L344.35,320.63 L344.35,321.04 L344.35,321.45 L344.36,321.86 L344.36,322.27 L344.36,322.68 L344.36,323.09 L344.36,323.50 L344.36,323.91 L344.36,324.32 L344.36,324.73 L344.36,325.14 L344.36,325.54 L344.36,325.95 L344.36,326.36 L344.36,326.77 L344.37,327.18 L344.37,327.59 L344.37,328.00Z" fill="#2a72b9"/>
<line x1="344.44" y1="259.74" x2="344.44" y2="246.99" stroke="#111" stroke-width="1.8"/>
<line x1="344.44" y1="264.84" x2="344.44" y2="241.89" stroke="#111" stroke-width="0.6"/>
<rect x="343.54" y="252.56" width="1.8" height="1.6" fill="#fff"/>
<path d="M357.92,328.00 L357.92,327.56 L357.92,327.13 L357.92,326.69 L357.92,326.25 L357.93,325.82 L357.93,325.38 L357.93,324.94 L357.93,324.51 L357.93,324.07 L357.93,323.63 L357.93,323.20 L357.93,322.76 L357.93,322.32 L357.93,321.89 L357.93,321.45 L357.93,321.01 L357.93,320.58 L357.93,320.14 L357.94,319.70 L357.94,319.27 L357.94,318.83 L357.94,318.39 L357.94,317.96 L357.94,317.52 L357.94,317.08 L357.94,316.65 L357.94,316.21 L357.94,315.77 L357.94,315.34 L357.94,314.90 L357.95,314.46 L357.95,314.03 L357.95,313.59 L357.95,313.15 L357.95,312.72 L357.95,312.28 L357.95,311.84 L357.95,311.41 L357.95,310.97 L357.96,310.53 L357.96,310.10 L357.96,309.66 L357.96,309.22 L357.96,308.79 L357.96,308.35 L357.96,307.91 L357.96,307.48 L357.97,307.04 L357.97,306.60 L357.97,306.16 L357.97,305.73 L357.97,305.29 L357.97,304.85 L357.98,304.42 L357.98,303.98 L357.98,303.54 L357.98,303.11 L357.98,302.67 L357.99,302.23 L357.99,301.80 L357.99,301.36 L357.99,300.92 L358.00,300.49 L358.00,300.05 L358.00,299.61 L358.01,299.18 L358.01,298.74 L358.01,298.30 L358.02,297.87 L358.02,297.43 L358.03,296.99 L358.03,296.56 L358.03,296.12 L358.04,295.68 L358.04,295.25 L358.05,294.81 L358.05,294.37 L358.06,293.94 L358.07,293.50 L358.07,293.06 L358.08,292.63 L358.09,292.19 L358.09,291.75 L358.10,291.32 L358.11,290.88 L358.12,290.44 L358.13,290.01 L358.14,289.57 L358.15,289.13 L358.16,288.70 L358.17,288.26 L358.18,287.82 L358.19,287.39 L358.20,286.95 L358.22,286.51 L358.23,286.08 L358.25,285.64 L358.26,285.20 L358.28,284.77 L358.29,284.33 L358.31,283.89 L358.33,283.46 L358.35,283.02 L358.37,282.58 L358.39,282.15 L358.41,281.71 L358.44,281.27 L358.46,280.84 L358.48,280.40 L358.51,279.96 L358.54,279.53 L358.57,279.09 L358.59,278.65 L358.62,278.22 L358.66,277.78 L358.69,277.34 L358.72,276.91 L358.76,276.47 L358.80,276.03 L358.83,275.60 L358.87,275.16 L358.91,274.72 L358.96,274.29 L359.00,273.85 L359.05,273.41 L359.09,272.98 L359.14,272.54 L359.19,272.10 L359.24,271.67 L359.30,271.23 L359.35,270.79 L359.41,270.36 L359.46,269.92 L359.52,269.48 L359.58,269.05 L359.65,268.61 L359.71,268.17 L359.78,267.74 L359.84,267.30 L359.91,266.86 L359.98,266.43 L360.06,265.99 L360.13,265.55 L360.20,265.12 L360.28,264.68 L360.36,264.24 L360.44,263.81 L360.52,263.37 L360.60,262.93 L360.68,262.50 L360.76,262.06 L360.85,261.62 L360.93,261.18 L361.02,260.75 L361.10,260.31 L361.19,259.87 L361.28,259.44 L361.37,259.00 L361.45,258.56 L361.54,258.13 L361.63,257.69 L361.72,257.25 L361.81,256.82 L361.89,256.38 L361.98,255.94 L362.07,255.51 L362.15,255.07 L362.24,254.63 L362.32,254.20 L362.40,253.76 L362.48,253.32 L362.56,252.89 L362.63,252.45 L362.71,252.01 L362.78,251.58 L362.84,251.14 L362.91,250.70 L362.97,250.27 L363.03,249.83 L363.08,249.39 L363.13,248.96 L363.18,248.52 L363.22,248.08 L363.25,247.65 L363.28,247.21 L363.30,246.77 L363.32,246.34 L363.16,245.90 L363.12,245.46 L363.07,245.03 L363.02,244.59 L362.95,244.15 L362.89,243.72 L362.81,243.28 L362.73,242.84 L362.65,242.41 L362.57,241.97 L362.48,241.53 L362.38,241.10 L362.29,240.66 L362.19,240.22 L362.09,239.79 L361.98,239.35 L361.88,238.91 L361.77,238.48 L361.67,238.04 L361.56,237.60 L361.45,237.17 L361.34,236.73 L361.24,236.29 L361.13,235.86 L361.02,235.42 L360.92,234.98 L360.81,234.55 L360.71,234.11 L360.60,233.67 L360.50,233.24 L360.40,232.80 L360.30,232.36 L360.21,231.93 L360.11,231.49 L360.02,231.05 L359.93,230.62 L359.84,230.18 L359.75,229.74 L359.67,229.31 L359.59,228.87 L359.51,228.43 L359.43,228.00 L359.36,227.56 L359.28,227.12 L359.21,226.69 L359.15,226.25 L359.08,225.81 L359.02,225.38 L358.96,224.94 L358.90,224.50 L358.85,224.07 L358.79,223.63 L358.74,223.19 L358.69,222.76 L358.64,222.32 L358.60,221.88 L358.56,221.45 L358.52,221.01 L358.48,220.57 L358.44,220.14 L358.41,219.70 L358.37,219.26 L358.34,218.82 L358.31,218.39 L358.28,217.95 L358.25,217.51 L358.23,217.08 L358.21,216.64 L358.18,216.20 L358.16,215.77 L358.14,215.33 L358.12,214.89 L358.10,214.46 L357.61,214.46 L357.59,214.89 L357.57,215.33 L357.55,215.77 L357.53,216.20 L357.51,216.64 L357.49,217.08 L357.46,217.51 L357.43,217.95 L357.40,218.39 L357.37,218.82 L357.34,219.26 L357.31,219.70 L357.27,220.14 L357.24,220.57 L357.20,221.01 L357.16,221.45 L357.11,221.88 L357.07,222.32 L357.02,222.76 L356.97,223.19 L356.92,223.63 L356.87,224.07 L356.81,224.50 L356.76,224.94 L356.70,225.38 L356.63,225.81 L356.57,226.25 L356.50,226.69 L356.43,227.12 L356.36,227.56 L356.28,228.00 L356.21,228.43 L356.13,228.87 L356.05,229.31 L355.96,229.74 L355.88,230.18 L355.79,230.62 L355.70,231.05 L355.60,231.49 L355.51,231.93 L355.41,232.36 L355.31,232.80 L355.21,233.24 L355.11,233.67 L355.01,234.11 L354.90,234.55 L354.80,234.98 L354.69,235.42 L354.59,235.86 L354.48,236.29 L354.37,236.73 L354.26,237.17 L354.15,237.60 L354.05,238.04 L353.94,238.48 L353.84,238.91 L353.73,239.35 L353.63,239.79 L353.53,240.22 L353.43,240.66 L353.33,241.10 L353.24,241.53 L353.15,241.97 L353.06,242.41 L352.98,242.84 L352.90,243.28 L352.83,243.72 L352.76,244.15 L352.70,244.59 L352.64,245.03 L352.60,245.46 L352.56,245.90 L352.40,246.34 L352.41,246.77 L352.43,247.21 L352.46,247.65 L352.50,248.08 L352.54,248.52 L352.58,248.96 L352.63,249.39 L352.69,249.83 L352.75,250.27 L352.81,250.70 L352.87,251.14 L352.94,251.58 L353.01,252.01 L353.08,252.45 L353.16,252.89 L353.24,253.32 L353.32,253.76 L353.40,254.20 L353.48,254.63 L353.56,255.07 L353.65,255.51 L353.73,255.94 L353.82,256.38 L353.91,256.82 L354.00,257.25 L354.08,257.69 L354.17,258.13 L354.26,258.56 L354.35,259.00 L354.44,259.44 L354.52,259.87 L354.61,260.31 L354.70,260.75 L354.78,261.18 L354.87,261.62 L354.95,262.06 L355.04,262.50 L355.12,262.93 L355.20,263.37 L355.28,263.81 L355.36,264.24 L355.44,264.68 L355.51,265.12 L355.59,265.55 L355.66,265.99 L355.73,266.43 L355.80,266.86 L355.87,267.30 L355.94,267.74 L356.00,268.17 L356.07,268.61 L356.13,269.05 L356.19,269.48 L356.25,269.92 L356.31,270.36 L356.36,270.79 L356.42,271.23 L356.47,271.67 L356.52,272.10 L356.57,272.54 L356.62,272.98 L356.67,273.41 L356.71,273.85 L356.76,274.29 L356.80,274.72 L356.84,275.16 L356.88,275.60 L356.92,276.03 L356.96,276.47 L356.99,276.91 L357.03,277.34 L357.06,277.78 L357.09,278.22 L357.12,278.65 L357.15,279.09 L357.18,279.53 L357.21,279.96 L357.23,280.40 L357.26,280.84 L357.28,281.27 L357.30,281.71 L357.32,282.15 L357.35,282.58 L357.37,283.02 L357.38,283.46 L357.40,283.89 L357.42,284.33 L357.44,284.77 L357.45,285.20 L357.47,285.64 L357.48,286.08 L357.50,286.51 L357.51,286.95 L357.52,287.39 L357.53,287.82 L357.55,288.26 L357.56,288.70 L357.57,289.13 L357.58,289.57 L357.59,290.01 L357.60,290.44 L357.60,290.88 L357.61,291.32 L357.62,291.75 L357.63,292.19 L357.64,292.63 L357.64,293.06 L357.65,293.50 L357.65,293.94 L357.66,294.37 L357.67,294.81 L357.67,295.25 L357.68,295.68 L357.68,296.12 L357.69,296.56 L357.69,296.99 L357.69,297.43 L357.70,297.87 L357.70,298.30 L357.70,298.74 L357.71,299.18 L357.71,299.61 L357.71,300.05 L357.72,300.49 L357.72,300.92 L357.72,301.36 L357.73,301.80 L357.73,302.23 L357.73,302.67 L357.73,303.11 L357.73,303.54 L357.74,303.98 L357.74,304.42 L357.74,304.85 L357.74,305.29 L357.74,305.73 L357.75,306.16 L357.75,306.60 L357.75,307.04 L357.75,307.48 L357.75,307.91 L357.75,308.35 L357.75,308.79 L357.76,309.22 L357.76,309.66 L357.76,310.10 L357.76,310.53 L357.76,310.97 L357.76,311.41 L357.76,311.84 L357.76,312.28 L357.77,312.72 L357.77,313.15 L357.77,313.59 L357.77,314.03 L357.77,314.46 L357.77,314.90 L357.77,315.34 L357.77,315.77 L357.77,316.21 L357.77,316.65 L357.77,317.08 L357.78,317.52 L357.78,317.96 L357.78,318.39 L357.78,318.83 L357.78,319.27 L357.78,319.70 L357.78,320.14 L357.78,320.58 L357.78,321.01 L357.78,321.45 L357.78,321.89 L357.78,322.32 L357.78,322.76 L357.79,323.20 L357.79,323.63 L357.79,324.07 L357.79,324.51 L357.79,324.94 L357.79,325.38 L357.79,325.82 L357.79,326.25 L357.79,326.69 L357.79,327.13 L357.79,327.56 L357.79,328.00Z" fill="#2a72b9"/>
<line x1="357.86" y1="252.34" x2="357.86" y2="240.09" stroke="#111" stroke-width="1.8"/>
<line x1="357.86" y1="257.24" x2="357.86" y2="235.19" stroke="#111" stroke-width="0.6"/>
<rect x="356.96" y="245.42" width="1.8" height="1.6" fill="#fff"/>
<path d="M371.33,328.00 L371.33,327.53 L371.33,327.06 L371.33,326.59 L371.33,326.12 L371.33,325.65 L371.33,325.19 L371.33,324.72 L371.33,324.25 L371.33,323.78 L371.33,323.31 L371.33,322.84 L371.33,322.37 L371.33,321.90 L371.33,321.43 L371.34,320.96 L371.34,320.49 L371.34,320.03 L371.34,319.56 L371.34,319.09 L371.34,318.62 L371.34,318.15 L371.34,317.68 L371.34,317.21 L371.34,316.74 L371.34,316.27 L371.34,315.80 L371.34,315.34 L371.34,314.87 L371.34,314.40 L371.35,313.93 L371.35,313.46 L371.35,312.99 L371.35,312.52 L371.35,312.05 L371.35,311.58 L371.35,311.11 L371.35,310.64 L371.35,310.18 L371.35,309.71 L371.35,309.24 L371.35,308.77 L371.36,308.30 L371.36,307.83 L371.36,307.36 L371.36,306.89 L371.36,306.42 L371.36,305.95 L371.36,305.48 L371.36,305.02 L371.36,304.55 L371.36,304.08 L371.36,303.61 L371.37,303.14 L371.37,302.67 L371.37,302.20 L371.37,301.73 L371.37,301.26 L371.37,300.79 L371.37,300.32 L371.37,299.86 L371.38,299.39 L371.38,298.92 L371.38,298.45 L371.38,297.98 L371.38,297.51 L371.38,297.04 L371.39,296.57 L371.39,296.10 L371.39,295.63 L371.39,295.17 L371.39,294.70 L371.39,294.23 L371.40,293.76 L371.40,293.29 L371.40,292.82 L371.40,292.35 L371.41,291.88 L371.41,291.41 L371.41,290.94 L371.41,290.47 L371.42,290.01 L371.42,289.54 L371.42,289.07 L371.43,288.60 L371.43,288.13 L371.44,287.66 L371.44,287.19 L371.45,286.72 L371.45,286.25 L371.46,285.78 L371.46,285.31 L371.47,284.85 L371.47,284.38 L371.48,283.91 L371.49,283.44 L371.49,282.97 L371.50,282.50 L371.51,282.03 L371.52,281.56 L371.52,281.09 L371.53,280.62 L371.54,280.15 L371.55,279.69 L371.56,279.22 L371.58,278.75 L371.59,278.28 L371.60,277.81 L371.62,277.34 L371.63,276.87 L371.64,276.40 L371.66,275.93 L371.68,275.46 L371.69,275.00 L371.71,274.53 L371.73,274.06 L371.75,273.59 L371.78,273.12 L371.80,272.65 L371.82,272.18 L371.85,271.71 L371.87,271.24 L371.90,270.77 L371.93,270.30 L371.96,269.84 L371.99,269.37 L372.02,268.90 L372.06,268.43 L372.09,267.96 L372.13,267.49 L372.17,267.02 L372.21,266.55 L372.25,266.08 L372.30,265.61 L372.34,265.14 L372.39,264.68 L372.44,264.21 L372.49,263.74 L372.55,263.27 L372.60,262.80 L372.66,262.33 L372.72,261.86 L372.78,261.39 L372.84,260.92 L372.91,260.45 L372.97,259.98 L373.04,259.52 L373.11,259.05 L373.19,258.58 L373.26,258.11 L373.34,257.64 L373.42,257.17 L373.50,256.70 L373.58,256.23 L373.66,255.76 L373.75,255.29 L373.84,254.82 L373.93,254.36 L374.02,253.89 L374.11,253.42 L374.20,252.95 L374.30,252.48 L374.39,252.01 L374.49,251.54 L374.58,251.07 L374.68,250.60 L374.78,250.13 L374.88,249.67 L374.98,249.20 L375.07,248.73 L375.17,248.26 L375.27,247.79 L375.37,247.32 L375.46,246.85 L375.56,246.38 L375.65,245.91 L375.74,245.44 L375.83,244.97 L375.92,244.51 L376.01,244.04 L376.09,243.57 L376.17,243.10 L376.25,242.63 L376.32,242.16 L376.39,241.69 L376.45,241.22 L376.51,240.75 L376.56,240.28 L376.61,239.81 L376.65,239.35 L376.69,238.88 L376.71,238.41 L376.73,237.94 L376.57,237.47 L376.53,237.00 L376.47,236.53 L376.41,236.06 L376.33,235.59 L376.25,235.12 L376.17,234.65 L376.08,234.19 L375.98,233.72 L375.88,233.25 L375.77,232.78 L375.66,232.31 L375.55,231.84 L375.43,231.37 L375.32,230.90 L375.20,230.43 L375.08,229.96 L374.96,229.50 L374.84,229.03 L374.71,228.56 L374.59,228.09 L374.47,227.62 L374.35,227.15 L374.23,226.68 L374.11,226.21 L374.00,225.74 L373.88,225.27 L373.77,224.80 L373.66,224.34 L373.56,223.87 L373.45,223.40 L373.35,222.93 L373.25,222.46 L373.15,221.99 L373.06,221.52 L372.97,221.05 L372.88,220.58 L372.79,220.11 L372.71,219.64 L372.63,219.18 L372.56,218.71 L372.48,218.24 L372.41,217.77 L372.35,217.30 L372.28,216.83 L372.22,216.36 L372.16,215.89 L372.11,215.42 L372.06,214.95 L372.01,214.48 L371.96,214.02 L371.91,213.55 L371.87,213.08 L371.83,212.61 L371.79,212.14 L371.76,211.67 L371.72,211.20 L371.69,210.73 L371.66,210.26 L371.63,209.79 L371.61,209.33 L371.58,208.86 L371.56,208.39 L371.54,207.92 L371.52,207.45 L371.50,206.98 L371.48,206.51 L371.46,206.04 L371.08,206.04 L371.06,206.51 L371.05,206.98 L371.03,207.45 L371.01,207.92 L370.99,208.39 L370.96,208.86 L370.94,209.33 L370.91,209.79 L370.88,210.26 L370.85,210.73 L370.82,211.20 L370.79,211.67 L370.75,212.14 L370.71,212.61 L370.67,213.08 L370.63,213.55 L370.59,214.02 L370.54,214.48 L370.49,214.95 L370.44,215.42 L370.38,215.89 L370.32,216.36 L370.26,216.83 L370.20,217.30 L370.13,217.77 L370.06,218.24 L369.99,218.71 L369.91,219.18 L369.83,219.64 L369.75,220.11 L369.67,220.58 L369.58,221.05 L369.49,221.52 L369.39,221.99 L369.30,222.46 L369.20,222.93 L369.09,223.40 L368.99,223.87 L368.88,224.34 L368.77,224.80 L368.66,225.27 L368.55,225.74 L368.43,226.21 L368.31,226.68 L368.19,227.15 L368.07,227.62 L367.95,228.09 L367.83,228.56 L367.71,229.03 L367.59,229.50 L367.47,229.96 L367.35,230.43 L367.23,230.90 L367.11,231.37 L367.00,231.84 L366.88,232.31 L366.77,232.78 L366.67,233.25 L366.57,233.72 L366.47,234.19 L366.38,234.65 L366.29,235.12 L366.21,235.59 L366.14,236.06 L366.07,236.53 L366.02,237.00 L365.97,237.47 L365.81,237.94 L365.83,238.41 L365.86,238.88 L365.89,239.35 L365.93,239.81 L365.98,240.28 L366.04,240.75 L366.09,241.22 L366.16,241.69 L366.23,242.16 L366.30,242.63 L366.38,243.10 L366.46,243.57 L366.54,244.04 L366.62,244.51 L366.71,244.97 L366.80,245.44 L366.89,245.91 L366.99,246.38 L367.08,246.85 L367.18,247.32 L367.27,247.79 L367.37,248.26 L367.47,248.73 L367.57,249.20 L367.67,249.67 L367.77,250.13 L367.86,250.60 L367.96,251.07 L368.06,251.54 L368.15,252.01 L368.25,252.48 L368.34,252.95 L368.44,253.42 L368.53,253.89 L368.62,254.36 L368.71,254.82 L368.80,255.29 L368.88,255.76 L368.96,256.23 L369.05,256.70 L369.13,257.17 L369.21,257.64 L369.28,258.11 L369.36,258.58 L369.43,259.05 L369.50,259.52 L369.57,259.98 L369.64,260.45 L369.70,260.92 L369.77,261.39 L369.83,261.86 L369.89,262.33 L369.94,262.80 L370.00,263.27 L370.05,263.74 L370.10,264.21 L370.15,264.68 L370.20,265.14 L370.25,265.61 L370.29,266.08 L370.33,266.55 L370.37,267.02 L370.41,267.49 L370.45,267.96 L370.49,268.43 L370.52,268.90 L370.55,269.37 L370.59,269.84 L370.62,270.30 L370.64,270.77 L370.67,271.24 L370.70,271.71 L370.72,272.18 L370.75,272.65 L370.77,273.12 L370.79,273.59 L370.81,274.06 L370.83,274.53 L370.85,275.00 L370.87,275.46 L370.88,275.93 L370.90,276.40 L370.92,276.87 L370.93,277.34 L370.94,277.81 L370.96,278.28 L370.97,278.75 L370.98,279.22 L370.99,279.69 L371.00,280.15 L371.01,280.62 L371.02,281.09 L371.03,281.56 L371.04,282.03 L371.05,282.50 L371.05,282.97 L371.06,283.44 L371.07,283.91 L371.07,284.38 L371.08,284.85 L371.08,285.31 L371.09,285.78 L371.09,286.25 L371.10,286.72 L371.10,287.19 L371.11,287.66 L371.11,288.13 L371.12,288.60 L371.12,289.07 L371.12,289.54 L371.13,290.01 L371.13,290.47 L371.13,290.94 L371.14,291.41 L371.14,291.88 L371.14,292.35 L371.14,292.82 L371.15,293.29 L371.15,293.76 L371.15,294.23 L371.15,294.70 L371.15,295.17 L371.16,295.63 L371.16,296.10 L371.16,296.57 L371.16,297.04 L371.16,297.51 L371.16,297.98 L371.17,298.45 L371.17,298.92 L371.17,299.39 L371.17,299.86 L371.17,300.32 L371.17,300.79 L371.17,301.26 L371.18,301.73 L371.18,302.20 L371.18,302.67 L371.18,303.14 L371.18,303.61 L371.18,304.08 L371.18,304.55 L371.18,305.02 L371.18,305.48 L371.19,305.95 L371.19,306.42 L371.19,306.89 L371.19,307.36 L371.19,307.83 L371.19,308.30 L371.19,308.77 L371.19,309.24 L371.19,309.71 L371.19,310.18 L371.19,310.64 L371.19,311.11 L371.20,311.58 L371.20,312.05 L371.20,312.52 L371.20,312.99 L371.20,313.46 L371.20,313.93 L371.20,314.40 L371.20,314.87 L371.20,315.34 L371.20,315.80 L371.20,316.27 L371.20,316.74 L371.20,317.21 L371.21,317.68 L371.21,318.15 L371.21,318.62 L371.21,319.09 L371.21,319.56 L371.21,320.03 L371.21,320.49 L371.21,320.96 L371.21,321.43 L371.21,321.90 L371.21,322.37 L371.21,322.84 L371.21,323.31 L371.21,323.78 L371.21,324.25 L371.21,324.72 L371.21,325.19 L371.22,325.65 L371.22,326.12 L371.22,326.59 L371.22,327.06 L371.22,327.53 L371.22,328.00Z" fill="#2a72b9"/>
<line x1="371.27" y1="243.68" x2="371.27" y2="231.93" stroke="#111" stroke-width="1.8"/>
<line x1="371.27" y1="248.38" x2="371.27" y2="227.23" stroke="#111" stroke-width="0.6"/>
<rect x="370.37" y="237.00" width="1.8" height="1.6" fill="#fff"/>
<path d="M384.69,312.12 L384.69,311.68 L384.69,311.24 L384.70,310.80 L384.70,310.36 L384.70,309.92 L384.70,309.49 L384.70,309.05 L384.70,308.61 L384.70,308.17 L384.70,307.73 L384.70,307.29 L384.71,306.85 L384.71,306.41 L384.71,305.97 L384.71,305.53 L384.71,305.09 L384.71,304.65 L384.71,304.22 L384.71,303.78 L384.71,303.34 L384.71,302.90 L384.71,302.46 L384.72,302.02 L384.72,301.58 L384.72,301.14 L384.72,300.70 L384.72,300.26 L384.72,299.82 L384.72,299.38 L384.72,298.95 L384.72,298.51 L384.72,298.07 L384.72,297.63 L384.73,297.19 L384.73,296.75 L384.73,296.31 L384.73,295.87 L384.73,295.43 L384.73,294.99 L384.73,294.55 L384.73,294.12 L384.73,293.68 L384.73,293.24 L384.74,292.80 L384.74,292.36 L384.74,291.92 L384.74,291.48 L384.74,291.04 L384.74,290.60 L384.74,290.16 L384.74,289.72 L384.74,289.28 L384.75,288.85 L384.75,288.41 L384.75,287.97 L384.75,287.53 L384.75,287.09 L384.75,286.65 L384.75,286.21 L384.76,285.77 L384.76,285.33 L384.76,284.89 L384.76,284.45 L384.76,284.01 L384.76,283.58 L384.77,283.14 L384.77,282.70 L384.77,282.26 L384.77,281.82 L384.77,281.38 L384.78,280.94 L384.78,280.50 L384.78,280.06 L384.78,279.62 L384.79,279.18 L384.79,278.75 L384.79,278.31 L384.80,277.87 L384.80,277.43 L384.80,276.99 L384.81,276.55 L384.81,276.11 L384.82,275.67 L384.82,275.23 L384.83,274.79 L384.83,274.35 L384.84,273.91 L384.84,273.48 L384.85,273.04 L384.85,272.60 L384.86,272.16 L384.87,271.72 L384.88,271.28 L384.88,270.84 L384.89,270.40 L384.90,269.96 L384.91,269.52 L384.92,269.08 L384.93,268.64 L384.94,268.21 L384.95,267.77 L384.96,267.33 L384.98,266.89 L384.99,266.45 L385.00,266.01 L385.02,265.57 L385.04,265.13 L385.05,264.69 L385.07,264.25 L385.09,263.81 L385.11,263.38 L385.13,262.94 L385.15,262.50 L385.17,262.06 L385.20,261.62 L385.22,261.18 L385.25,260.74 L385.28,260.30 L385.30,259.86 L385.33,259.42 L385.37,258.98 L385.40,258.54 L385.43,258.11 L385.47,257.67 L385.51,257.23 L385.55,256.79 L385.59,256.35 L385.63,255.91 L385.68,255.47 L385.72,255.03 L385.77,254.59 L385.82,254.15 L385.87,253.71 L385.93,253.27 L385.98,252.84 L386.04,252.40 L386.10,251.96 L386.16,251.52 L386.23,251.08 L386.29,250.64 L386.36,250.20 L386.43,249.76 L386.51,249.32 L386.58,248.88 L386.66,248.44 L386.73,248.01 L386.81,247.57 L386.90,247.13 L386.98,246.69 L387.07,246.25 L387.15,245.81 L387.24,245.37 L387.33,244.93 L387.43,244.49 L387.52,244.05 L387.61,243.61 L387.71,243.17 L387.81,242.74 L387.91,242.30 L388.00,241.86 L388.10,241.42 L388.20,240.98 L388.30,240.54 L388.40,240.10 L388.50,239.66 L388.60,239.22 L388.70,238.78 L388.80,238.34 L388.90,237.90 L389.00,237.47 L389.09,237.03 L389.18,236.59 L389.28,236.15 L389.36,235.71 L389.45,235.27 L389.53,234.83 L389.61,234.39 L389.69,233.95 L389.76,233.51 L389.83,233.07 L389.89,232.64 L389.95,232.20 L390.00,231.76 L390.05,231.32 L390.09,230.88 L390.12,230.44 L390.14,230.00 L390.00,229.56 L389.96,229.12 L389.91,228.68 L389.85,228.24 L389.79,227.80 L389.71,227.37 L389.63,226.93 L389.54,226.49 L389.45,226.05 L389.35,225.61 L389.25,225.17 L389.14,224.73 L389.03,224.29 L388.92,223.85 L388.81,223.41 L388.69,222.97 L388.58,222.53 L388.46,222.10 L388.34,221.66 L388.22,221.22 L388.10,220.78 L387.98,220.34 L387.86,219.90 L387.74,219.46 L387.63,219.02 L387.51,218.58 L387.40,218.14 L387.29,217.70 L387.17,217.27 L387.07,216.83 L386.96,216.39 L386.86,215.95 L386.76,215.51 L386.66,215.07 L386.56,214.63 L386.47,214.19 L386.38,213.75 L386.30,213.31 L386.21,212.87 L386.13,212.43 L386.05,212.00 L385.98,211.56 L385.91,211.12 L385.84,210.68 L385.77,210.24 L385.71,209.80 L385.65,209.36 L385.59,208.92 L385.54,208.48 L385.48,208.04 L385.43,207.60 L385.39,207.16 L385.34,206.73 L385.30,206.29 L385.26,205.85 L385.22,205.41 L385.18,204.97 L385.15,204.53 L385.12,204.09 L385.09,203.65 L385.06,203.21 L385.03,202.77 L385.01,202.33 L384.98,201.90 L384.96,201.46 L384.94,201.02 L384.92,200.58 L384.90,200.14 L384.89,199.70 L384.87,199.26 L384.86,198.82 L384.84,198.38 L384.83,197.94 L384.54,197.94 L384.53,198.38 L384.52,198.82 L384.50,199.26 L384.49,199.70 L384.47,200.14 L384.45,200.58 L384.43,201.02 L384.41,201.46 L384.39,201.90 L384.37,202.33 L384.34,202.77 L384.32,203.21 L384.29,203.65 L384.26,204.09 L384.22,204.53 L384.19,204.97 L384.15,205.41 L384.12,205.85 L384.08,206.29 L384.03,206.73 L383.99,207.16 L383.94,207.60 L383.89,208.04 L383.84,208.48 L383.78,208.92 L383.73,209.36 L383.67,209.80 L383.60,210.24 L383.54,210.68 L383.47,211.12 L383.40,211.56 L383.32,212.00 L383.24,212.43 L383.16,212.87 L383.08,213.31 L382.99,213.75 L382.90,214.19 L382.81,214.63 L382.71,215.07 L382.62,215.51 L382.52,215.95 L382.41,216.39 L382.31,216.83 L382.20,217.27 L382.09,217.70 L381.98,218.14 L381.86,218.58 L381.75,219.02 L381.63,219.46 L381.51,219.90 L381.40,220.34 L381.28,220.78 L381.16,221.22 L381.04,221.66 L380.92,222.10 L380.80,222.53 L380.68,222.97 L380.57,223.41 L380.45,223.85 L380.34,224.29 L380.23,224.73 L380.13,225.17 L380.02,225.61 L379.93,226.05 L379.83,226.49 L379.75,226.93 L379.66,227.37 L379.59,227.80 L379.52,228.24 L379.46,228.68 L379.41,229.12 L379.38,229.56 L379.24,230.00 L379.26,230.44 L379.29,230.88 L379.33,231.32 L379.37,231.76 L379.42,232.20 L379.48,232.64 L379.55,233.07 L379.61,233.51 L379.69,233.95 L379.76,234.39 L379.84,234.83 L379.92,235.27 L380.01,235.71 L380.10,236.15 L380.19,236.59 L380.28,237.03 L380.38,237.47 L380.47,237.90 L380.57,238.34 L380.67,238.78 L380.77,239.22 L380.87,239.66 L380.97,240.10 L381.07,240.54 L381.17,240.98 L381.27,241.42 L381.37,241.86 L381.47,242.30 L381.57,242.74 L381.66,243.17 L381.76,243.61 L381.86,244.05 L381.95,244.49 L382.04,244.93 L382.13,245.37 L382.22,245.81 L382.31,246.25 L382.39,246.69 L382.48,247.13 L382.56,247.57 L382.64,248.01 L382.72,248.44 L382.80,248.88 L382.87,249.32 L382.94,249.76 L383.01,250.20 L383.08,250.64 L383.15,251.08 L383.21,251.52 L383.27,251.96 L383.33,252.40 L383.39,252.84 L383.45,253.27 L383.50,253.71 L383.55,254.15 L383.60,254.59 L383.65,255.03 L383.70,255.47 L383.74,255.91 L383.79,256.35 L383.83,256.79 L383.87,257.23 L383.90,257.67 L383.94,258.11 L383.98,258.54 L384.01,258.98 L384.04,259.42 L384.07,259.86 L384.10,260.30 L384.13,260.74 L384.15,261.18 L384.18,261.62 L384.20,262.06 L384.22,262.50 L384.25,262.94 L384.27,263.38 L384.29,263.81 L384.31,264.25 L384.32,264.69 L384.34,265.13 L384.36,265.57 L384.37,266.01 L384.38,266.45 L384.40,266.89 L384.41,267.33 L384.42,267.77 L384.43,268.21 L384.45,268.64 L384.46,269.08 L384.47,269.52 L384.48,269.96 L384.48,270.40 L384.49,270.84 L384.50,271.28 L384.51,271.72 L384.51,272.16 L384.52,272.60 L384.53,273.04 L384.53,273.48 L384.54,273.91 L384.54,274.35 L384.55,274.79 L384.55,275.23 L384.56,275.67 L384.56,276.11 L384.57,276.55 L384.57,276.99 L384.57,277.43 L384.58,277.87 L384.58,278.31 L384.58,278.75 L384.59,279.18 L384.59,279.62 L384.59,280.06 L384.60,280.50 L384.60,280.94 L384.60,281.38 L384.60,281.82 L384.60,282.26 L384.61,282.70 L384.61,283.14 L384.61,283.58 L384.61,284.01 L384.61,284.45 L384.62,284.89 L384.62,285.33 L384.62,285.77 L384.62,286.21 L384.62,286.65 L384.62,287.09 L384.63,287.53 L384.63,287.97 L384.63,288.41 L384.63,288.85 L384.63,289.28 L384.63,289.72 L384.63,290.16 L384.63,290.60 L384.64,291.04 L384.64,291.48 L384.64,291.92 L384.64,292.36 L384.64,292.80 L384.64,293.24 L384.64,293.68 L384.64,294.12 L384.64,294.55 L384.65,294.99 L384.65,295.43 L384.65,295.87 L384.65,296.31 L384.65,296.75 L384.65,297.19 L384.65,297.63 L384.65,298.07 L384.65,298.51 L384.65,298.95 L384.65,299.38 L384.66,299.82 L384.66,300.26 L384.66,300.70 L384.66,301.14 L384.66,301.58 L384.66,302.02 L384.66,302.46 L384.66,302.90 L384.66,303.34 L384.66,303.78 L384.66,304.22 L384.66,304.65 L384.67,305.09 L384.67,305.53 L384.67,305.97 L384.67,306.41 L384.67,306.85 L384.67,307.29 L384.67,307.73 L384.67,308.17 L384.67,308.61 L384.67,309.05 L384.68,309.49 L384.68,309.92 L384.68,310.36 L384.68,310.80 L384.68,311.24 L384.68,311.68 L384.69,312.12Z" fill="#2a72b9"/>
<line x1="384.69" y1="235.20" x2="384.69" y2="224.20" stroke="#111" stroke-width="1.8"/>
<line x1="384.69" y1="239.60" x2="384.69" y2="219.80" stroke="#111" stroke-width="0.6"/>
<rect x="383.79" y="228.90" width="1.8" height="1.6" fill="#fff"/>
<path d="M398.10,280.36 L398.11,280.01 L398.12,279.66 L398.12,279.32 L398.12,278.97 L398.12,278.62 L398.13,278.27 L398.13,277.93 L398.13,277.58 L398.13,277.23 L398.13,276.88 L398.14,276.54 L398.14,276.19 L398.14,275.84 L398.14,275.49 L398.14,275.15 L398.15,274.80 L398.15,274.45 L398.15,274.10 L398.15,273.76 L398.15,273.41 L398.15,273.06 L398.16,272.71 L398.16,272.37 L398.16,272.02 L398.16,271.67 L398.17,271.32 L398.17,270.98 L398.17,270.63 L398.17,270.28 L398.17,269.93 L398.18,269.59 L398.18,269.24 L398.18,268.89 L398.19,268.54 L398.19,268.20 L398.19,267.85 L398.19,267.50 L398.20,267.15 L398.20,266.81 L398.20,266.46 L398.21,266.11 L398.21,265.76 L398.22,265.42 L398.22,265.07 L398.22,264.72 L398.23,264.37 L398.23,264.03 L398.24,263.68 L398.24,263.33 L398.25,262.98 L398.25,262.64 L398.26,262.29 L398.27,261.94 L398.27,261.59 L398.28,261.25 L398.29,260.90 L398.29,260.55 L398.30,260.20 L398.31,259.86 L398.32,259.51 L398.33,259.16 L398.33,258.81 L398.34,258.47 L398.35,258.12 L398.36,257.77 L398.38,257.42 L398.39,257.08 L398.40,256.73 L398.41,256.38 L398.42,256.03 L398.44,255.69 L398.45,255.34 L398.47,254.99 L398.48,254.64 L398.50,254.30 L398.51,253.95 L398.53,253.60 L398.55,253.25 L398.57,252.91 L398.59,252.56 L398.61,252.21 L398.63,251.86 L398.65,251.52 L398.67,251.17 L398.70,250.82 L398.72,250.47 L398.75,250.13 L398.77,249.78 L398.80,249.43 L398.83,249.08 L398.86,248.73 L398.89,248.39 L398.92,248.04 L398.95,247.69 L398.99,247.34 L399.02,247.00 L399.06,246.65 L399.10,246.30 L399.14,245.95 L399.18,245.61 L399.22,245.26 L399.26,244.91 L399.31,244.56 L399.35,244.22 L399.40,243.87 L399.45,243.52 L399.50,243.17 L399.55,242.83 L399.60,242.48 L399.65,242.13 L399.71,241.78 L399.76,241.44 L399.82,241.09 L399.88,240.74 L399.94,240.39 L400.00,240.05 L400.07,239.70 L400.13,239.35 L400.20,239.00 L400.27,238.66 L400.33,238.31 L400.40,237.96 L400.48,237.61 L400.55,237.27 L400.62,236.92 L400.70,236.57 L400.77,236.22 L400.85,235.88 L400.93,235.53 L401.00,235.18 L401.08,234.83 L401.16,234.49 L401.24,234.14 L401.32,233.79 L401.41,233.44 L401.49,233.10 L401.57,232.75 L401.65,232.40 L401.74,232.05 L401.82,231.71 L401.90,231.36 L401.99,231.01 L402.07,230.66 L402.15,230.32 L402.23,229.97 L402.31,229.62 L402.39,229.27 L402.47,228.93 L402.55,228.58 L402.62,228.23 L402.70,227.88 L402.77,227.54 L402.84,227.19 L402.91,226.84 L402.98,226.49 L403.05,226.15 L403.11,225.80 L403.17,225.45 L403.23,225.10 L403.28,224.76 L403.33,224.41 L403.38,224.06 L403.42,223.71 L403.46,223.37 L403.49,223.02 L403.52,222.67 L403.54,222.32 L403.56,221.98 L403.41,221.63 L403.39,221.28 L403.35,220.93 L403.30,220.59 L403.25,220.24 L403.19,219.89 L403.13,219.54 L403.06,219.20 L402.99,218.85 L402.92,218.50 L402.84,218.15 L402.75,217.81 L402.67,217.46 L402.58,217.11 L402.49,216.76 L402.40,216.41 L402.31,216.07 L402.21,215.72 L402.11,215.37 L402.01,215.02 L401.92,214.68 L401.82,214.33 L401.72,213.98 L401.62,213.63 L401.52,213.29 L401.42,212.94 L401.32,212.59 L401.22,212.24 L401.12,211.90 L401.03,211.55 L400.93,211.20 L400.83,210.85 L400.74,210.51 L400.65,210.16 L400.56,209.81 L400.47,209.46 L400.38,209.12 L400.29,208.77 L400.21,208.42 L400.13,208.07 L400.05,207.73 L399.97,207.38 L399.89,207.03 L399.82,206.68 L399.74,206.34 L399.67,205.99 L399.60,205.64 L399.54,205.29 L399.47,204.95 L399.41,204.60 L399.35,204.25 L399.29,203.90 L399.23,203.56 L399.18,203.21 L399.13,202.86 L399.08,202.51 L399.03,202.17 L398.98,201.82 L398.93,201.47 L398.89,201.12 L398.85,200.78 L398.81,200.43 L398.77,200.08 L398.74,199.73 L398.70,199.39 L398.67,199.04 L398.64,198.69 L398.61,198.34 L398.58,198.00 L398.55,197.65 L398.52,197.30 L398.50,196.95 L398.48,196.61 L398.45,196.26 L398.43,195.91 L398.41,195.56 L398.39,195.22 L398.37,194.87 L398.36,194.52 L398.34,194.17 L398.33,193.83 L398.31,193.48 L398.30,193.13 L398.29,192.78 L398.27,192.44 L398.26,192.09 L398.25,191.74 L398.24,191.39 L398.23,191.05 L398.22,190.70 L398.21,190.35 L398.21,190.00 L398.00,190.00 L397.99,190.35 L397.98,190.70 L397.97,191.05 L397.96,191.39 L397.95,191.74 L397.94,192.09 L397.93,192.44 L397.92,192.78 L397.91,193.13 L397.89,193.48 L397.88,193.83 L397.86,194.17 L397.85,194.52 L397.83,194.87 L397.81,195.22 L397.79,195.56 L397.77,195.91 L397.75,196.26 L397.73,196.61 L397.71,196.95 L397.68,197.30 L397.65,197.65 L397.63,198.00 L397.60,198.34 L397.57,198.69 L397.54,199.04 L397.50,199.39 L397.47,199.73 L397.43,200.08 L397.39,200.43 L397.35,200.78 L397.31,201.12 L397.27,201.47 L397.23,201.82 L397.18,202.17 L397.13,202.51 L397.08,202.86 L397.03,203.21 L396.97,203.56 L396.92,203.90 L396.86,204.25 L396.80,204.60 L396.73,204.95 L396.67,205.29 L396.60,205.64 L396.53,205.99 L396.46,206.34 L396.39,206.68 L396.31,207.03 L396.24,207.38 L396.16,207.73 L396.08,208.07 L396.00,208.42 L395.91,208.77 L395.83,209.12 L395.74,209.46 L395.65,209.81 L395.56,210.16 L395.46,210.51 L395.37,210.85 L395.28,211.20 L395.18,211.55 L395.08,211.90 L394.98,212.24 L394.89,212.59 L394.79,212.94 L394.69,213.29 L394.59,213.63 L394.49,213.98 L394.39,214.33 L394.29,214.68 L394.19,215.02 L394.09,215.37 L394.00,215.72 L393.90,216.07 L393.81,216.41 L393.71,216.76 L393.62,217.11 L393.54,217.46 L393.45,217.81 L393.37,218.15 L393.29,218.50 L393.21,218.85 L393.14,219.20 L393.08,219.54 L393.01,219.89 L392.96,220.24 L392.90,220.59 L392.86,220.93 L392.82,221.28 L392.79,221.63 L392.65,221.98 L392.66,222.32 L392.69,222.67 L392.71,223.02 L392.75,223.37 L392.79,223.71 L392.83,224.06 L392.88,224.41 L392.93,224.76 L392.98,225.10 L393.04,225.45 L393.10,225.80 L393.16,226.15 L393.22,226.49 L393.29,226.84 L393.36,227.19 L393.43,227.54 L393.51,227.88 L393.58,228.23 L393.66,228.58 L393.73,228.93 L393.81,229.27 L393.89,229.62 L393.97,229.97 L394.05,230.32 L394.14,230.66 L394.22,231.01 L394.30,231.36 L394.38,231.71 L394.47,232.05 L394.55,232.40 L394.63,232.75 L394.72,233.10 L394.80,233.44 L394.88,233.79 L394.96,234.14 L395.04,234.49 L395.12,234.83 L395.20,235.18 L395.28,235.53 L395.36,235.88 L395.43,236.22 L395.51,236.57 L395.58,236.92 L395.66,237.27 L395.73,237.61 L395.80,237.96 L395.87,238.31 L395.94,238.66 L396.01,239.00 L396.07,239.35 L396.14,239.70 L396.20,240.05 L396.26,240.39 L396.32,240.74 L396.38,241.09 L396.44,241.44 L396.50,241.78 L396.55,242.13 L396.61,242.48 L396.66,242.83 L396.71,243.17 L396.76,243.52 L396.81,243.87 L396.85,244.22 L396.90,244.56 L396.94,244.91 L396.99,245.26 L397.03,245.61 L397.07,245.95 L397.11,246.30 L397.14,246.65 L397.18,247.00 L397.22,247.34 L397.25,247.69 L397.28,248.04 L397.32,248.39 L397.35,248.73 L397.38,249.08 L397.40,249.43 L397.43,249.78 L397.46,250.13 L397.48,250.47 L397.51,250.82 L397.53,251.17 L397.56,251.52 L397.58,251.86 L397.60,252.21 L397.62,252.56 L397.64,252.91 L397.66,253.25 L397.67,253.60 L397.69,253.95 L397.71,254.30 L397.72,254.64 L397.74,254.99 L397.75,255.34 L397.77,255.69 L397.78,256.03 L397.79,256.38 L397.81,256.73 L397.82,257.08 L397.83,257.42 L397.84,257.77 L397.85,258.12 L397.86,258.47 L397.87,258.81 L397.88,259.16 L397.89,259.51 L397.90,259.86 L397.90,260.20 L397.91,260.55 L397.92,260.90 L397.93,261.25 L397.93,261.59 L397.94,261.94 L397.94,262.29 L397.95,262.64 L397.96,262.98 L397.96,263.33 L397.97,263.68 L397.97,264.03 L397.98,264.37 L397.98,264.72 L397.98,265.07 L397.99,265.42 L397.99,265.76 L398.00,266.11 L398.00,266.46 L398.00,266.81 L398.01,267.15 L398.01,267.50 L398.01,267.85 L398.02,268.20 L398.02,268.54 L398.02,268.89 L398.03,269.24 L398.03,269.59 L398.03,269.93 L398.03,270.28 L398.04,270.63 L398.04,270.98 L398.04,271.32 L398.04,271.67 L398.04,272.02 L398.05,272.37 L398.05,272.71 L398.05,273.06 L398.05,273.41 L398.05,273.76 L398.06,274.10 L398.06,274.45 L398.06,274.80 L398.06,275.15 L398.06,275.49 L398.07,275.84 L398.07,276.19 L398.07,276.54 L398.07,276.88 L398.07,277.23 L398.07,277.58 L398.08,277.93 L398.08,278.27 L398.08,278.62 L398.08,278.97 L398.09,279.32 L398.09,279.66 L398.09,280.01 L398.10,280.36Z" fill="#2a72b9"/>
<line x1="398.10" y1="227.01" x2="398.10" y2="216.51" stroke="#111" stroke-width="1.8"/>
<line x1="398.10" y1="231.21" x2="398.10" y2="212.31" stroke="#111" stroke-width="0.6"/>
<rect x="397.20" y="220.96" width="1.8" height="1.6" fill="#fff"/>
<path d="M411.52,258.13 L411.53,257.83 L411.54,257.54 L411.54,257.24 L411.54,256.95 L411.55,256.66 L411.55,256.36 L411.55,256.07 L411.56,255.77 L411.56,255.48 L411.56,255.18 L411.56,254.89 L411.57,254.60 L411.57,254.30 L411.57,254.01 L411.57,253.71 L411.58,253.42 L411.58,253.12 L411.58,252.83 L411.58,252.53 L411.59,252.24 L411.59,251.95 L411.59,251.65 L411.60,251.36 L411.60,251.06 L411.60,250.77 L411.61,250.47 L411.61,250.18 L411.61,249.89 L411.62,249.59 L411.62,249.30 L411.62,249.00 L411.63,248.71 L411.63,248.41 L411.63,248.12 L411.64,247.82 L411.64,247.53 L411.65,247.24 L411.65,246.94 L411.66,246.65 L411.66,246.35 L411.67,246.06 L411.67,245.76 L411.68,245.47 L411.69,245.17 L411.69,244.88 L411.70,244.59 L411.71,244.29 L411.72,244.00 L411.72,243.70 L411.73,243.41 L411.74,243.11 L411.75,242.82 L411.76,242.53 L411.77,242.23 L411.78,241.94 L411.79,241.64 L411.80,241.35 L411.82,241.05 L411.83,240.76 L411.84,240.46 L411.86,240.17 L411.87,239.88 L411.88,239.58 L411.90,239.29 L411.92,238.99 L411.94,238.70 L411.95,238.40 L411.97,238.11 L411.99,237.82 L412.01,237.52 L412.04,237.23 L412.06,236.93 L412.08,236.64 L412.11,236.34 L412.13,236.05 L412.16,235.75 L412.19,235.46 L412.22,235.17 L412.25,234.87 L412.28,234.58 L412.31,234.28 L412.35,233.99 L412.38,233.69 L412.42,233.40 L412.46,233.10 L412.49,232.81 L412.54,232.52 L412.58,232.22 L412.62,231.93 L412.67,231.63 L412.71,231.34 L412.76,231.04 L412.81,230.75 L412.86,230.46 L412.92,230.16 L412.97,229.87 L413.03,229.57 L413.09,229.28 L413.15,228.98 L413.21,228.69 L413.27,228.39 L413.33,228.10 L413.40,227.81 L413.47,227.51 L413.54,227.22 L413.61,226.92 L413.68,226.63 L413.76,226.33 L413.83,226.04 L413.91,225.75 L413.99,225.45 L414.06,225.16 L414.15,224.86 L414.23,224.57 L414.31,224.27 L414.39,223.98 L414.48,223.68 L414.57,223.39 L414.65,223.10 L414.74,222.80 L414.83,222.51 L414.92,222.21 L415.01,221.92 L415.10,221.62 L415.19,221.33 L415.28,221.03 L415.36,220.74 L415.45,220.45 L415.54,220.15 L415.63,219.86 L415.72,219.56 L415.80,219.27 L415.89,218.97 L415.97,218.68 L416.05,218.39 L416.14,218.09 L416.21,217.80 L416.29,217.50 L416.36,217.21 L416.44,216.91 L416.50,216.62 L416.57,216.32 L416.63,216.03 L416.69,215.74 L416.74,215.44 L416.79,215.15 L416.84,214.85 L416.88,214.56 L416.91,214.26 L416.94,213.97 L416.96,213.67 L416.98,213.38 L416.82,213.09 L416.79,212.79 L416.75,212.50 L416.71,212.20 L416.66,211.91 L416.60,211.61 L416.54,211.32 L416.48,211.03 L416.41,210.73 L416.34,210.44 L416.27,210.14 L416.19,209.85 L416.11,209.55 L416.03,209.26 L415.94,208.96 L415.86,208.67 L415.77,208.38 L415.68,208.08 L415.59,207.79 L415.49,207.49 L415.40,207.20 L415.31,206.90 L415.21,206.61 L415.12,206.32 L415.02,206.02 L414.93,205.73 L414.83,205.43 L414.74,205.14 L414.65,204.84 L414.55,204.55 L414.46,204.25 L414.37,203.96 L414.28,203.67 L414.19,203.37 L414.10,203.08 L414.02,202.78 L413.93,202.49 L413.85,202.19 L413.76,201.90 L413.68,201.60 L413.60,201.31 L413.52,201.02 L413.45,200.72 L413.37,200.43 L413.30,200.13 L413.23,199.84 L413.16,199.54 L413.09,199.25 L413.03,198.96 L412.96,198.66 L412.90,198.37 L412.84,198.07 L412.78,197.78 L412.73,197.48 L412.67,197.19 L412.62,196.89 L412.57,196.60 L412.52,196.31 L412.47,196.01 L412.43,195.72 L412.38,195.42 L412.34,195.13 L412.30,194.83 L412.26,194.54 L412.23,194.25 L412.19,193.95 L412.15,193.66 L412.12,193.36 L412.09,193.07 L412.06,192.77 L412.03,192.48 L412.00,192.18 L411.98,191.89 L411.95,191.60 L411.93,191.30 L411.90,191.01 L411.88,190.71 L411.86,190.42 L411.84,190.12 L411.82,189.83 L411.81,189.53 L411.79,189.24 L411.77,188.95 L411.76,188.65 L411.74,188.36 L411.73,188.06 L411.72,187.77 L411.70,187.47 L411.69,187.18 L411.68,186.89 L411.67,186.59 L411.66,186.30 L411.65,186.00 L411.64,185.71 L411.63,185.41 L411.63,185.12 L411.62,184.82 L411.61,184.53 L411.61,184.24 L411.60,183.94 L411.59,183.65 L411.59,183.35 L411.58,183.06 L411.58,182.76 L411.58,182.47 L411.57,182.18 L411.57,181.88 L411.56,181.59 L411.47,181.59 L411.47,181.88 L411.46,182.18 L411.46,182.47 L411.46,182.76 L411.45,183.06 L411.45,183.35 L411.44,183.65 L411.43,183.94 L411.43,184.24 L411.42,184.53 L411.42,184.82 L411.41,185.12 L411.40,185.41 L411.39,185.71 L411.38,186.00 L411.37,186.30 L411.36,186.59 L411.35,186.89 L411.34,187.18 L411.33,187.47 L411.32,187.77 L411.31,188.06 L411.29,188.36 L411.28,188.65 L411.26,188.95 L411.25,189.24 L411.23,189.53 L411.21,189.83 L411.19,190.12 L411.17,190.42 L411.15,190.71 L411.13,191.01 L411.11,191.30 L411.08,191.60 L411.06,191.89 L411.03,192.18 L411.00,192.48 L410.98,192.77 L410.94,193.07 L410.91,193.36 L410.88,193.66 L410.85,193.95 L410.81,194.25 L410.77,194.54 L410.73,194.83 L410.69,195.13 L410.65,195.42 L410.61,195.72 L410.56,196.01 L410.51,196.31 L410.46,196.60 L410.41,196.89 L410.36,197.19 L410.31,197.48 L410.25,197.78 L410.19,198.07 L410.13,198.37 L410.07,198.66 L410.01,198.96 L409.94,199.25 L409.87,199.54 L409.81,199.84 L409.73,200.13 L409.66,200.43 L409.59,200.72 L409.51,201.02 L409.43,201.31 L409.35,201.60 L409.27,201.90 L409.19,202.19 L409.11,202.49 L409.02,202.78 L408.93,203.08 L408.84,203.37 L408.76,203.67 L408.66,203.96 L408.57,204.25 L408.48,204.55 L408.39,204.84 L408.29,205.14 L408.20,205.43 L408.11,205.73 L408.01,206.02 L407.92,206.32 L407.82,206.61 L407.73,206.90 L407.63,207.20 L407.54,207.49 L407.45,207.79 L407.36,208.08 L407.27,208.38 L407.18,208.67 L407.09,208.96 L407.01,209.26 L406.93,209.55 L406.85,209.85 L406.77,210.14 L406.69,210.44 L406.62,210.73 L406.56,211.03 L406.49,211.32 L406.43,211.61 L406.38,211.91 L406.33,212.20 L406.28,212.50 L406.25,212.79 L406.22,213.09 L406.06,213.38 L406.07,213.67 L406.09,213.97 L406.12,214.26 L406.15,214.56 L406.20,214.85 L406.24,215.15 L406.29,215.44 L406.35,215.74 L406.40,216.03 L406.47,216.32 L406.53,216.62 L406.60,216.91 L406.67,217.21 L406.74,217.50 L406.82,217.80 L406.90,218.09 L406.98,218.39 L407.06,218.68 L407.15,218.97 L407.23,219.27 L407.32,219.56 L407.40,219.86 L407.49,220.15 L407.58,220.45 L407.67,220.74 L407.76,221.03 L407.85,221.33 L407.94,221.62 L408.03,221.92 L408.12,222.21 L408.21,222.51 L408.29,222.80 L408.38,223.10 L408.47,223.39 L408.55,223.68 L408.64,223.98 L408.72,224.27 L408.81,224.57 L408.89,224.86 L408.97,225.16 L409.05,225.45 L409.13,225.75 L409.20,226.04 L409.28,226.33 L409.35,226.63 L409.43,226.92 L409.50,227.22 L409.57,227.51 L409.63,227.81 L409.70,228.10 L409.76,228.39 L409.83,228.69 L409.89,228.98 L409.95,229.28 L410.01,229.57 L410.06,229.87 L410.12,230.16 L410.17,230.46 L410.22,230.75 L410.27,231.04 L410.32,231.34 L410.37,231.63 L410.41,231.93 L410.46,232.22 L410.50,232.52 L410.54,232.81 L410.58,233.10 L410.62,233.40 L410.65,233.69 L410.69,233.99 L410.72,234.28 L410.76,234.58 L410.79,234.87 L410.82,235.17 L410.85,235.46 L410.88,235.75 L410.90,236.05 L410.93,236.34 L410.95,236.64 L410.98,236.93 L411.00,237.23 L411.02,237.52 L411.04,237.82 L411.06,238.11 L411.08,238.40 L411.10,238.70 L411.12,238.99 L411.13,239.29 L411.15,239.58 L411.17,239.88 L411.18,240.17 L411.19,240.46 L411.21,240.76 L411.22,241.05 L411.23,241.35 L411.24,241.64 L411.25,241.94 L411.27,242.23 L411.28,242.53 L411.28,242.82 L411.29,243.11 L411.30,243.41 L411.31,243.70 L411.32,244.00 L411.33,244.29 L411.33,244.59 L411.34,244.88 L411.35,245.17 L411.35,245.47 L411.36,245.76 L411.37,246.06 L411.37,246.35 L411.38,246.65 L411.38,246.94 L411.39,247.24 L411.39,247.53 L411.40,247.82 L411.40,248.12 L411.40,248.41 L411.41,248.71 L411.41,249.00 L411.42,249.30 L411.42,249.59 L411.42,249.89 L411.43,250.18 L411.43,250.47 L411.43,250.77 L411.44,251.06 L411.44,251.36 L411.44,251.65 L411.44,251.95 L411.45,252.24 L411.45,252.53 L411.45,252.83 L411.46,253.12 L411.46,253.42 L411.46,253.71 L411.46,254.01 L411.47,254.30 L411.47,254.60 L411.47,254.89 L411.47,255.18 L411.48,255.48 L411.48,255.77 L411.48,256.07 L411.48,256.36 L411.49,256.66 L411.49,256.95 L411.49,257.24 L411.50,257.54 L411.50,257.83 L411.52,258.13Z" fill="#2a72b9"/>
<line x1="411.52" y1="217.72" x2="411.52" y2="208.97" stroke="#111" stroke-width="1.8"/>
<line x1="411.52" y1="221.22" x2="411.52" y2="205.47" stroke="#111" stroke-width="0.6"/>
<rect x="410.62" y="212.55" width="1.8" height="1.6" fill="#fff"/>
<path d="M424.96,239.07 L424.98,238.82 L424.99,238.57 L425.00,238.32 L425.00,238.07 L425.01,237.82 L425.02,237.57 L425.02,237.31 L425.03,237.06 L425.03,236.81 L425.04,236.56 L425.05,236.31 L425.05,236.06 L425.06,235.81 L425.07,235.56 L425.07,235.31 L425.08,235.06 L425.09,234.80 L425.10,234.55 L425.10,234.30 L425.11,234.05 L425.12,233.80 L425.13,233.55 L425.14,233.30 L425.15,233.05 L425.16,232.80 L425.17,232.55 L425.18,232.29 L425.19,232.04 L425.20,231.79 L425.21,231.54 L425.22,231.29 L425.24,231.04 L425.25,230.79 L425.26,230.54 L425.28,230.29 L425.29,230.04 L425.31,229.78 L425.33,229.53 L425.34,229.28 L425.36,229.03 L425.38,228.78 L425.40,228.53 L425.42,228.28 L425.44,228.03 L425.46,227.78 L425.48,227.52 L425.50,227.27 L425.53,227.02 L425.55,226.77 L425.58,226.52 L425.60,226.27 L425.63,226.02 L425.66,225.77 L425.69,225.52 L425.72,225.27 L425.75,225.01 L425.78,224.76 L425.82,224.51 L425.85,224.26 L425.89,224.01 L425.92,223.76 L425.96,223.51 L426.00,223.26 L426.04,223.01 L426.08,222.76 L426.12,222.50 L426.17,222.25 L426.21,222.00 L426.26,221.75 L426.31,221.50 L426.36,221.25 L426.41,221.00 L426.46,220.75 L426.51,220.50 L426.57,220.25 L426.62,219.99 L426.68,219.74 L426.74,219.49 L426.80,219.24 L426.86,218.99 L426.92,218.74 L426.99,218.49 L427.05,218.24 L427.12,217.99 L427.19,217.73 L427.26,217.48 L427.33,217.23 L427.40,216.98 L427.47,216.73 L427.54,216.48 L427.62,216.23 L427.69,215.98 L427.77,215.73 L427.84,215.48 L427.92,215.22 L428.00,214.97 L428.08,214.72 L428.16,214.47 L428.24,214.22 L428.32,213.97 L428.40,213.72 L428.48,213.47 L428.56,213.22 L428.64,212.97 L428.72,212.71 L428.80,212.46 L428.88,212.21 L428.96,211.96 L429.04,211.71 L429.12,211.46 L429.20,211.21 L429.28,210.96 L429.35,210.71 L429.43,210.46 L429.50,210.20 L429.57,209.95 L429.64,209.70 L429.71,209.45 L429.78,209.20 L429.84,208.95 L429.91,208.70 L429.97,208.45 L430.02,208.20 L430.08,207.94 L430.13,207.69 L430.18,207.44 L430.22,207.19 L430.26,206.94 L430.30,206.69 L430.33,206.44 L430.35,206.19 L430.38,205.94 L430.39,205.69 L430.24,205.43 L430.22,205.18 L430.19,204.93 L430.16,204.68 L430.12,204.43 L430.08,204.18 L430.04,203.93 L429.99,203.68 L429.93,203.43 L429.88,203.18 L429.82,202.92 L429.76,202.67 L429.70,202.42 L429.63,202.17 L429.56,201.92 L429.50,201.67 L429.42,201.42 L429.35,201.17 L429.28,200.92 L429.20,200.66 L429.13,200.41 L429.05,200.16 L428.97,199.91 L428.89,199.66 L428.81,199.41 L428.73,199.16 L428.65,198.91 L428.57,198.66 L428.49,198.41 L428.41,198.15 L428.33,197.90 L428.25,197.65 L428.17,197.40 L428.09,197.15 L428.01,196.90 L427.93,196.65 L427.85,196.40 L427.78,196.15 L427.70,195.90 L427.62,195.64 L427.55,195.39 L427.47,195.14 L427.40,194.89 L427.33,194.64 L427.25,194.39 L427.18,194.14 L427.11,193.89 L427.05,193.64 L426.98,193.39 L426.91,193.13 L426.85,192.88 L426.79,192.63 L426.72,192.38 L426.66,192.13 L426.60,191.88 L426.54,191.63 L426.49,191.38 L426.43,191.13 L426.38,190.87 L426.33,190.62 L426.27,190.37 L426.22,190.12 L426.18,189.87 L426.13,189.62 L426.08,189.37 L426.04,189.12 L425.99,188.87 L425.95,188.62 L425.91,188.36 L425.87,188.11 L425.83,187.86 L425.80,187.61 L425.76,187.36 L425.72,187.11 L425.69,186.86 L425.66,186.61 L425.63,186.36 L425.60,186.11 L425.57,185.85 L425.54,185.60 L425.51,185.35 L425.49,185.10 L425.46,184.85 L425.44,184.60 L425.41,184.35 L425.39,184.10 L425.37,183.85 L425.35,183.60 L425.33,183.34 L425.31,183.09 L425.29,182.84 L425.27,182.59 L425.26,182.34 L425.24,182.09 L425.23,181.84 L425.21,181.59 L425.20,181.34 L425.18,181.08 L425.17,180.83 L425.16,180.58 L425.15,180.33 L425.13,180.08 L425.12,179.83 L425.11,179.58 L425.10,179.33 L425.09,179.08 L425.09,178.83 L425.08,178.57 L425.07,178.32 L425.06,178.07 L425.05,177.82 L425.05,177.57 L425.04,177.32 L425.04,177.07 L425.03,176.82 L425.02,176.57 L425.02,176.32 L425.01,176.06 L425.01,175.81 L425.00,175.56 L425.00,175.31 L425.00,175.06 L424.99,174.81 L424.99,174.56 L424.99,174.31 L424.98,174.06 L424.98,173.81 L424.89,173.81 L424.88,174.06 L424.88,174.31 L424.88,174.56 L424.87,174.81 L424.87,175.06 L424.86,175.31 L424.86,175.56 L424.86,175.81 L424.85,176.06 L424.85,176.32 L424.84,176.57 L424.84,176.82 L424.83,177.07 L424.82,177.32 L424.82,177.57 L424.81,177.82 L424.80,178.07 L424.80,178.32 L424.79,178.57 L424.78,178.83 L424.77,179.08 L424.76,179.33 L424.75,179.58 L424.74,179.83 L424.73,180.08 L424.72,180.33 L424.71,180.58 L424.70,180.83 L424.68,181.08 L424.67,181.34 L424.65,181.59 L424.64,181.84 L424.62,182.09 L424.61,182.34 L424.59,182.59 L424.57,182.84 L424.56,183.09 L424.54,183.34 L424.52,183.60 L424.50,183.85 L424.47,184.10 L424.45,184.35 L424.43,184.60 L424.40,184.85 L424.38,185.10 L424.35,185.35 L424.33,185.60 L424.30,185.85 L424.27,186.11 L424.24,186.36 L424.21,186.61 L424.17,186.86 L424.14,187.11 L424.11,187.36 L424.07,187.61 L424.03,187.86 L423.99,188.11 L423.95,188.36 L423.91,188.62 L423.87,188.87 L423.83,189.12 L423.78,189.37 L423.74,189.62 L423.69,189.87 L423.64,190.12 L423.59,190.37 L423.54,190.62 L423.49,190.87 L423.43,191.13 L423.38,191.38 L423.32,191.63 L423.26,191.88 L423.20,192.13 L423.14,192.38 L423.08,192.63 L423.02,192.88 L422.95,193.13 L422.89,193.39 L422.82,193.64 L422.75,193.89 L422.68,194.14 L422.61,194.39 L422.54,194.64 L422.47,194.89 L422.39,195.14 L422.32,195.39 L422.24,195.64 L422.17,195.90 L422.09,196.15 L422.01,196.40 L421.93,196.65 L421.85,196.90 L421.78,197.15 L421.70,197.40 L421.61,197.65 L421.53,197.90 L421.45,198.15 L421.37,198.41 L421.29,198.66 L421.21,198.91 L421.13,199.16 L421.05,199.41 L420.97,199.66 L420.89,199.91 L420.82,200.16 L420.74,200.41 L420.66,200.66 L420.59,200.92 L420.51,201.17 L420.44,201.42 L420.37,201.67 L420.30,201.92 L420.23,202.17 L420.17,202.42 L420.10,202.67 L420.04,202.92 L419.99,203.18 L419.93,203.43 L419.88,203.68 L419.83,203.93 L419.78,204.18 L419.74,204.43 L419.70,204.68 L419.67,204.93 L419.64,205.18 L419.62,205.43 L419.48,205.69 L419.49,205.94 L419.51,206.19 L419.54,206.44 L419.57,206.69 L419.60,206.94 L419.64,207.19 L419.69,207.44 L419.74,207.69 L419.79,207.94 L419.84,208.20 L419.90,208.45 L419.96,208.70 L420.02,208.95 L420.09,209.20 L420.15,209.45 L420.22,209.70 L420.29,209.95 L420.36,210.20 L420.44,210.46 L420.51,210.71 L420.59,210.96 L420.67,211.21 L420.74,211.46 L420.82,211.71 L420.90,211.96 L420.98,212.21 L421.06,212.46 L421.14,212.71 L421.22,212.97 L421.31,213.22 L421.39,213.47 L421.47,213.72 L421.55,213.97 L421.63,214.22 L421.71,214.47 L421.79,214.72 L421.87,214.97 L421.94,215.22 L422.02,215.48 L422.10,215.73 L422.17,215.98 L422.25,216.23 L422.32,216.48 L422.40,216.73 L422.47,216.98 L422.54,217.23 L422.61,217.48 L422.68,217.73 L422.75,217.99 L422.81,218.24 L422.88,218.49 L422.94,218.74 L423.00,218.99 L423.06,219.24 L423.12,219.49 L423.18,219.74 L423.24,219.99 L423.30,220.25 L423.35,220.50 L423.40,220.75 L423.46,221.00 L423.51,221.25 L423.56,221.50 L423.60,221.75 L423.65,222.00 L423.70,222.25 L423.74,222.50 L423.78,222.76 L423.82,223.01 L423.87,223.26 L423.90,223.51 L423.94,223.76 L423.98,224.01 L424.02,224.26 L424.05,224.51 L424.08,224.76 L424.12,225.01 L424.15,225.27 L424.18,225.52 L424.21,225.77 L424.23,226.02 L424.26,226.27 L424.29,226.52 L424.31,226.77 L424.34,227.02 L424.36,227.27 L424.38,227.52 L424.41,227.78 L424.43,228.03 L424.45,228.28 L424.47,228.53 L424.49,228.78 L424.51,229.03 L424.52,229.28 L424.54,229.53 L424.56,229.78 L424.57,230.04 L424.59,230.29 L424.60,230.54 L424.61,230.79 L424.63,231.04 L424.64,231.29 L424.65,231.54 L424.66,231.79 L424.68,232.04 L424.69,232.29 L424.70,232.55 L424.71,232.80 L424.72,233.05 L424.73,233.30 L424.74,233.55 L424.74,233.80 L424.75,234.05 L424.76,234.30 L424.77,234.55 L424.78,234.80 L424.78,235.06 L424.79,235.31 L424.80,235.56 L424.81,235.81 L424.81,236.06 L424.82,236.31 L424.83,236.56 L424.83,236.81 L424.84,237.06 L424.84,237.31 L424.85,237.57 L424.86,237.82 L424.86,238.07 L424.87,238.32 L424.88,238.57 L424.89,238.82 L424.90,239.07Z" fill="#2a72b9"/>
<line x1="424.93" y1="209.82" x2="424.93" y2="201.32" stroke="#111" stroke-width="1.8"/>
<line x1="424.93" y1="213.22" x2="424.93" y2="197.92" stroke="#111" stroke-width="0.6"/>
<rect x="424.03" y="204.77" width="1.8" height="1.6" fill="#fff"/>
<path d="M438.35,242.25 L438.36,241.97 L438.37,241.69 L438.37,241.41 L438.37,241.12 L438.38,240.84 L438.38,240.56 L438.38,240.28 L438.38,240.00 L438.39,239.72 L438.39,239.44 L438.39,239.16 L438.39,238.88 L438.40,238.60 L438.40,238.31 L438.40,238.03 L438.40,237.75 L438.41,237.47 L438.41,237.19 L438.41,236.91 L438.41,236.63 L438.41,236.35 L438.42,236.07 L438.42,235.79 L438.42,235.51 L438.42,235.22 L438.43,234.94 L438.43,234.66 L438.43,234.38 L438.43,234.10 L438.44,233.82 L438.44,233.54 L438.44,233.26 L438.44,232.98 L438.45,232.70 L438.45,232.41 L438.45,232.13 L438.46,231.85 L438.46,231.57 L438.46,231.29 L438.47,231.01 L438.47,230.73 L438.47,230.45 L438.48,230.17 L438.48,229.89 L438.48,229.61 L438.49,229.32 L438.49,229.04 L438.50,228.76 L438.50,228.48 L438.51,228.20 L438.51,227.92 L438.52,227.64 L438.53,227.36 L438.53,227.08 L438.54,226.80 L438.55,226.51 L438.56,226.23 L438.56,225.95 L438.57,225.67 L438.58,225.39 L438.59,225.11 L438.60,224.83 L438.61,224.55 L438.62,224.27 L438.64,223.99 L438.65,223.71 L438.66,223.42 L438.68,223.14 L438.69,222.86 L438.71,222.58 L438.72,222.30 L438.74,222.02 L438.76,221.74 L438.78,221.46 L438.80,221.18 L438.82,220.90 L438.84,220.61 L438.86,220.33 L438.89,220.05 L438.92,219.77 L438.94,219.49 L438.97,219.21 L439.00,218.93 L439.03,218.65 L439.07,218.37 L439.10,218.09 L439.14,217.81 L439.17,217.52 L439.21,217.24 L439.26,216.96 L439.30,216.68 L439.34,216.40 L439.39,216.12 L439.44,215.84 L439.49,215.56 L439.54,215.28 L439.60,215.00 L439.65,214.71 L439.71,214.43 L439.77,214.15 L439.84,213.87 L439.90,213.59 L439.97,213.31 L440.04,213.03 L440.11,212.75 L440.18,212.47 L440.26,212.19 L440.33,211.90 L440.41,211.62 L440.50,211.34 L440.58,211.06 L440.66,210.78 L440.75,210.50 L440.84,210.22 L440.93,209.94 L441.03,209.66 L441.12,209.38 L441.22,209.10 L441.31,208.81 L441.41,208.53 L441.51,208.25 L441.61,207.97 L441.71,207.69 L441.81,207.41 L441.91,207.13 L442.02,206.85 L442.12,206.57 L442.22,206.29 L442.32,206.00 L442.42,205.72 L442.52,205.44 L442.62,205.16 L442.72,204.88 L442.81,204.60 L442.91,204.32 L443.00,204.04 L443.09,203.76 L443.17,203.48 L443.26,203.20 L443.33,202.91 L443.41,202.63 L443.48,202.35 L443.54,202.07 L443.60,201.79 L443.66,201.51 L443.70,201.23 L443.74,200.95 L443.78,200.67 L443.80,200.39 L443.66,200.10 L443.64,199.82 L443.60,199.54 L443.56,199.26 L443.51,198.98 L443.45,198.70 L443.39,198.42 L443.32,198.14 L443.25,197.86 L443.17,197.58 L443.09,197.30 L443.01,197.01 L442.92,196.73 L442.83,196.45 L442.74,196.17 L442.64,195.89 L442.55,195.61 L442.45,195.33 L442.35,195.05 L442.25,194.77 L442.15,194.49 L442.05,194.20 L441.94,193.92 L441.84,193.64 L441.74,193.36 L441.64,193.08 L441.53,192.80 L441.43,192.52 L441.33,192.24 L441.23,191.96 L441.14,191.68 L441.04,191.40 L440.94,191.11 L440.85,190.83 L440.76,190.55 L440.66,190.27 L440.58,189.99 L440.49,189.71 L440.40,189.43 L440.32,189.15 L440.24,188.87 L440.16,188.59 L440.08,188.30 L440.01,188.02 L439.93,187.74 L439.86,187.46 L439.79,187.18 L439.73,186.90 L439.66,186.62 L439.60,186.34 L439.54,186.06 L439.48,185.78 L439.42,185.50 L439.37,185.21 L439.32,184.93 L439.27,184.65 L439.22,184.37 L439.18,184.09 L439.13,183.81 L439.09,183.53 L439.05,183.25 L439.01,182.97 L438.97,182.69 L438.94,182.40 L438.90,182.12 L438.87,181.84 L438.84,181.56 L438.81,181.28 L438.79,181.00 L438.76,180.72 L438.73,180.44 L438.71,180.16 L438.69,179.88 L438.67,179.60 L438.65,179.31 L438.63,179.03 L438.61,178.75 L438.59,178.47 L438.58,178.19 L438.56,177.91 L438.55,177.63 L438.53,177.35 L438.52,177.07 L438.51,176.79 L438.50,176.50 L438.49,176.22 L438.48,175.94 L438.47,175.66 L438.46,175.38 L438.45,175.10 L438.45,174.82 L438.44,174.54 L438.43,174.26 L438.43,173.98 L438.42,173.70 L438.41,173.41 L438.41,173.13 L438.40,172.85 L438.40,172.57 L438.40,172.29 L438.39,172.01 L438.39,171.73 L438.39,171.45 L438.38,171.17 L438.38,170.89 L438.38,170.60 L438.38,170.32 L438.37,170.04 L438.37,169.76 L438.37,169.48 L438.37,169.20 L438.33,169.20 L438.33,169.48 L438.32,169.76 L438.32,170.04 L438.32,170.32 L438.32,170.60 L438.31,170.89 L438.31,171.17 L438.31,171.45 L438.31,171.73 L438.30,172.01 L438.30,172.29 L438.29,172.57 L438.29,172.85 L438.29,173.13 L438.28,173.41 L438.28,173.70 L438.27,173.98 L438.26,174.26 L438.26,174.54 L438.25,174.82 L438.24,175.10 L438.23,175.38 L438.23,175.66 L438.22,175.94 L438.21,176.22 L438.20,176.50 L438.18,176.79 L438.17,177.07 L438.16,177.35 L438.15,177.63 L438.13,177.91 L438.12,178.19 L438.10,178.47 L438.08,178.75 L438.07,179.03 L438.05,179.31 L438.03,179.60 L438.01,179.88 L437.98,180.16 L437.96,180.44 L437.94,180.72 L437.91,181.00 L437.88,181.28 L437.85,181.56 L437.82,181.84 L437.79,182.12 L437.76,182.40 L437.72,182.69 L437.68,182.97 L437.65,183.25 L437.61,183.53 L437.56,183.81 L437.52,184.09 L437.47,184.37 L437.43,184.65 L437.38,184.93 L437.32,185.21 L437.27,185.50 L437.21,185.78 L437.16,186.06 L437.10,186.34 L437.03,186.62 L436.97,186.90 L436.90,187.18 L436.83,187.46 L436.76,187.74 L436.69,188.02 L436.61,188.30 L436.54,188.59 L436.46,188.87 L436.38,189.15 L436.29,189.43 L436.21,189.71 L436.12,189.99 L436.03,190.27 L435.94,190.55 L435.85,190.83 L435.75,191.11 L435.66,191.40 L435.56,191.68 L435.46,191.96 L435.36,192.24 L435.26,192.52 L435.16,192.80 L435.06,193.08 L434.96,193.36 L434.85,193.64 L434.75,193.92 L434.65,194.20 L434.55,194.49 L434.45,194.77 L434.34,195.05 L434.24,195.33 L434.15,195.61 L434.05,195.89 L433.96,196.17 L433.86,196.45 L433.77,196.73 L433.69,197.01 L433.60,197.30 L433.52,197.58 L433.44,197.86 L433.37,198.14 L433.30,198.42 L433.24,198.70 L433.19,198.98 L433.13,199.26 L433.09,199.54 L433.06,199.82 L433.03,200.10 L432.90,200.39 L432.92,200.67 L432.95,200.95 L432.99,201.23 L433.04,201.51 L433.09,201.79 L433.15,202.07 L433.22,202.35 L433.29,202.63 L433.36,202.91 L433.44,203.20 L433.52,203.48 L433.61,203.76 L433.70,204.04 L433.79,204.32 L433.88,204.60 L433.98,204.88 L434.07,205.16 L434.17,205.44 L434.27,205.72 L434.37,206.00 L434.47,206.29 L434.58,206.57 L434.68,206.85 L434.78,207.13 L434.88,207.41 L434.98,207.69 L435.09,207.97 L435.19,208.25 L435.28,208.53 L435.38,208.81 L435.48,209.10 L435.58,209.38 L435.67,209.66 L435.76,209.94 L435.85,210.22 L435.94,210.50 L436.03,210.78 L436.12,211.06 L436.20,211.34 L436.28,211.62 L436.36,211.90 L436.44,212.19 L436.51,212.47 L436.59,212.75 L436.66,213.03 L436.73,213.31 L436.79,213.59 L436.86,213.87 L436.92,214.15 L436.98,214.43 L437.04,214.71 L437.10,215.00 L437.15,215.28 L437.21,215.56 L437.26,215.84 L437.30,216.12 L437.35,216.40 L437.40,216.68 L437.44,216.96 L437.48,217.24 L437.52,217.52 L437.56,217.81 L437.59,218.09 L437.63,218.37 L437.66,218.65 L437.69,218.93 L437.72,219.21 L437.75,219.49 L437.78,219.77 L437.81,220.05 L437.83,220.33 L437.85,220.61 L437.88,220.90 L437.90,221.18 L437.92,221.46 L437.94,221.74 L437.96,222.02 L437.97,222.30 L437.99,222.58 L438.00,222.86 L438.02,223.14 L438.03,223.42 L438.05,223.71 L438.06,223.99 L438.07,224.27 L438.08,224.55 L438.09,224.83 L438.10,225.11 L438.11,225.39 L438.12,225.67 L438.13,225.95 L438.14,226.23 L438.15,226.51 L438.15,226.80 L438.16,227.08 L438.17,227.36 L438.17,227.64 L438.18,227.92 L438.19,228.20 L438.19,228.48 L438.20,228.76 L438.20,229.04 L438.21,229.32 L438.21,229.61 L438.21,229.89 L438.22,230.17 L438.22,230.45 L438.23,230.73 L438.23,231.01 L438.23,231.29 L438.24,231.57 L438.24,231.85 L438.24,232.13 L438.25,232.41 L438.25,232.70 L438.25,232.98 L438.25,233.26 L438.26,233.54 L438.26,233.82 L438.26,234.10 L438.26,234.38 L438.27,234.66 L438.27,234.94 L438.27,235.22 L438.27,235.51 L438.28,235.79 L438.28,236.07 L438.28,236.35 L438.28,236.63 L438.29,236.91 L438.29,237.19 L438.29,237.47 L438.29,237.75 L438.29,238.03 L438.30,238.31 L438.30,238.60 L438.30,238.88 L438.30,239.16 L438.31,239.44 L438.31,239.72 L438.31,240.00 L438.31,240.28 L438.32,240.56 L438.32,240.84 L438.32,241.12 L438.33,241.41 L438.33,241.69 L438.33,241.97 L438.35,242.25Z" fill="#2a72b9"/>
<line x1="438.35" y1="203.92" x2="438.35" y2="196.42" stroke="#111" stroke-width="1.8"/>
<line x1="438.35" y1="206.92" x2="438.35" y2="193.42" stroke="#111" stroke-width="0.6"/>
<rect x="437.45" y="199.37" width="1.8" height="1.6" fill="#fff"/>
<path d="M451.77,224.78 L451.79,224.57 L451.79,224.35 L451.80,224.14 L451.80,223.92 L451.81,223.71 L451.81,223.50 L451.82,223.28 L451.82,223.07 L451.83,222.86 L451.83,222.64 L451.83,222.43 L451.84,222.21 L451.84,222.00 L451.84,221.79 L451.85,221.57 L451.85,221.36 L451.86,221.15 L451.86,220.93 L451.86,220.72 L451.87,220.50 L451.87,220.29 L451.88,220.08 L451.88,219.86 L451.89,219.65 L451.89,219.44 L451.90,219.22 L451.90,219.01 L451.91,218.79 L451.91,218.58 L451.92,218.37 L451.92,218.15 L451.93,217.94 L451.94,217.73 L451.94,217.51 L451.95,217.30 L451.96,217.08 L451.96,216.87 L451.97,216.66 L451.98,216.44 L451.99,216.23 L451.99,216.02 L452.00,215.80 L452.01,215.59 L452.02,215.37 L452.03,215.16 L452.04,214.95 L452.05,214.73 L452.06,214.52 L452.07,214.31 L452.09,214.09 L452.10,213.88 L452.11,213.66 L452.13,213.45 L452.14,213.24 L452.15,213.02 L452.17,212.81 L452.18,212.60 L452.20,212.38 L452.22,212.17 L452.23,211.95 L452.25,211.74 L452.27,211.53 L452.29,211.31 L452.31,211.10 L452.33,210.88 L452.35,210.67 L452.37,210.46 L452.40,210.24 L452.42,210.03 L452.45,209.82 L452.47,209.60 L452.50,209.39 L452.52,209.17 L452.55,208.96 L452.58,208.75 L452.61,208.53 L452.64,208.32 L452.67,208.11 L452.71,207.89 L452.74,207.68 L452.78,207.46 L452.81,207.25 L452.85,207.04 L452.89,206.82 L452.93,206.61 L452.97,206.40 L453.01,206.18 L453.05,205.97 L453.10,205.75 L453.14,205.54 L453.19,205.33 L453.24,205.11 L453.28,204.90 L453.33,204.69 L453.38,204.47 L453.44,204.26 L453.49,204.04 L453.54,203.83 L453.60,203.62 L453.66,203.40 L453.71,203.19 L453.77,202.98 L453.83,202.76 L453.89,202.55 L453.96,202.33 L454.02,202.12 L454.08,201.91 L454.15,201.69 L454.21,201.48 L454.28,201.27 L454.35,201.05 L454.42,200.84 L454.49,200.62 L454.55,200.41 L454.63,200.20 L454.70,199.98 L454.77,199.77 L454.84,199.56 L454.91,199.34 L454.99,199.13 L455.06,198.91 L455.13,198.70 L455.21,198.49 L455.28,198.27 L455.35,198.06 L455.43,197.85 L455.50,197.63 L455.57,197.42 L455.64,197.20 L455.72,196.99 L455.79,196.78 L455.86,196.56 L455.93,196.35 L456.00,196.13 L456.06,195.92 L456.13,195.71 L456.19,195.49 L456.26,195.28 L456.32,195.07 L456.38,194.85 L456.43,194.64 L456.49,194.42 L456.54,194.21 L456.59,194.00 L456.64,193.78 L456.69,193.57 L456.73,193.36 L456.77,193.14 L456.81,192.93 L456.84,192.71 L456.87,192.50 L456.89,192.29 L456.91,192.07 L456.92,191.86 L456.78,191.65 L456.75,191.43 L456.72,191.22 L456.68,191.00 L456.64,190.79 L456.59,190.58 L456.53,190.36 L456.47,190.15 L456.41,189.94 L456.34,189.72 L456.27,189.51 L456.20,189.29 L456.12,189.08 L456.04,188.87 L455.96,188.65 L455.87,188.44 L455.79,188.23 L455.70,188.01 L455.61,187.80 L455.52,187.58 L455.43,187.37 L455.34,187.16 L455.25,186.94 L455.16,186.73 L455.06,186.52 L454.97,186.30 L454.88,186.09 L454.79,185.87 L454.70,185.66 L454.61,185.45 L454.52,185.23 L454.43,185.02 L454.34,184.81 L454.26,184.59 L454.17,184.38 L454.09,184.16 L454.00,183.95 L453.92,183.74 L453.84,183.52 L453.76,183.31 L453.69,183.09 L453.61,182.88 L453.54,182.67 L453.47,182.45 L453.40,182.24 L453.33,182.03 L453.27,181.81 L453.20,181.60 L453.14,181.38 L453.08,181.17 L453.02,180.96 L452.97,180.74 L452.91,180.53 L452.86,180.32 L452.81,180.10 L452.76,179.89 L452.71,179.67 L452.66,179.46 L452.62,179.25 L452.58,179.03 L452.54,178.82 L452.50,178.61 L452.46,178.39 L452.42,178.18 L452.39,177.96 L452.36,177.75 L452.32,177.54 L452.29,177.32 L452.26,177.11 L452.24,176.90 L452.21,176.68 L452.19,176.47 L452.16,176.25 L452.14,176.04 L452.12,175.83 L452.10,175.61 L452.08,175.40 L452.06,175.19 L452.04,174.97 L452.02,174.76 L452.01,174.54 L451.99,174.33 L451.98,174.12 L451.97,173.90 L451.95,173.69 L451.94,173.48 L451.93,173.26 L451.92,173.05 L451.91,172.83 L451.90,172.62 L451.89,172.41 L451.88,172.19 L451.87,171.98 L451.87,171.77 L451.86,171.55 L451.85,171.34 L451.85,171.12 L451.84,170.91 L451.84,170.70 L451.83,170.48 L451.83,170.27 L451.82,170.06 L451.82,169.84 L451.81,169.63 L451.81,169.41 L451.81,169.20 L451.72,169.20 L451.72,169.41 L451.71,169.63 L451.71,169.84 L451.70,170.06 L451.70,170.27 L451.69,170.48 L451.69,170.70 L451.68,170.91 L451.68,171.12 L451.67,171.34 L451.67,171.55 L451.66,171.77 L451.65,171.98 L451.64,172.19 L451.63,172.41 L451.63,172.62 L451.62,172.83 L451.61,173.05 L451.60,173.26 L451.58,173.48 L451.57,173.69 L451.56,173.90 L451.55,174.12 L451.53,174.33 L451.52,174.54 L451.50,174.76 L451.48,174.97 L451.47,175.19 L451.45,175.40 L451.43,175.61 L451.41,175.83 L451.39,176.04 L451.36,176.25 L451.34,176.47 L451.31,176.68 L451.29,176.90 L451.26,177.11 L451.23,177.32 L451.20,177.54 L451.17,177.75 L451.14,177.96 L451.10,178.18 L451.07,178.39 L451.03,178.61 L450.99,178.82 L450.95,179.03 L450.91,179.25 L450.86,179.46 L450.82,179.67 L450.77,179.89 L450.72,180.10 L450.67,180.32 L450.61,180.53 L450.56,180.74 L450.50,180.96 L450.44,181.17 L450.38,181.38 L450.32,181.60 L450.26,181.81 L450.19,182.03 L450.13,182.24 L450.06,182.45 L449.98,182.67 L449.91,182.88 L449.84,183.09 L449.76,183.31 L449.68,183.52 L449.60,183.74 L449.52,183.95 L449.44,184.16 L449.35,184.38 L449.27,184.59 L449.18,184.81 L449.10,185.02 L449.01,185.23 L448.92,185.45 L448.83,185.66 L448.74,185.87 L448.64,186.09 L448.55,186.30 L448.46,186.52 L448.37,186.73 L448.28,186.94 L448.18,187.16 L448.09,187.37 L448.00,187.58 L447.91,187.80 L447.82,188.01 L447.74,188.23 L447.65,188.44 L447.57,188.65 L447.49,188.87 L447.41,189.08 L447.33,189.29 L447.25,189.51 L447.18,189.72 L447.12,189.94 L447.05,190.15 L446.99,190.36 L446.94,190.58 L446.89,190.79 L446.84,191.00 L446.80,191.22 L446.77,191.43 L446.75,191.65 L446.61,191.86 L446.62,192.07 L446.64,192.29 L446.66,192.50 L446.69,192.71 L446.72,192.93 L446.76,193.14 L446.79,193.36 L446.84,193.57 L446.88,193.78 L446.93,194.00 L446.98,194.21 L447.03,194.42 L447.09,194.64 L447.15,194.85 L447.21,195.07 L447.27,195.28 L447.33,195.49 L447.40,195.71 L447.46,195.92 L447.53,196.13 L447.60,196.35 L447.67,196.56 L447.74,196.78 L447.81,196.99 L447.88,197.20 L447.95,197.42 L448.03,197.63 L448.10,197.85 L448.17,198.06 L448.25,198.27 L448.32,198.49 L448.39,198.70 L448.47,198.91 L448.54,199.13 L448.61,199.34 L448.68,199.56 L448.76,199.77 L448.83,199.98 L448.90,200.20 L448.97,200.41 L449.04,200.62 L449.11,200.84 L449.18,201.05 L449.25,201.27 L449.31,201.48 L449.38,201.69 L449.44,201.91 L449.51,202.12 L449.57,202.33 L449.63,202.55 L449.69,202.76 L449.75,202.98 L449.81,203.19 L449.87,203.40 L449.93,203.62 L449.98,203.83 L450.04,204.04 L450.09,204.26 L450.14,204.47 L450.19,204.69 L450.24,204.90 L450.29,205.11 L450.34,205.33 L450.38,205.54 L450.43,205.75 L450.47,205.97 L450.51,206.18 L450.56,206.40 L450.60,206.61 L450.64,206.82 L450.67,207.04 L450.71,207.25 L450.75,207.46 L450.78,207.68 L450.82,207.89 L450.85,208.11 L450.88,208.32 L450.91,208.53 L450.94,208.75 L450.97,208.96 L451.00,209.17 L451.03,209.39 L451.05,209.60 L451.08,209.82 L451.10,210.03 L451.13,210.24 L451.15,210.46 L451.17,210.67 L451.20,210.88 L451.22,211.10 L451.24,211.31 L451.26,211.53 L451.27,211.74 L451.29,211.95 L451.31,212.17 L451.33,212.38 L451.34,212.60 L451.36,212.81 L451.37,213.02 L451.39,213.24 L451.40,213.45 L451.41,213.66 L451.43,213.88 L451.44,214.09 L451.45,214.31 L451.46,214.52 L451.47,214.73 L451.48,214.95 L451.49,215.16 L451.50,215.37 L451.51,215.59 L451.52,215.80 L451.53,216.02 L451.54,216.23 L451.55,216.44 L451.55,216.66 L451.56,216.87 L451.57,217.08 L451.58,217.30 L451.58,217.51 L451.59,217.73 L451.60,217.94 L451.60,218.15 L451.61,218.37 L451.61,218.58 L451.62,218.79 L451.62,219.01 L451.63,219.22 L451.63,219.44 L451.64,219.65 L451.64,219.86 L451.65,220.08 L451.65,220.29 L451.66,220.50 L451.66,220.72 L451.66,220.93 L451.67,221.15 L451.67,221.36 L451.68,221.57 L451.68,221.79 L451.68,222.00 L451.69,222.21 L451.69,222.43 L451.70,222.64 L451.70,222.86 L451.70,223.07 L451.71,223.28 L451.71,223.50 L451.72,223.71 L451.72,223.92 L451.73,224.14 L451.73,224.35 L451.74,224.57 L451.75,224.78Z" fill="#2a72b9"/>
<line x1="451.76" y1="195.12" x2="451.76" y2="188.37" stroke="#111" stroke-width="1.8"/>
<line x1="451.76" y1="197.82" x2="451.76" y2="185.67" stroke="#111" stroke-width="0.6"/>
<rect x="450.86" y="190.95" width="1.8" height="1.6" fill="#fff"/>
<path d="M465.18,212.08 L465.20,211.91 L465.21,211.75 L465.21,211.58 L465.22,211.42 L465.22,211.25 L465.22,211.09 L465.23,210.92 L465.23,210.76 L465.24,210.59 L465.24,210.43 L465.24,210.26 L465.25,210.10 L465.25,209.93 L465.25,209.77 L465.26,209.60 L465.26,209.44 L465.26,209.27 L465.27,209.11 L465.27,208.94 L465.27,208.78 L465.28,208.61 L465.28,208.45 L465.28,208.28 L465.29,208.12 L465.29,207.95 L465.29,207.79 L465.30,207.62 L465.30,207.46 L465.30,207.29 L465.31,207.13 L465.31,206.96 L465.32,206.80 L465.32,206.63 L465.33,206.47 L465.33,206.30 L465.34,206.14 L465.34,205.97 L465.35,205.81 L465.35,205.64 L465.36,205.48 L465.36,205.31 L465.37,205.15 L465.37,204.98 L465.38,204.82 L465.39,204.66 L465.39,204.49 L465.40,204.33 L465.41,204.16 L465.42,204.00 L465.42,203.83 L465.43,203.67 L465.44,203.50 L465.45,203.34 L465.46,203.17 L465.47,203.01 L465.48,202.84 L465.49,202.68 L465.50,202.51 L465.51,202.35 L465.52,202.18 L465.53,202.02 L465.54,201.85 L465.56,201.69 L465.57,201.52 L465.58,201.36 L465.60,201.19 L465.61,201.03 L465.63,200.86 L465.64,200.70 L465.66,200.53 L465.68,200.37 L465.69,200.20 L465.71,200.04 L465.73,199.87 L465.75,199.71 L465.77,199.54 L465.79,199.38 L465.81,199.21 L465.83,199.05 L465.86,198.88 L465.88,198.72 L465.91,198.55 L465.93,198.39 L465.96,198.22 L465.98,198.06 L466.01,197.89 L466.04,197.73 L466.07,197.56 L466.10,197.40 L466.13,197.23 L466.17,197.07 L466.20,196.90 L466.23,196.74 L466.27,196.57 L466.31,196.41 L466.34,196.24 L466.38,196.08 L466.42,195.92 L466.46,195.75 L466.50,195.59 L466.55,195.42 L466.59,195.26 L466.63,195.09 L466.68,194.93 L466.73,194.76 L466.78,194.60 L466.82,194.43 L466.88,194.27 L466.93,194.10 L466.98,193.94 L467.03,193.77 L467.09,193.61 L467.14,193.44 L467.20,193.28 L467.26,193.11 L467.31,192.95 L467.37,192.78 L467.43,192.62 L467.50,192.45 L467.56,192.29 L467.62,192.12 L467.68,191.96 L467.75,191.79 L467.81,191.63 L467.88,191.46 L467.95,191.30 L468.02,191.13 L468.08,190.97 L468.15,190.80 L468.22,190.64 L468.29,190.47 L468.36,190.31 L468.43,190.14 L468.50,189.98 L468.57,189.81 L468.64,189.65 L468.71,189.48 L468.78,189.32 L468.85,189.15 L468.92,188.99 L468.99,188.82 L469.06,188.66 L469.13,188.49 L469.20,188.33 L469.27,188.16 L469.34,188.00 L469.40,187.83 L469.47,187.67 L469.53,187.50 L469.59,187.34 L469.65,187.17 L469.71,187.01 L469.77,186.85 L469.83,186.68 L469.88,186.52 L469.93,186.35 L469.98,186.19 L470.03,186.02 L470.08,185.86 L470.12,185.69 L470.16,185.53 L470.20,185.36 L470.23,185.20 L470.26,185.03 L470.28,184.87 L470.31,184.70 L470.32,184.54 L470.33,184.37 L470.19,184.21 L470.17,184.04 L470.14,183.88 L470.10,183.71 L470.06,183.55 L470.01,183.38 L469.95,183.22 L469.89,183.05 L469.82,182.89 L469.75,182.72 L469.68,182.56 L469.60,182.39 L469.53,182.23 L469.44,182.06 L469.36,181.90 L469.27,181.73 L469.18,181.57 L469.09,181.40 L469.00,181.24 L468.91,181.07 L468.82,180.91 L468.72,180.74 L468.63,180.58 L468.53,180.41 L468.44,180.25 L468.34,180.08 L468.25,179.92 L468.16,179.75 L468.06,179.59 L467.97,179.42 L467.88,179.26 L467.79,179.09 L467.70,178.93 L467.61,178.76 L467.52,178.60 L467.44,178.43 L467.36,178.27 L467.27,178.11 L467.19,177.94 L467.11,177.78 L467.04,177.61 L466.96,177.45 L466.89,177.28 L466.82,177.12 L466.75,176.95 L466.68,176.79 L466.62,176.62 L466.55,176.46 L466.49,176.29 L466.43,176.13 L466.37,175.96 L466.32,175.80 L466.26,175.63 L466.21,175.47 L466.16,175.30 L466.11,175.14 L466.07,174.97 L466.02,174.81 L465.98,174.64 L465.94,174.48 L465.90,174.31 L465.86,174.15 L465.82,173.98 L465.79,173.82 L465.76,173.65 L465.72,173.49 L465.69,173.32 L465.67,173.16 L465.64,172.99 L465.61,172.83 L465.59,172.66 L465.56,172.50 L465.54,172.33 L465.52,172.17 L465.50,172.00 L465.48,171.84 L465.46,171.67 L465.44,171.51 L465.43,171.34 L465.41,171.18 L465.40,171.01 L465.38,170.85 L465.37,170.68 L465.36,170.52 L465.35,170.35 L465.34,170.19 L465.33,170.02 L465.32,169.86 L465.31,169.69 L465.30,169.53 L465.29,169.36 L465.28,169.20 L465.07,169.20 L465.06,169.36 L465.06,169.53 L465.05,169.69 L465.04,169.86 L465.03,170.02 L465.02,170.19 L465.01,170.35 L465.00,170.52 L464.98,170.68 L464.97,170.85 L464.96,171.01 L464.94,171.18 L464.93,171.34 L464.91,171.51 L464.89,171.67 L464.88,171.84 L464.86,172.00 L464.84,172.17 L464.81,172.33 L464.79,172.50 L464.77,172.66 L464.74,172.83 L464.72,172.99 L464.69,173.16 L464.66,173.32 L464.63,173.49 L464.60,173.65 L464.57,173.82 L464.53,173.98 L464.49,174.15 L464.46,174.31 L464.42,174.48 L464.38,174.64 L464.33,174.81 L464.29,174.97 L464.24,175.14 L464.19,175.30 L464.14,175.47 L464.09,175.63 L464.04,175.80 L463.98,175.96 L463.92,176.13 L463.86,176.29 L463.80,176.46 L463.74,176.62 L463.67,176.79 L463.61,176.95 L463.54,177.12 L463.47,177.28 L463.39,177.45 L463.32,177.61 L463.24,177.78 L463.16,177.94 L463.08,178.11 L463.00,178.27 L462.92,178.43 L462.83,178.60 L462.74,178.76 L462.66,178.93 L462.57,179.09 L462.48,179.26 L462.38,179.42 L462.29,179.59 L462.20,179.75 L462.10,179.92 L462.01,180.08 L461.92,180.25 L461.82,180.41 L461.73,180.58 L461.63,180.74 L461.54,180.91 L461.44,181.07 L461.35,181.24 L461.26,181.40 L461.17,181.57 L461.08,181.73 L461.00,181.90 L460.91,182.06 L460.83,182.23 L460.75,182.39 L460.67,182.56 L460.60,182.72 L460.53,182.89 L460.47,183.05 L460.41,183.22 L460.35,183.38 L460.30,183.55 L460.25,183.71 L460.22,183.88 L460.19,184.04 L460.16,184.21 L460.02,184.37 L460.03,184.54 L460.05,184.70 L460.07,184.87 L460.10,185.03 L460.13,185.20 L460.16,185.36 L460.20,185.53 L460.24,185.69 L460.28,185.86 L460.32,186.02 L460.37,186.19 L460.42,186.35 L460.47,186.52 L460.53,186.68 L460.58,186.85 L460.64,187.01 L460.70,187.17 L460.76,187.34 L460.83,187.50 L460.89,187.67 L460.95,187.83 L461.02,188.00 L461.09,188.16 L461.15,188.33 L461.22,188.49 L461.29,188.66 L461.36,188.82 L461.43,188.99 L461.50,189.15 L461.57,189.32 L461.64,189.48 L461.71,189.65 L461.78,189.81 L461.85,189.98 L461.92,190.14 L461.99,190.31 L462.06,190.47 L462.13,190.64 L462.20,190.80 L462.27,190.97 L462.34,191.13 L462.41,191.30 L462.47,191.46 L462.54,191.63 L462.61,191.79 L462.67,191.96 L462.73,192.12 L462.80,192.29 L462.86,192.45 L462.92,192.62 L462.98,192.78 L463.04,192.95 L463.10,193.11 L463.16,193.28 L463.21,193.44 L463.27,193.61 L463.32,193.77 L463.38,193.94 L463.43,194.10 L463.48,194.27 L463.53,194.43 L463.58,194.60 L463.63,194.76 L463.67,194.93 L463.72,195.09 L463.76,195.26 L463.81,195.42 L463.85,195.59 L463.89,195.75 L463.93,195.92 L463.97,196.08 L464.01,196.24 L464.05,196.41 L464.09,196.57 L464.12,196.74 L464.16,196.90 L464.19,197.07 L464.22,197.23 L464.25,197.40 L464.28,197.56 L464.31,197.73 L464.34,197.89 L464.37,198.06 L464.40,198.22 L464.42,198.39 L464.45,198.55 L464.47,198.72 L464.50,198.88 L464.52,199.05 L464.54,199.21 L464.56,199.38 L464.59,199.54 L464.61,199.71 L464.62,199.87 L464.64,200.04 L464.66,200.20 L464.68,200.37 L464.70,200.53 L464.71,200.70 L464.73,200.86 L464.74,201.03 L464.76,201.19 L464.77,201.36 L464.79,201.52 L464.80,201.69 L464.81,201.85 L464.82,202.02 L464.84,202.18 L464.85,202.35 L464.86,202.51 L464.87,202.68 L464.88,202.84 L464.89,203.01 L464.90,203.17 L464.91,203.34 L464.91,203.50 L464.92,203.67 L464.93,203.83 L464.94,204.00 L464.95,204.16 L464.95,204.33 L464.96,204.49 L464.97,204.66 L464.97,204.82 L464.98,204.98 L464.99,205.15 L464.99,205.31 L465.00,205.48 L465.00,205.64 L465.01,205.81 L465.01,205.97 L465.02,206.14 L465.02,206.30 L465.03,206.47 L465.03,206.63 L465.04,206.80 L465.04,206.96 L465.05,207.13 L465.05,207.29 L465.05,207.46 L465.06,207.62 L465.06,207.79 L465.07,207.95 L465.07,208.12 L465.07,208.28 L465.08,208.45 L465.08,208.61 L465.08,208.78 L465.09,208.94 L465.09,209.11 L465.09,209.27 L465.10,209.44 L465.10,209.60 L465.10,209.77 L465.11,209.93 L465.11,210.10 L465.11,210.26 L465.12,210.43 L465.12,210.59 L465.12,210.76 L465.13,210.92 L465.13,211.09 L465.13,211.25 L465.14,211.42 L465.14,211.58 L465.15,211.75 L465.16,211.91 L465.17,212.08Z" fill="#2a72b9"/>
<line x1="465.18" y1="186.91" x2="465.18" y2="181.66" stroke="#111" stroke-width="1.8"/>
<line x1="465.18" y1="189.01" x2="465.18" y2="179.56" stroke="#111" stroke-width="0.6"/>
<rect x="464.28" y="183.49" width="1.8" height="1.6" fill="#fff"/>
<path d="M478.59,208.11 L478.61,207.96 L478.61,207.81 L478.61,207.66 L478.62,207.51 L478.62,207.36 L478.62,207.21 L478.63,207.06 L478.63,206.91 L478.63,206.76 L478.63,206.61 L478.64,206.46 L478.64,206.31 L478.64,206.16 L478.64,206.01 L478.64,205.86 L478.65,205.71 L478.65,205.56 L478.65,205.41 L478.65,205.26 L478.65,205.11 L478.65,204.96 L478.66,204.81 L478.66,204.66 L478.66,204.51 L478.66,204.37 L478.66,204.22 L478.66,204.07 L478.67,203.92 L478.67,203.77 L478.67,203.62 L478.67,203.47 L478.67,203.32 L478.67,203.17 L478.67,203.02 L478.68,202.87 L478.68,202.72 L478.68,202.57 L478.68,202.42 L478.68,202.27 L478.68,202.12 L478.69,201.97 L478.69,201.82 L478.69,201.67 L478.69,201.52 L478.69,201.37 L478.69,201.22 L478.69,201.07 L478.70,200.92 L478.70,200.77 L478.70,200.62 L478.70,200.47 L478.70,200.32 L478.70,200.18 L478.71,200.03 L478.71,199.88 L478.71,199.73 L478.71,199.58 L478.71,199.43 L478.71,199.28 L478.72,199.13 L478.72,198.98 L478.72,198.83 L478.72,198.68 L478.72,198.53 L478.72,198.38 L478.73,198.23 L478.73,198.08 L478.73,197.93 L478.73,197.78 L478.73,197.63 L478.74,197.48 L478.74,197.33 L478.74,197.18 L478.74,197.03 L478.75,196.88 L478.75,196.73 L478.75,196.58 L478.75,196.43 L478.76,196.28 L478.76,196.13 L478.76,195.99 L478.77,195.84 L478.77,195.69 L478.77,195.54 L478.78,195.39 L478.78,195.24 L478.78,195.09 L478.79,194.94 L478.79,194.79 L478.80,194.64 L478.80,194.49 L478.80,194.34 L478.81,194.19 L478.81,194.04 L478.82,193.89 L478.82,193.74 L478.83,193.59 L478.84,193.44 L478.84,193.29 L478.85,193.14 L478.85,192.99 L478.86,192.84 L478.87,192.69 L478.88,192.54 L478.88,192.39 L478.89,192.24 L478.90,192.09 L478.91,191.95 L478.92,191.80 L478.93,191.65 L478.94,191.50 L478.95,191.35 L478.96,191.20 L478.97,191.05 L478.98,190.90 L479.00,190.75 L479.01,190.60 L479.02,190.45 L479.04,190.30 L479.05,190.15 L479.07,190.00 L479.08,189.85 L479.10,189.70 L479.12,189.55 L479.14,189.40 L479.15,189.25 L479.17,189.10 L479.19,188.95 L479.21,188.80 L479.24,188.65 L479.26,188.50 L479.28,188.35 L479.31,188.20 L479.33,188.05 L479.36,187.90 L479.39,187.76 L479.42,187.61 L479.45,187.46 L479.48,187.31 L479.51,187.16 L479.54,187.01 L479.57,186.86 L479.61,186.71 L479.64,186.56 L479.68,186.41 L479.72,186.26 L479.76,186.11 L479.80,185.96 L479.84,185.81 L479.88,185.66 L479.93,185.51 L479.97,185.36 L480.02,185.21 L480.07,185.06 L480.12,184.91 L480.17,184.76 L480.22,184.61 L480.27,184.46 L480.33,184.31 L480.38,184.16 L480.44,184.01 L480.50,183.86 L480.56,183.71 L480.62,183.57 L480.68,183.42 L480.74,183.27 L480.81,183.12 L480.87,182.97 L480.94,182.82 L481.01,182.67 L481.08,182.52 L481.15,182.37 L481.22,182.22 L481.29,182.07 L481.36,181.92 L481.43,181.77 L481.51,181.62 L481.58,181.47 L481.65,181.32 L481.73,181.17 L481.81,181.02 L481.88,180.87 L481.96,180.72 L482.03,180.57 L482.11,180.42 L482.19,180.27 L482.26,180.12 L482.34,179.97 L482.41,179.82 L482.49,179.67 L482.56,179.53 L482.64,179.38 L482.71,179.23 L482.78,179.08 L482.85,178.93 L482.92,178.78 L482.99,178.63 L483.06,178.48 L483.12,178.33 L483.19,178.18 L483.25,178.03 L483.31,177.88 L483.36,177.73 L483.42,177.58 L483.47,177.43 L483.51,177.28 L483.56,177.13 L483.60,176.98 L483.64,176.83 L483.67,176.68 L483.70,176.53 L483.72,176.38 L483.74,176.23 L483.75,176.08 L483.60,175.93 L483.57,175.78 L483.53,175.63 L483.47,175.48 L483.41,175.34 L483.33,175.19 L483.25,175.04 L483.17,174.89 L483.07,174.74 L482.97,174.59 L482.87,174.44 L482.76,174.29 L482.65,174.14 L482.54,173.99 L482.42,173.84 L482.31,173.69 L482.19,173.54 L482.07,173.39 L481.95,173.24 L481.83,173.09 L481.71,172.94 L481.59,172.79 L481.47,172.64 L481.35,172.49 L481.24,172.34 L481.12,172.19 L481.01,172.04 L480.90,171.89 L480.79,171.74 L480.69,171.59 L480.59,171.44 L480.49,171.29 L480.39,171.15 L480.30,171.00 L480.21,170.85 L480.12,170.70 L480.04,170.55 L479.96,170.40 L479.88,170.25 L479.81,170.10 L479.74,169.95 L479.67,169.80 L479.60,169.65 L479.54,169.50 L479.48,169.35 L479.43,169.20 L477.76,169.20 L477.70,169.35 L477.64,169.50 L477.58,169.65 L477.52,169.80 L477.45,169.95 L477.38,170.10 L477.30,170.25 L477.23,170.40 L477.15,170.55 L477.06,170.70 L476.98,170.85 L476.89,171.00 L476.79,171.15 L476.70,171.29 L476.60,171.44 L476.50,171.59 L476.39,171.74 L476.28,171.89 L476.17,172.04 L476.06,172.19 L475.95,172.34 L475.83,172.49 L475.72,172.64 L475.60,172.79 L475.48,172.94 L475.36,173.09 L475.24,173.24 L475.12,173.39 L475.00,173.54 L474.88,173.69 L474.76,173.84 L474.65,173.99 L474.53,174.14 L474.42,174.29 L474.31,174.44 L474.21,174.59 L474.11,174.74 L474.02,174.89 L473.93,175.04 L473.85,175.19 L473.78,175.34 L473.71,175.48 L473.66,175.63 L473.61,175.78 L473.58,175.93 L473.43,176.08 L473.45,176.23 L473.46,176.38 L473.49,176.53 L473.52,176.68 L473.55,176.83 L473.59,176.98 L473.63,177.13 L473.67,177.28 L473.72,177.43 L473.77,177.58 L473.82,177.73 L473.88,177.88 L473.94,178.03 L474.00,178.18 L474.06,178.33 L474.13,178.48 L474.19,178.63 L474.26,178.78 L474.33,178.93 L474.40,179.08 L474.47,179.23 L474.55,179.38 L474.62,179.53 L474.70,179.67 L474.77,179.82 L474.85,179.97 L474.92,180.12 L475.00,180.27 L475.07,180.42 L475.15,180.57 L475.23,180.72 L475.30,180.87 L475.38,181.02 L475.46,181.17 L475.53,181.32 L475.61,181.47 L475.68,181.62 L475.75,181.77 L475.83,181.92 L475.90,182.07 L475.97,182.22 L476.04,182.37 L476.11,182.52 L476.18,182.67 L476.25,182.82 L476.31,182.97 L476.38,183.12 L476.44,183.27 L476.50,183.42 L476.57,183.57 L476.63,183.71 L476.69,183.86 L476.74,184.01 L476.80,184.16 L476.86,184.31 L476.91,184.46 L476.96,184.61 L477.02,184.76 L477.07,184.91 L477.12,185.06 L477.16,185.21 L477.21,185.36 L477.26,185.51 L477.30,185.66 L477.34,185.81 L477.39,185.96 L477.43,186.11 L477.47,186.26 L477.50,186.41 L477.54,186.56 L477.58,186.71 L477.61,186.86 L477.65,187.01 L477.68,187.16 L477.71,187.31 L477.74,187.46 L477.77,187.61 L477.80,187.76 L477.83,187.90 L477.85,188.05 L477.88,188.20 L477.90,188.35 L477.93,188.50 L477.95,188.65 L477.97,188.80 L477.99,188.95 L478.01,189.10 L478.03,189.25 L478.05,189.40 L478.07,189.55 L478.09,189.70 L478.10,189.85 L478.12,190.00 L478.13,190.15 L478.15,190.30 L478.16,190.45 L478.18,190.60 L478.19,190.75 L478.20,190.90 L478.21,191.05 L478.23,191.20 L478.24,191.35 L478.25,191.50 L478.26,191.65 L478.27,191.80 L478.28,191.95 L478.28,192.09 L478.29,192.24 L478.30,192.39 L478.31,192.54 L478.32,192.69 L478.32,192.84 L478.33,192.99 L478.34,193.14 L478.34,193.29 L478.35,193.44 L478.36,193.59 L478.36,193.74 L478.37,193.89 L478.37,194.04 L478.38,194.19 L478.38,194.34 L478.39,194.49 L478.39,194.64 L478.39,194.79 L478.40,194.94 L478.40,195.09 L478.41,195.24 L478.41,195.39 L478.41,195.54 L478.42,195.69 L478.42,195.84 L478.42,195.99 L478.42,196.13 L478.43,196.28 L478.43,196.43 L478.43,196.58 L478.44,196.73 L478.44,196.88 L478.44,197.03 L478.44,197.18 L478.45,197.33 L478.45,197.48 L478.45,197.63 L478.45,197.78 L478.45,197.93 L478.46,198.08 L478.46,198.23 L478.46,198.38 L478.46,198.53 L478.46,198.68 L478.47,198.83 L478.47,198.98 L478.47,199.13 L478.47,199.28 L478.47,199.43 L478.47,199.58 L478.48,199.73 L478.48,199.88 L478.48,200.03 L478.48,200.18 L478.48,200.32 L478.48,200.47 L478.49,200.62 L478.49,200.77 L478.49,200.92 L478.49,201.07 L478.49,201.22 L478.49,201.37 L478.50,201.52 L478.50,201.67 L478.50,201.82 L478.50,201.97 L478.50,202.12 L478.50,202.27 L478.50,202.42 L478.51,202.57 L478.51,202.72 L478.51,202.87 L478.51,203.02 L478.51,203.17 L478.51,203.32 L478.51,203.47 L478.52,203.62 L478.52,203.77 L478.52,203.92 L478.52,204.07 L478.52,204.22 L478.52,204.37 L478.53,204.51 L478.53,204.66 L478.53,204.81 L478.53,204.96 L478.53,205.11 L478.53,205.26 L478.54,205.41 L478.54,205.56 L478.54,205.71 L478.54,205.86 L478.54,206.01 L478.55,206.16 L478.55,206.31 L478.55,206.46 L478.55,206.61 L478.55,206.76 L478.56,206.91 L478.56,207.06 L478.56,207.21 L478.56,207.36 L478.57,207.51 L478.57,207.66 L478.57,207.81 L478.58,207.96 L478.59,208.11Z" fill="#2a72b9"/>
<line x1="478.59" y1="178.08" x2="478.59" y2="173.98" stroke="#111" stroke-width="1.8"/>
<line x1="478.59" y1="179.72" x2="478.59" y2="172.34" stroke="#111" stroke-width="0.6"/>
<rect x="477.69" y="175.23" width="1.8" height="1.6" fill="#fff"/>
<line x1="217.00" y1="328.00" x2="485.30" y2="169.20" stroke="#111" stroke-width="1.2" stroke-dasharray="3.4,2.1"/>
<line x1="217.00" y1="167.6" x2="217.00" y2="328.80" stroke="#8a8a8a" stroke-width="1.4"/>
<line x1="216.40" y1="328.50" x2="485.90" y2="328.50" stroke="#8a8a8a" stroke-width="1.4"/>
<line x1="214.20" y1="328.00" x2="217.00" y2="328.00" stroke="#333" stroke-width="0.8"/>
<text x="210.20" y="330.60" font-size="8.2" text-anchor="end" fill="#111" stroke="#111" stroke-width="0.2">0</text>
<line x1="214.20" y1="296.24" x2="217.00" y2="296.24" stroke="#333" stroke-width="0.8"/>
<text x="210.20" y="298.84" font-size="8.2" text-anchor="end" fill="#111" stroke="#111" stroke-width="0.2">0.2</text>
<line x1="214.20" y1="264.48" x2="217.00" y2="264.48" stroke="#333" stroke-width="0.8"/>
<text x="210.20" y="267.08" font-size="8.2" text-anchor="end" fill="#111" stroke="#111" stroke-width="0.2">0.4</text>
<line x1="214.20" y1="232.72" x2="217.00" y2="232.72" stroke="#333" stroke-width="0.8"/>
<text x="210.20" y="235.32" font-size="8.2" text-anchor="end" fill="#111" stroke="#111" stroke-width="0.2">0.6</text>
<line x1="214.20" y1="200.96" x2="217.00" y2="200.96" stroke="#333" stroke-width="0.8"/>
<text x="210.20" y="203.56" font-size="8.2" text-anchor="end" fill="#111" stroke="#111" stroke-width="0.2">0.8</text>
<line x1="214.20" y1="169.20" x2="217.00" y2="169.20" stroke="#333" stroke-width="0.8"/>
<text x="210.20" y="171.80" font-size="8.2" text-anchor="end" fill="#111" stroke="#111" stroke-width="0.2">1.0</text>
<line x1="217.00" y1="329.20" x2="217.00" y2="332.20" stroke="#111" stroke-width="0.8"/>
<text x="217.00" y="342.70" font-size="8.2" text-anchor="middle" fill="#111" stroke="#111" stroke-width="0.2">0.0</text>
<line x1="243.83" y1="329.20" x2="243.83" y2="332.20" stroke="#111" stroke-width="0.8"/>
<text x="243.83" y="342.70" font-size="8.2" text-anchor="middle" fill="#111" stroke="#111" stroke-width="0.2">0.1</text>
<line x1="270.66" y1="329.20" x2="270.66" y2="332.20" stroke="#111" stroke-width="0.8"/>
<text x="270.66" y="342.70" font-size="8.2" text-anchor="middle" fill="#111" stroke="#111" stroke-width="0.2">0.2</text>
<line x1="297.49" y1="329.20" x2="297.49" y2="332.20" stroke="#111" stroke-width="0.8"/>
<text x="297.49" y="342.70" font-size="8.2" text-anchor="middle" fill="#111" stroke="#111" stroke-width="0.2">0.3</text>
<line x1="324.32" y1="329.20" x2="324.32" y2="332.20" stroke="#111" stroke-width="0.8"/>
<text x="324.32" y="342.70" font-size="8.2" text-anchor="middle" fill="#111" stroke="#111" stroke-width="0.2">0.4</text>
<line x1="351.15" y1="329.20" x2="351.15" y2="332.20" stroke="#111" stroke-width="0.8"/>
<text x="351.15" y="342.70" font-size="8.2" text-anchor="middle" fill="#111" stroke="#111" stroke-width="0.2">0.5</text>
<line x1="377.98" y1="329.20" x2="377.98" y2="332.20" stroke="#111" stroke-width="0.8"/>
<text x="377.98" y="342.70" font-size="8.2" text-anchor="middle" fill="#111" stroke="#111" stroke-width="0.2">0.6</text>
<line x1="404.81" y1="329.20" x2="404.81" y2="332.20" stroke="#111" stroke-width="0.8"/>
<text x="404.81" y="342.70" font-size="8.2" text-anchor="middle" fill="#111" stroke="#111" stroke-width="0.2">0.7</text>
<line x1="431.64" y1="329.20" x2="431.64" y2="332.20" stroke="#111" stroke-width="0.8"/>
<text x="431.64" y="342.70" font-size="8.2" text-anchor="middle" fill="#111" stroke="#111" stroke-width="0.2">0.8</text>
<line x1="458.47" y1="329.20" x2="458.47" y2="332.20" stroke="#111" stroke-width="0.8"/>
<text x="458.47" y="342.70" font-size="8.2" text-anchor="middle" fill="#111" stroke="#111" stroke-width="0.2">0.9</text>
<line x1="485.30" y1="329.20" x2="485.30" y2="332.20" stroke="#111" stroke-width="0.8"/>
<text x="485.30" y="342.70" font-size="8.2" text-anchor="middle" fill="#111" stroke="#111" stroke-width="0.2">1.0</text>
<line x1="217.00" y1="329.40" x2="217.00" y2="332.00" stroke="#111" stroke-width="0.9"/>
<line x1="215.60" y1="330.40" x2="218.40" y2="330.40" stroke="#111" stroke-width="0.8"/>
<line x1="230.41" y1="329.40" x2="230.41" y2="332.00" stroke="#111" stroke-width="0.9"/>
<line x1="229.01" y1="330.40" x2="231.81" y2="330.40" stroke="#111" stroke-width="0.8"/>
<line x1="243.83" y1="329.40" x2="243.83" y2="332.00" stroke="#111" stroke-width="0.9"/>
<line x1="242.43" y1="330.40" x2="245.23" y2="330.40" stroke="#111" stroke-width="0.8"/>
<line x1="257.25" y1="329.40" x2="257.25" y2="332.00" stroke="#111" stroke-width="0.9"/>
<line x1="255.84" y1="330.40" x2="258.64" y2="330.40" stroke="#111" stroke-width="0.8"/>
<line x1="270.66" y1="329.40" x2="270.66" y2="332.00" stroke="#111" stroke-width="0.9"/>
<line x1="269.26" y1="330.40" x2="272.06" y2="330.40" stroke="#111" stroke-width="0.8"/>
<line x1="284.07" y1="329.40" x2="284.07" y2="332.00" stroke="#111" stroke-width="0.9"/>
<line x1="282.68" y1="330.40" x2="285.47" y2="330.40" stroke="#111" stroke-width="0.8"/>
<line x1="297.49" y1="329.40" x2="297.49" y2="332.00" stroke="#111" stroke-width="0.9"/>
<line x1="296.09" y1="330.40" x2="298.89" y2="330.40" stroke="#111" stroke-width="0.8"/>
<line x1="310.91" y1="329.40" x2="310.91" y2="332.00" stroke="#111" stroke-width="0.9"/>
<line x1="309.51" y1="330.40" x2="312.31" y2="330.40" stroke="#111" stroke-width="0.8"/>
<line x1="324.32" y1="329.40" x2="324.32" y2="332.00" stroke="#111" stroke-width="0.9"/>
<line x1="322.92" y1="330.40" x2="325.72" y2="330.40" stroke="#111" stroke-width="0.8"/>
<line x1="337.74" y1="329.40" x2="337.74" y2="332.00" stroke="#111" stroke-width="0.9"/>
<line x1="336.34" y1="330.40" x2="339.13" y2="330.40" stroke="#111" stroke-width="0.8"/>
<line x1="351.15" y1="329.40" x2="351.15" y2="332.00" stroke="#111" stroke-width="0.9"/>
<line x1="349.75" y1="330.40" x2="352.55" y2="330.40" stroke="#111" stroke-width="0.8"/>
<line x1="364.57" y1="329.40" x2="364.57" y2="332.00" stroke="#111" stroke-width="0.9"/>
<line x1="363.17" y1="330.40" x2="365.97" y2="330.40" stroke="#111" stroke-width="0.8"/>
<line x1="377.98" y1="329.40" x2="377.98" y2="332.00" stroke="#111" stroke-width="0.9"/>
<line x1="376.58" y1="330.40" x2="379.38" y2="330.40" stroke="#111" stroke-width="0.8"/>
<line x1="391.39" y1="329.40" x2="391.39" y2="332.00" stroke="#111" stroke-width="0.9"/>
<line x1="390.00" y1="330.40" x2="392.79" y2="330.40" stroke="#111" stroke-width="0.8"/>
<line x1="404.81" y1="329.40" x2="404.81" y2="332.00" stroke="#111" stroke-width="0.9"/>
<line x1="403.41" y1="330.40" x2="406.21" y2="330.40" stroke="#111" stroke-width="0.8"/>
<line x1="418.23" y1="329.40" x2="418.23" y2="332.00" stroke="#111" stroke-width="0.9"/>
<line x1="416.83" y1="330.40" x2="419.62" y2="330.40" stroke="#111" stroke-width="0.8"/>
<line x1="431.64" y1="329.40" x2="431.64" y2="332.00" stroke="#111" stroke-width="0.9"/>
<line x1="430.24" y1="330.40" x2="433.04" y2="330.40" stroke="#111" stroke-width="0.8"/>
<line x1="445.06" y1="329.40" x2="445.06" y2="332.00" stroke="#111" stroke-width="0.9"/>
<line x1="443.66" y1="330.40" x2="446.46" y2="330.40" stroke="#111" stroke-width="0.8"/>
<line x1="458.47" y1="329.40" x2="458.47" y2="332.00" stroke="#111" stroke-width="0.9"/>
<line x1="457.07" y1="330.40" x2="459.87" y2="330.40" stroke="#111" stroke-width="0.8"/>
<line x1="471.88" y1="329.40" x2="471.88" y2="332.00" stroke="#111" stroke-width="0.9"/>
<line x1="470.49" y1="330.40" x2="473.28" y2="330.40" stroke="#111" stroke-width="0.8"/>
<line x1="485.30" y1="329.40" x2="485.30" y2="332.00" stroke="#111" stroke-width="0.9"/>
<line x1="483.90" y1="330.40" x2="486.70" y2="330.40" stroke="#111" stroke-width="0.8"/>
<text x="311.8" y="356.1" font-size="8.2" fill="#111" stroke="#111" stroke-width="0.2">Measured IFP<tspan font-size="5.9" dy="2.3">0–480 min</tspan></text>
<text transform="translate(191.6 287.0) rotate(-90)" font-size="8.0" fill="#111" stroke="#111" stroke-width="0.2">Predicted IFP<tspan font-size="5.9" dy="2.3">0–480 min</tspan></text>
<line x1="358" y1="161.3" x2="384" y2="161.3" stroke="#111" stroke-width="1.1" stroke-dasharray="3.4,2.1"/>
<text x="388.2" y="164.8" font-size="8.5" fill="#111" stroke="#111" stroke-width="0.2"><tspan font-style="italic">R</tspan><tspan font-size="5" dy="-3.4">2</tspan><tspan dy="3.4"> = 0.927 , MAE = 0.039</tspan></text>
<text x="507.60" y="155.70" font-size="13.4" font-weight="bold" fill="#000" stroke="#000" stroke-width="0.2">d</text>
<text x="521.00" y="164.30" font-size="8.4" fill="#111" stroke="#111" stroke-width="0.2">GFP prediction based on:</text>
<circle cx="509.6" cy="173.6" r="1.7" fill="#34b36e"/>
<text x="514.6" y="175.5" font-size="8.1" fill="#34b36e" stroke="#34b36e" stroke-width="0.2">obs. IFP<tspan font-size="5.6" dy="2.6">0–480 min</tspan></text>
<line x1="574" y1="172.2" x2="587.2" y2="172.2" stroke="#34b36e" stroke-width="0.9" stroke-dasharray="2.8,1.6"/>
<text x="589.0" y="174.2" font-size="5.7" fill="#34b36e" stroke="#34b36e" stroke-width="0.2">slope = 1.000, <tspan font-style="italic">R</tspan><tspan font-size="3.6" dy="-2.2">2</tspan><tspan dy="2.2"> = 0.983, SE = 0.024</tspan></text>
<circle cx="509.6" cy="187.4" r="1.7" fill="#137a44"/>
<text x="514.6" y="189.3" font-size="8.1" fill="#137a44" stroke="#137a44" stroke-width="0.2">pred. IFP<tspan font-size="5.6" dy="2.6">0–480 min</tspan></text>
<line x1="574" y1="187.1" x2="586.6" y2="187.1" stroke="#137a44" stroke-width="0.8"/>
<text x="589.0" y="189.2" font-size="5.7" fill="#137a44" stroke="#137a44" stroke-width="0.2">slope = 1.039, <tspan font-style="italic">R</tspan><tspan font-size="3.6" dy="-2.2">2</tspan><tspan dy="2.2"> = 0.985, SE = 0.022</tspan></text>
<rect x="552.50" y="203.60" width="119.70" height="121.90" fill="none" stroke="#222" stroke-width="0.9"/>
<line x1="549.90" y1="325.50" x2="552.50" y2="325.50" stroke="#222" stroke-width="0.7"/>
<text x="546.90" y="327.90" font-size="6.8" text-anchor="end" fill="#111" stroke="#111" stroke-width="0.2">0</text>
<line x1="552.50" y1="325.50" x2="552.50" y2="328.10" stroke="#222" stroke-width="0.7"/>
<text x="552.50" y="336.50" font-size="6.8" text-anchor="middle" fill="#111" stroke="#111" stroke-width="0.2">0</text>
<line x1="549.90" y1="308.09" x2="552.50" y2="308.09" stroke="#222" stroke-width="0.7"/>
<text x="546.90" y="310.49" font-size="6.8" text-anchor="end" fill="#111" stroke="#111" stroke-width="0.2">10</text>
<line x1="569.60" y1="325.50" x2="569.60" y2="328.10" stroke="#222" stroke-width="0.7"/>
<text x="569.60" y="336.50" font-size="6.8" text-anchor="middle" fill="#111" stroke="#111" stroke-width="0.2">10</text>
<line x1="549.90" y1="290.67" x2="552.50" y2="290.67" stroke="#222" stroke-width="0.7"/>
<text x="546.90" y="293.07" font-size="6.8" text-anchor="end" fill="#111" stroke="#111" stroke-width="0.2">20</text>
<line x1="586.70" y1="325.50" x2="586.70" y2="328.10" stroke="#222" stroke-width="0.7"/>
<text x="586.70" y="336.50" font-size="6.8" text-anchor="middle" fill="#111" stroke="#111" stroke-width="0.2">20</text>
<line x1="549.90" y1="273.26" x2="552.50" y2="273.26" stroke="#222" stroke-width="0.7"/>
<text x="546.90" y="275.66" font-size="6.8" text-anchor="end" fill="#111" stroke="#111" stroke-width="0.2">30</text>
<line x1="603.80" y1="325.50" x2="603.80" y2="328.10" stroke="#222" stroke-width="0.7"/>
<text x="603.80" y="336.50" font-size="6.8" text-anchor="middle" fill="#111" stroke="#111" stroke-width="0.2">30</text>
<line x1="549.90" y1="255.84" x2="552.50" y2="255.84" stroke="#222" stroke-width="0.7"/>
<text x="546.90" y="258.24" font-size="6.8" text-anchor="end" fill="#111" stroke="#111" stroke-width="0.2">40</text>
<line x1="620.90" y1="325.50" x2="620.90" y2="328.10" stroke="#222" stroke-width="0.7"/>
<text x="620.90" y="336.50" font-size="6.8" text-anchor="middle" fill="#111" stroke="#111" stroke-width="0.2">40</text>
<line x1="549.90" y1="238.43" x2="552.50" y2="238.43" stroke="#222" stroke-width="0.7"/>
<text x="546.90" y="240.83" font-size="6.8" text-anchor="end" fill="#111" stroke="#111" stroke-width="0.2">50</text>
<line x1="638.00" y1="325.50" x2="638.00" y2="328.10" stroke="#222" stroke-width="0.7"/>
<text x="638.00" y="336.50" font-size="6.8" text-anchor="middle" fill="#111" stroke="#111" stroke-width="0.2">50</text>
<line x1="549.90" y1="221.02" x2="552.50" y2="221.02" stroke="#222" stroke-width="0.7"/>
<text x="546.90" y="223.42" font-size="6.8" text-anchor="end" fill="#111" stroke="#111" stroke-width="0.2">60</text>
<line x1="655.10" y1="325.50" x2="655.10" y2="328.10" stroke="#222" stroke-width="0.7"/>
<text x="655.10" y="336.50" font-size="6.8" text-anchor="middle" fill="#111" stroke="#111" stroke-width="0.2">60</text>
<line x1="549.90" y1="203.60" x2="552.50" y2="203.60" stroke="#222" stroke-width="0.7"/>
<text x="546.90" y="206.00" font-size="6.8" text-anchor="end" fill="#111" stroke="#111" stroke-width="0.2">70</text>
<line x1="672.20" y1="325.50" x2="672.20" y2="328.10" stroke="#222" stroke-width="0.7"/>
<text x="672.20" y="336.50" font-size="6.8" text-anchor="middle" fill="#111" stroke="#111" stroke-width="0.2">70</text>
<line x1="552.50" y1="325.50" x2="672.20" y2="203.60" stroke="#34b36e" stroke-width="0.9" stroke-dasharray="2.6,1.6"/>
<line x1="552.50" y1="325.50" x2="667.71" y2="203.60" stroke="#34b36e" stroke-width="0.9"/>
<circle cx="608.6" cy="268.8" r="2.1" fill="#34b36e" fill-opacity="0.9"/>
<circle cx="627.4" cy="233.4" r="2.1" fill="#34b36e" fill-opacity="0.9"/>
<circle cx="633" cy="249.2" r="2.1" fill="#34b36e" fill-opacity="0.9"/>
<circle cx="642" cy="238.2" r="2.1" fill="#34b36e" fill-opacity="0.9"/>
<circle cx="640.9" cy="233.7" r="2.1" fill="#34b36e" fill-opacity="0.9"/>
<circle cx="663.6" cy="226.8" r="2.1" fill="#34b36e" fill-opacity="0.9"/>
<circle cx="662.2" cy="213" r="2.1" fill="#34b36e" fill-opacity="0.9"/>
<circle cx="664.3" cy="213.8" r="2.1" fill="#34b36e" fill-opacity="0.9"/>
<circle cx="658.8" cy="213.8" r="2.1" fill="#34b36e" fill-opacity="0.9"/>
<circle cx="570.4" cy="296.5" r="2.1" fill="#34b36e" fill-opacity="0.9"/>
<circle cx="569.3" cy="300.9" r="2.1" fill="#34b36e" fill-opacity="0.9"/>
<circle cx="577.9" cy="302.5" r="2.1" fill="#34b36e" fill-opacity="0.9"/>
<circle cx="582.5" cy="299.3" r="2.1" fill="#34b36e" fill-opacity="0.9"/>
<circle cx="569.6" cy="308.4" r="2.1" fill="#34b36e" fill-opacity="0.9"/>
<circle cx="566.8" cy="313.5" r="2.1" fill="#34b36e" fill-opacity="0.9"/>
<circle cx="564.2" cy="315.2" r="2.1" fill="#34b36e" fill-opacity="0.9"/>
<circle cx="610.5" cy="270.5" r="2.1" fill="#34b36e" fill-opacity="0.9"/>
<circle cx="596.9" cy="268.8" r="2.1" fill="#137a44" fill-opacity="0.92"/>
<circle cx="609.3" cy="269.5" r="2.1" fill="#137a44" fill-opacity="0.92"/>
<circle cx="612.7" cy="270.8" r="2.1" fill="#137a44" fill-opacity="0.92"/>
<circle cx="614.5" cy="271.2" r="2.1" fill="#137a44" fill-opacity="0.92"/>
<circle cx="626" cy="249.2" r="2.1" fill="#137a44" fill-opacity="0.92"/>
<circle cx="632.6" cy="238.2" r="2.1" fill="#137a44" fill-opacity="0.92"/>
<circle cx="635" cy="233.4" r="2.1" fill="#137a44" fill-opacity="0.92"/>
<circle cx="641.2" cy="233.4" r="2.1" fill="#137a44" fill-opacity="0.92"/>
<circle cx="643" cy="233.7" r="2.1" fill="#137a44" fill-opacity="0.92"/>
<circle cx="653.3" cy="213.8" r="2.1" fill="#137a44" fill-opacity="0.92"/>
<circle cx="655.7" cy="213.8" r="2.1" fill="#137a44" fill-opacity="0.92"/>
<circle cx="658.1" cy="213.8" r="2.1" fill="#137a44" fill-opacity="0.92"/>
<circle cx="658.8" cy="208.9" r="2.1" fill="#137a44" fill-opacity="0.92"/>
<circle cx="660.8" cy="210.3" r="2.1" fill="#137a44" fill-opacity="0.92"/>
<circle cx="663.6" cy="207.6" r="2.1" fill="#137a44" fill-opacity="0.92"/>
<circle cx="662.2" cy="211.7" r="2.1" fill="#137a44" fill-opacity="0.92"/>
<circle cx="660.2" cy="226.8" r="2.1" fill="#137a44" fill-opacity="0.92"/>
<circle cx="575.3" cy="296.8" r="2.1" fill="#137a44" fill-opacity="0.92"/>
<circle cx="571.9" cy="299.3" r="2.1" fill="#137a44" fill-opacity="0.92"/>
<circle cx="575.8" cy="301.9" r="2.1" fill="#137a44" fill-opacity="0.92"/>
<circle cx="576.6" cy="301" r="2.1" fill="#137a44" fill-opacity="0.92"/>
<circle cx="565.9" cy="309.2" r="2.1" fill="#137a44" fill-opacity="0.92"/>
<circle cx="567.2" cy="309.6" r="2.1" fill="#137a44" fill-opacity="0.92"/>
<circle cx="568.5" cy="308.8" r="2.1" fill="#137a44" fill-opacity="0.92"/>
<circle cx="565.5" cy="313.1" r="2.1" fill="#137a44" fill-opacity="0.92"/>
<circle cx="565.9" cy="314.4" r="2.1" fill="#137a44" fill-opacity="0.92"/>
<circle cx="565" cy="316.1" r="2.1" fill="#137a44" fill-opacity="0.92"/>
<circle cx="565" cy="317.4" r="2.1" fill="#137a44" fill-opacity="0.92"/>
<text x="555.8" y="348.8" font-size="7.45" fill="#111" stroke="#111" stroke-width="0.2">Obs. slope GFP<tspan font-size="4.6" dy="2">0–290 min</tspan><tspan dy="-2"> (RFU min</tspan><tspan font-size="4.6" dy="-3">−1</tspan><tspan dy="3">)</tspan></text>
<text transform="translate(531.2 322.2) rotate(-90)" font-size="7.45" fill="#111" stroke="#111" stroke-width="0.2">Pred. slope GFP<tspan font-size="4.6" dy="2">0–290 min</tspan><tspan dy="-2"> (RFU min</tspan><tspan font-size="4.6" dy="-3">−1</tspan><tspan dy="3">)</tspan></text>
<text x="-0.30" y="388.00" font-size="13.4" font-weight="bold" fill="#000" stroke="#000" stroke-width="0.2">e</text>
<text x="73.60" y="405.80" font-size="8.4" text-anchor="end" fill="#111" stroke="#111" stroke-width="0.2">Ridge Reg.</text>
<path d="M90.85,403.1 L79.25,403.1 A11.6,11.6 0 0 1 90.85,391.5 Z" fill="#cd6969"/>
<path d="M90.85,403.1 L90.85,391.5 A11.6,11.6 0 0 1 102.44999999999999,403.1 Z" fill="#c85a5a"/>
<path d="M90.85,403.1 L90.85,414.70000000000005 A11.6,11.6 0 0 1 79.25,403.1 Z" fill="#c85f5f"/>
<path d="M90.85,403.1 L102.44999999999999,403.1 A11.6,11.6 0 0 1 90.85,414.70000000000005 Z" fill="#d78282"/>
<line x1="79.25" y1="403.1" x2="102.44999999999999" y2="403.1" stroke="#fff" stroke-opacity="0.22" stroke-width="0.7"/>
<line x1="90.85" y1="391.5" x2="90.85" y2="414.70000000000005" stroke="#fff" stroke-opacity="0.22" stroke-width="0.7"/>
<circle cx="90.85" cy="403.1" r="11.6" fill="none" stroke="#151515" stroke-width="1.1"/>
<path d="M117.25,403.1 L105.65,403.1 A11.6,11.6 0 0 1 117.25,391.5 Z" fill="#cd6e6e"/>
<path d="M117.25,403.1 L117.25,391.5 A11.6,11.6 0 0 1 128.85,403.1 Z" fill="#c85c5c"/>
<path d="M117.25,403.1 L117.25,414.70000000000005 A11.6,11.6 0 0 1 105.65,403.1 Z" fill="#c85f5f"/>
<path d="M117.25,403.1 L128.85,403.1 A11.6,11.6 0 0 1 117.25,414.70000000000005 Z" fill="#d78282"/>
<line x1="105.65" y1="403.1" x2="128.85" y2="403.1" stroke="#fff" stroke-opacity="0.22" stroke-width="0.7"/>
<line x1="117.25" y1="391.5" x2="117.25" y2="414.70000000000005" stroke="#fff" stroke-opacity="0.22" stroke-width="0.7"/>
<circle cx="117.25" cy="403.1" r="11.6" fill="none" stroke="#151515" stroke-width="1.1"/>
<path d="M143.64999999999998,403.1 L132.04999999999998,403.1 A11.6,11.6 0 0 1 143.64999999999998,391.5 Z" fill="#cd6e6e"/>
<path d="M143.64999999999998,403.1 L143.64999999999998,391.5 A11.6,11.6 0 0 1 155.24999999999997,403.1 Z" fill="#c65858"/>
<path d="M143.64999999999998,403.1 L143.64999999999998,414.70000000000005 A11.6,11.6 0 0 1 132.04999999999998,403.1 Z" fill="#c85f5f"/>
<path d="M143.64999999999998,403.1 L155.24999999999997,403.1 A11.6,11.6 0 0 1 143.64999999999998,414.70000000000005 Z" fill="#d57d7d"/>
<line x1="132.04999999999998" y1="403.1" x2="155.24999999999997" y2="403.1" stroke="#fff" stroke-opacity="0.22" stroke-width="0.7"/>
<line x1="143.64999999999998" y1="391.5" x2="143.64999999999998" y2="414.70000000000005" stroke="#fff" stroke-opacity="0.22" stroke-width="0.7"/>
<circle cx="143.64999999999998" cy="403.1" r="11.6" fill="none" stroke="#151515" stroke-width="1.1"/>
<path d="M170.04999999999998,403.1 L158.45,403.1 A11.6,11.6 0 0 1 170.04999999999998,391.5 Z" fill="#cd6e6e"/>
<path d="M170.04999999999998,403.1 L170.04999999999998,391.5 A11.6,11.6 0 0 1 181.64999999999998,403.1 Z" fill="#c65858"/>
<path d="M170.04999999999998,403.1 L170.04999999999998,414.70000000000005 A11.6,11.6 0 0 1 158.45,403.1 Z" fill="#c85f5f"/>
<path d="M170.04999999999998,403.1 L181.64999999999998,403.1 A11.6,11.6 0 0 1 170.04999999999998,414.70000000000005 Z" fill="#d57d7d"/>
<line x1="158.45" y1="403.1" x2="181.64999999999998" y2="403.1" stroke="#fff" stroke-opacity="0.22" stroke-width="0.7"/>
<line x1="170.04999999999998" y1="391.5" x2="170.04999999999998" y2="414.70000000000005" stroke="#fff" stroke-opacity="0.22" stroke-width="0.7"/>
<circle cx="170.04999999999998" cy="403.1" r="11.6" fill="none" stroke="#151515" stroke-width="1.1"/>
<path d="M196.45,403.1 L184.85,403.1 A11.6,11.6 0 0 1 196.45,391.5 Z" fill="#cd6e6e"/>
<path d="M196.45,403.1 L196.45,391.5 A11.6,11.6 0 0 1 208.04999999999998,403.1 Z" fill="#c85a5a"/>
<path d="M196.45,403.1 L196.45,414.70000000000005 A11.6,11.6 0 0 1 184.85,403.1 Z" fill="#c85f5f"/>
<path d="M196.45,403.1 L208.04999999999998,403.1 A11.6,11.6 0 0 1 196.45,414.70000000000005 Z" fill="#d47d7d"/>
<line x1="184.85" y1="403.1" x2="208.04999999999998" y2="403.1" stroke="#fff" stroke-opacity="0.22" stroke-width="0.7"/>
<line x1="196.45" y1="391.5" x2="196.45" y2="414.70000000000005" stroke="#fff" stroke-opacity="0.22" stroke-width="0.7"/>
<circle cx="196.45" cy="403.1" r="11.6" fill="none" stroke="#151515" stroke-width="1.1"/>
<path d="M222.85,403.1 L211.25,403.1 A11.6,11.6 0 0 1 222.85,391.5 Z" fill="#cd6e6e"/>
<path d="M222.85,403.1 L222.85,391.5 A11.6,11.6 0 0 1 234.45,403.1 Z" fill="#c85a5a"/>
<path d="M222.85,403.1 L222.85,414.70000000000005 A11.6,11.6 0 0 1 211.25,403.1 Z" fill="#c85f5f"/>
<path d="M222.85,403.1 L234.45,403.1 A11.6,11.6 0 0 1 222.85,414.70000000000005 Z" fill="#d47d7d"/>
<line x1="211.25" y1="403.1" x2="234.45" y2="403.1" stroke="#fff" stroke-opacity="0.22" stroke-width="0.7"/>
<line x1="222.85" y1="391.5" x2="222.85" y2="414.70000000000005" stroke="#fff" stroke-opacity="0.22" stroke-width="0.7"/>
<circle cx="222.85" cy="403.1" r="11.6" fill="none" stroke="#151515" stroke-width="1.1"/>
<path d="M249.24999999999997,403.1 L237.64999999999998,403.1 A11.6,11.6 0 0 1 249.24999999999997,391.5 Z" fill="#cd6e6e"/>
<path d="M249.24999999999997,403.1 L249.24999999999997,391.5 A11.6,11.6 0 0 1 260.84999999999997,403.1 Z" fill="#c65858"/>
<path d="M249.24999999999997,403.1 L249.24999999999997,414.70000000000005 A11.6,11.6 0 0 1 237.64999999999998,403.1 Z" fill="#c85f5f"/>
<path d="M249.24999999999997,403.1 L260.84999999999997,403.1 A11.6,11.6 0 0 1 249.24999999999997,414.70000000000005 Z" fill="#d47d7d"/>
<line x1="237.64999999999998" y1="403.1" x2="260.84999999999997" y2="403.1" stroke="#fff" stroke-opacity="0.22" stroke-width="0.7"/>
<line x1="249.24999999999997" y1="391.5" x2="249.24999999999997" y2="414.70000000000005" stroke="#fff" stroke-opacity="0.22" stroke-width="0.7"/>
<circle cx="249.24999999999997" cy="403.1" r="11.6" fill="none" stroke="#151515" stroke-width="1.1"/>
<path d="M275.65,403.1 L264.04999999999995,403.1 A11.6,11.6 0 0 1 275.65,391.5 Z" fill="#cd6e6e"/>
<path d="M275.65,403.1 L275.65,391.5 A11.6,11.6 0 0 1 287.25,403.1 Z" fill="#c65858"/>
<path d="M275.65,403.1 L275.65,414.70000000000005 A11.6,11.6 0 0 1 264.04999999999995,403.1 Z" fill="#c85f5f"/>
<path d="M275.65,403.1 L287.25,403.1 A11.6,11.6 0 0 1 275.65,414.70000000000005 Z" fill="#d47d7d"/>
<line x1="264.04999999999995" y1="403.1" x2="287.25" y2="403.1" stroke="#fff" stroke-opacity="0.22" stroke-width="0.7"/>
<line x1="275.65" y1="391.5" x2="275.65" y2="414.70000000000005" stroke="#fff" stroke-opacity="0.22" stroke-width="0.7"/>
<circle cx="275.65" cy="403.1" r="11.6" fill="none" stroke="#151515" stroke-width="1.1"/>
<text x="73.60" y="432.20" font-size="8.4" text-anchor="end" fill="#111" stroke="#111" stroke-width="0.2">k-NN</text>
<path d="M90.85,429.5 L79.25,429.5 A11.6,11.6 0 0 1 90.85,417.9 Z" fill="#af191e"/>
<path d="M90.85,429.5 L90.85,417.9 A11.6,11.6 0 0 1 102.44999999999999,429.5 Z" fill="#c34b4b"/>
<path d="M90.85,429.5 L90.85,441.1 A11.6,11.6 0 0 1 79.25,429.5 Z" fill="#b42328"/>
<path d="M90.85,429.5 L102.44999999999999,429.5 A11.6,11.6 0 0 1 90.85,441.1 Z" fill="#c85555"/>
<line x1="79.25" y1="429.5" x2="102.44999999999999" y2="429.5" stroke="#fff" stroke-opacity="0.22" stroke-width="0.7"/>
<line x1="90.85" y1="417.9" x2="90.85" y2="441.1" stroke="#fff" stroke-opacity="0.22" stroke-width="0.7"/>
<circle cx="90.85" cy="429.5" r="11.6" fill="none" stroke="#151515" stroke-width="1.1"/>
<path d="M117.25,429.5 L105.65,429.5 A11.6,11.6 0 0 1 117.25,417.9 Z" fill="#b92d32"/>
<path d="M117.25,429.5 L117.25,417.9 A11.6,11.6 0 0 1 128.85,429.5 Z" fill="#c34b4b"/>
<path d="M117.25,429.5 L117.25,441.1 A11.6,11.6 0 0 1 105.65,429.5 Z" fill="#b93232"/>
<path d="M117.25,429.5 L128.85,429.5 A11.6,11.6 0 0 1 117.25,441.1 Z" fill="#c85a5a"/>
<line x1="105.65" y1="429.5" x2="128.85" y2="429.5" stroke="#fff" stroke-opacity="0.22" stroke-width="0.7"/>
<line x1="117.25" y1="417.9" x2="117.25" y2="441.1" stroke="#fff" stroke-opacity="0.22" stroke-width="0.7"/>
<circle cx="117.25" cy="429.5" r="11.6" fill="none" stroke="#151515" stroke-width="1.1"/>
<path d="M143.64999999999998,429.5 L132.04999999999998,429.5 A11.6,11.6 0 0 1 143.64999999999998,417.9 Z" fill="#c34b4b"/>
<path d="M143.64999999999998,429.5 L143.64999999999998,417.9 A11.6,11.6 0 0 1 155.24999999999997,429.5 Z" fill="#c35050"/>
<path d="M143.64999999999998,429.5 L143.64999999999998,441.1 A11.6,11.6 0 0 1 132.04999999999998,429.5 Z" fill="#be4141"/>
<path d="M143.64999999999998,429.5 L155.24999999999997,429.5 A11.6,11.6 0 0 1 143.64999999999998,441.1 Z" fill="#cd6e6e"/>
<line x1="132.04999999999998" y1="429.5" x2="155.24999999999997" y2="429.5" stroke="#fff" stroke-opacity="0.22" stroke-width="0.7"/>
<line x1="143.64999999999998" y1="417.9" x2="143.64999999999998" y2="441.1" stroke="#fff" stroke-opacity="0.22" stroke-width="0.7"/>
<circle cx="143.64999999999998" cy="429.5" r="11.6" fill="none" stroke="#151515" stroke-width="1.1"/>
<path d="M170.04999999999998,429.5 L158.45,429.5 A11.6,11.6 0 0 1 170.04999999999998,417.9 Z" fill="#cd6969"/>
<path d="M170.04999999999998,429.5 L170.04999999999998,417.9 A11.6,11.6 0 0 1 181.64999999999998,429.5 Z" fill="#c85a5a"/>
<path d="M170.04999999999998,429.5 L170.04999999999998,441.1 A11.6,11.6 0 0 1 158.45,429.5 Z" fill="#c85a5a"/>
<path d="M170.04999999999998,429.5 L181.64999999999998,429.5 A11.6,11.6 0 0 1 170.04999999999998,441.1 Z" fill="#d27d7d"/>
<line x1="158.45" y1="429.5" x2="181.64999999999998" y2="429.5" stroke="#fff" stroke-opacity="0.22" stroke-width="0.7"/>
<line x1="170.04999999999998" y1="417.9" x2="170.04999999999998" y2="441.1" stroke="#fff" stroke-opacity="0.22" stroke-width="0.7"/>
<circle cx="170.04999999999998" cy="429.5" r="11.6" fill="none" stroke="#151515" stroke-width="1.1"/>
<path d="M196.45,429.5 L184.85,429.5 A11.6,11.6 0 0 1 196.45,417.9 Z" fill="#d27878"/>
<path d="M196.45,429.5 L196.45,417.9 A11.6,11.6 0 0 1 208.04999999999998,429.5 Z" fill="#c85f5f"/>
<path d="M196.45,429.5 L196.45,441.1 A11.6,11.6 0 0 1 184.85,429.5 Z" fill="#cd6969"/>
<path d="M196.45,429.5 L208.04999999999998,429.5 A11.6,11.6 0 0 1 196.45,441.1 Z" fill="#d78787"/>
<line x1="184.85" y1="429.5" x2="208.04999999999998" y2="429.5" stroke="#fff" stroke-opacity="0.22" stroke-width="0.7"/>
<line x1="196.45" y1="417.9" x2="196.45" y2="441.1" stroke="#fff" stroke-opacity="0.22" stroke-width="0.7"/>
<circle cx="196.45" cy="429.5" r="11.6" fill="none" stroke="#151515" stroke-width="1.1"/>
<path d="M222.85,429.5 L211.25,429.5 A11.6,11.6 0 0 1 222.85,417.9 Z" fill="#dc9696"/>
<path d="M222.85,429.5 L222.85,417.9 A11.6,11.6 0 0 1 234.45,429.5 Z" fill="#cd6969"/>
<path d="M222.85,429.5 L222.85,441.1 A11.6,11.6 0 0 1 211.25,429.5 Z" fill="#d78c8c"/>
<path d="M222.85,429.5 L234.45,429.5 A11.6,11.6 0 0 1 222.85,441.1 Z" fill="#dc9b9b"/>
<line x1="211.25" y1="429.5" x2="234.45" y2="429.5" stroke="#fff" stroke-opacity="0.22" stroke-width="0.7"/>
<line x1="222.85" y1="417.9" x2="222.85" y2="441.1" stroke="#fff" stroke-opacity="0.22" stroke-width="0.7"/>
<circle cx="222.85" cy="429.5" r="11.6" fill="none" stroke="#151515" stroke-width="1.1"/>
<path d="M249.24999999999997,429.5 L237.64999999999998,429.5 A11.6,11.6 0 0 1 249.24999999999997,417.9 Z" fill="#ebbebe"/>
<path d="M249.24999999999997,429.5 L249.24999999999997,417.9 A11.6,11.6 0 0 1 260.84999999999997,429.5 Z" fill="#d78282"/>
<path d="M249.24999999999997,429.5 L249.24999999999997,441.1 A11.6,11.6 0 0 1 237.64999999999998,429.5 Z" fill="#dc9b9b"/>
<path d="M249.24999999999997,429.5 L260.84999999999997,429.5 A11.6,11.6 0 0 1 249.24999999999997,441.1 Z" fill="#e6afaf"/>
<line x1="237.64999999999998" y1="429.5" x2="260.84999999999997" y2="429.5" stroke="#fff" stroke-opacity="0.22" stroke-width="0.7"/>
<line x1="249.24999999999997" y1="417.9" x2="249.24999999999997" y2="441.1" stroke="#fff" stroke-opacity="0.22" stroke-width="0.7"/>
<circle cx="249.24999999999997" cy="429.5" r="11.6" fill="none" stroke="#151515" stroke-width="1.1"/>
<path d="M275.65,429.5 L264.04999999999995,429.5 A11.6,11.6 0 0 1 275.65,417.9 Z" fill="#edc8c8"/>
<path d="M275.65,429.5 L275.65,417.9 A11.6,11.6 0 0 1 287.25,429.5 Z" fill="#dc9191"/>
<path d="M275.65,429.5 L275.65,441.1 A11.6,11.6 0 0 1 264.04999999999995,429.5 Z" fill="#e1a5a5"/>
<path d="M275.65,429.5 L287.25,429.5 A11.6,11.6 0 0 1 275.65,441.1 Z" fill="#ebbebe"/>
<line x1="264.04999999999995" y1="429.5" x2="287.25" y2="429.5" stroke="#fff" stroke-opacity="0.22" stroke-width="0.7"/>
<line x1="275.65" y1="417.9" x2="275.65" y2="441.1" stroke="#fff" stroke-opacity="0.22" stroke-width="0.7"/>
<circle cx="275.65" cy="429.5" r="11.6" fill="none" stroke="#151515" stroke-width="1.1"/>
<text x="73.60" y="458.60" font-size="8.4" text-anchor="end" fill="#111" stroke="#111" stroke-width="0.2">Random Forest</text>
<path d="M90.85,455.90000000000003 L79.25,455.90000000000003 A11.6,11.6 0 0 1 90.85,444.3 Z" fill="#dc9696"/>
<path d="M90.85,455.90000000000003 L90.85,444.3 A11.6,11.6 0 0 1 102.44999999999999,455.90000000000003 Z" fill="#cd6e6e"/>
<path d="M90.85,455.90000000000003 L90.85,467.50000000000006 A11.6,11.6 0 0 1 79.25,455.90000000000003 Z" fill="#d27d7d"/>
<path d="M90.85,455.90000000000003 L102.44999999999999,455.90000000000003 A11.6,11.6 0 0 1 90.85,467.50000000000006 Z" fill="#e1a5a5"/>
<line x1="79.25" y1="455.90000000000003" x2="102.44999999999999" y2="455.90000000000003" stroke="#fff" stroke-opacity="0.22" stroke-width="0.7"/>
<line x1="90.85" y1="444.3" x2="90.85" y2="467.50000000000006" stroke="#fff" stroke-opacity="0.22" stroke-width="0.7"/>
<circle cx="90.85" cy="455.90000000000003" r="11.6" fill="none" stroke="#151515" stroke-width="1.1"/>
<path d="M117.25,455.90000000000003 L105.65,455.90000000000003 A11.6,11.6 0 0 1 117.25,444.3 Z" fill="#eecdcd"/>
<path d="M117.25,455.90000000000003 L117.25,444.3 A11.6,11.6 0 0 1 128.85,455.90000000000003 Z" fill="#dc9191"/>
<path d="M117.25,455.90000000000003 L117.25,467.50000000000006 A11.6,11.6 0 0 1 105.65,455.90000000000003 Z" fill="#e4afaf"/>
<path d="M117.25,455.90000000000003 L128.85,455.90000000000003 A11.6,11.6 0 0 1 117.25,467.50000000000006 Z" fill="#eecdcd"/>
<line x1="105.65" y1="455.90000000000003" x2="128.85" y2="455.90000000000003" stroke="#fff" stroke-opacity="0.22" stroke-width="0.7"/>
<line x1="117.25" y1="444.3" x2="117.25" y2="467.50000000000006" stroke="#fff" stroke-opacity="0.22" stroke-width="0.7"/>
<circle cx="117.25" cy="455.90000000000003" r="11.6" fill="none" stroke="#151515" stroke-width="1.1"/>
<path d="M143.64999999999998,455.90000000000003 L132.04999999999998,455.90000000000003 A11.6,11.6 0 0 1 143.64999999999998,444.3 Z" fill="#f5e4e4"/>
<path d="M143.64999999999998,455.90000000000003 L143.64999999999998,444.3 A11.6,11.6 0 0 1 155.24999999999997,455.90000000000003 Z" fill="#e1a0a0"/>
<path d="M143.64999999999998,455.90000000000003 L143.64999999999998,467.50000000000006 A11.6,11.6 0 0 1 132.04999999999998,455.90000000000003 Z" fill="#eecdcd"/>
<path d="M143.64999999999998,455.90000000000003 L155.24999999999997,455.90000000000003 A11.6,11.6 0 0 1 143.64999999999998,467.50000000000006 Z" fill="#f5e1e1"/>
<line x1="132.04999999999998" y1="455.90000000000003" x2="155.24999999999997" y2="455.90000000000003" stroke="#fff" stroke-opacity="0.22" stroke-width="0.7"/>
<line x1="143.64999999999998" y1="444.3" x2="143.64999999999998" y2="467.50000000000006" stroke="#fff" stroke-opacity="0.22" stroke-width="0.7"/>
<circle cx="143.64999999999998" cy="455.90000000000003" r="11.6" fill="none" stroke="#151515" stroke-width="1.1"/>
<path d="M170.04999999999998,455.90000000000003 L158.45,455.90000000000003 A11.6,11.6 0 0 1 170.04999999999998,444.3 Z" fill="#f3f3f8"/>
<path d="M170.04999999999998,455.90000000000003 L170.04999999999998,444.3 A11.6,11.6 0 0 1 181.64999999999998,455.90000000000003 Z" fill="#ebbebe"/>
<path d="M170.04999999999998,455.90000000000003 L170.04999999999998,467.50000000000006 A11.6,11.6 0 0 1 158.45,455.90000000000003 Z" fill="#f5e6e6"/>
<path d="M170.04999999999998,455.90000000000003 L181.64999999999998,455.90000000000003 A11.6,11.6 0 0 1 170.04999999999998,467.50000000000006 Z" fill="#ffffff"/>
<line x1="158.45" y1="455.90000000000003" x2="181.64999999999998" y2="455.90000000000003" stroke="#fff" stroke-opacity="0.22" stroke-width="0.7"/>
<line x1="170.04999999999998" y1="444.3" x2="170.04999999999998" y2="467.50000000000006" stroke="#fff" stroke-opacity="0.22" stroke-width="0.7"/>
<circle cx="170.04999999999998" cy="455.90000000000003" r="11.6" fill="none" stroke="#151515" stroke-width="1.1"/>
<path d="M196.45,455.90000000000003 L184.85,455.90000000000003 A11.6,11.6 0 0 1 196.45,444.3 Z" fill="#dcdcee"/>
<path d="M196.45,455.90000000000003 L196.45,444.3 A11.6,11.6 0 0 1 208.04999999999998,455.90000000000003 Z" fill="#f0dada"/>
<path d="M196.45,455.90000000000003 L196.45,467.50000000000006 A11.6,11.6 0 0 1 184.85,455.90000000000003 Z" fill="#f5f5fa"/>
<path d="M196.45,455.90000000000003 L208.04999999999998,455.90000000000003 A11.6,11.6 0 0 1 196.45,467.50000000000006 Z" fill="#e8e8f5"/>
<line x1="184.85" y1="455.90000000000003" x2="208.04999999999998" y2="455.90000000000003" stroke="#fff" stroke-opacity="0.22" stroke-width="0.7"/>
<line x1="196.45" y1="444.3" x2="196.45" y2="467.50000000000006" stroke="#fff" stroke-opacity="0.22" stroke-width="0.7"/>
<circle cx="196.45" cy="455.90000000000003" r="11.6" fill="none" stroke="#151515" stroke-width="1.1"/>
<path d="M222.85,455.90000000000003 L211.25,455.90000000000003 A11.6,11.6 0 0 1 222.85,444.3 Z" fill="#c8c8e6"/>
<path d="M222.85,455.90000000000003 L222.85,444.3 A11.6,11.6 0 0 1 234.45,455.90000000000003 Z" fill="#f8eeee"/>
<path d="M222.85,455.90000000000003 L222.85,467.50000000000006 A11.6,11.6 0 0 1 211.25,455.90000000000003 Z" fill="#e1e1f2"/>
<path d="M222.85,455.90000000000003 L234.45,455.90000000000003 A11.6,11.6 0 0 1 222.85,467.50000000000006 Z" fill="#dedef0"/>
<line x1="211.25" y1="455.90000000000003" x2="234.45" y2="455.90000000000003" stroke="#fff" stroke-opacity="0.22" stroke-width="0.7"/>
<line x1="222.85" y1="444.3" x2="222.85" y2="467.50000000000006" stroke="#fff" stroke-opacity="0.22" stroke-width="0.7"/>
<circle cx="222.85" cy="455.90000000000003" r="11.6" fill="none" stroke="#151515" stroke-width="1.1"/>
<path d="M249.24999999999997,455.90000000000003 L237.64999999999998,455.90000000000003 A11.6,11.6 0 0 1 249.24999999999997,444.3 Z" fill="#afafdc"/>
<path d="M249.24999999999997,455.90000000000003 L249.24999999999997,444.3 A11.6,11.6 0 0 1 260.84999999999997,455.90000000000003 Z" fill="#ffffff"/>
<path d="M249.24999999999997,455.90000000000003 L249.24999999999997,467.50000000000006 A11.6,11.6 0 0 1 237.64999999999998,455.90000000000003 Z" fill="#cdcde8"/>
<path d="M249.24999999999997,455.90000000000003 L260.84999999999997,455.90000000000003 A11.6,11.6 0 0 1 249.24999999999997,467.50000000000006 Z" fill="#cdcde8"/>
<line x1="237.64999999999998" y1="455.90000000000003" x2="260.84999999999997" y2="455.90000000000003" stroke="#fff" stroke-opacity="0.22" stroke-width="0.7"/>
<line x1="249.24999999999997" y1="444.3" x2="249.24999999999997" y2="467.50000000000006" stroke="#fff" stroke-opacity="0.22" stroke-width="0.7"/>
<circle cx="249.24999999999997" cy="455.90000000000003" r="11.6" fill="none" stroke="#151515" stroke-width="1.1"/>
<path d="M275.65,455.90000000000003 L264.04999999999995,455.90000000000003 A11.6,11.6 0 0 1 275.65,444.3 Z" fill="#aaaada"/>
<path d="M275.65,455.90000000000003 L275.65,444.3 A11.6,11.6 0 0 1 287.25,455.90000000000003 Z" fill="#ebebf5"/>
<path d="M275.65,455.90000000000003 L275.65,467.50000000000006 A11.6,11.6 0 0 1 264.04999999999995,455.90000000000003 Z" fill="#c3c3e4"/>
<path d="M275.65,455.90000000000003 L287.25,455.90000000000003 A11.6,11.6 0 0 1 275.65,467.50000000000006 Z" fill="#c3c3e4"/>
<line x1="264.04999999999995" y1="455.90000000000003" x2="287.25" y2="455.90000000000003" stroke="#fff" stroke-opacity="0.22" stroke-width="0.7"/>
<line x1="275.65" y1="444.3" x2="275.65" y2="467.50000000000006" stroke="#fff" stroke-opacity="0.22" stroke-width="0.7"/>
<circle cx="275.65" cy="455.90000000000003" r="11.6" fill="none" stroke="#151515" stroke-width="1.1"/>
<text x="73.60" y="485.00" font-size="8.4" text-anchor="end" fill="#111" stroke="#111" stroke-width="0.2">GTB</text>
<path d="M90.85,482.3 L79.25,482.3 A11.6,11.6 0 0 1 90.85,470.7 Z" fill="#ebc3c3"/>
<path d="M90.85,482.3 L90.85,470.7 A11.6,11.6 0 0 1 102.44999999999999,482.3 Z" fill="#dc9696"/>
<path d="M90.85,482.3 L90.85,493.90000000000003 A11.6,11.6 0 0 1 79.25,482.3 Z" fill="#e6b4b4"/>
<path d="M90.85,482.3 L102.44999999999999,482.3 A11.6,11.6 0 0 1 90.85,493.90000000000003 Z" fill="#e6b4b4"/>
<line x1="79.25" y1="482.3" x2="102.44999999999999" y2="482.3" stroke="#fff" stroke-opacity="0.22" stroke-width="0.7"/>
<line x1="90.85" y1="470.7" x2="90.85" y2="493.90000000000003" stroke="#fff" stroke-opacity="0.22" stroke-width="0.7"/>
<circle cx="90.85" cy="482.3" r="11.6" fill="none" stroke="#151515" stroke-width="1.1"/>
<path d="M117.25,482.3 L105.65,482.3 A11.6,11.6 0 0 1 117.25,470.7 Z" fill="#f3f3f8"/>
<path d="M117.25,482.3 L117.25,470.7 A11.6,11.6 0 0 1 128.85,482.3 Z" fill="#ebbebe"/>
<path d="M117.25,482.3 L117.25,493.90000000000003 A11.6,11.6 0 0 1 105.65,482.3 Z" fill="#f8f5f5"/>
<path d="M117.25,482.3 L128.85,482.3 A11.6,11.6 0 0 1 117.25,493.90000000000003 Z" fill="#ebbebe"/>
<line x1="105.65" y1="482.3" x2="128.85" y2="482.3" stroke="#fff" stroke-opacity="0.22" stroke-width="0.7"/>
<line x1="117.25" y1="470.7" x2="117.25" y2="493.90000000000003" stroke="#fff" stroke-opacity="0.22" stroke-width="0.7"/>
<circle cx="117.25" cy="482.3" r="11.6" fill="none" stroke="#151515" stroke-width="1.1"/>
<path d="M143.64999999999998,482.3 L132.04999999999998,482.3 A11.6,11.6 0 0 1 143.64999999999998,470.7 Z" fill="#c8c8e6"/>
<path d="M143.64999999999998,482.3 L143.64999999999998,470.7 A11.6,11.6 0 0 1 155.24999999999997,482.3 Z" fill="#f0d7d7"/>
<path d="M143.64999999999998,482.3 L143.64999999999998,493.90000000000003 A11.6,11.6 0 0 1 132.04999999999998,482.3 Z" fill="#dcdcee"/>
<path d="M143.64999999999998,482.3 L155.24999999999997,482.3 A11.6,11.6 0 0 1 143.64999999999998,493.90000000000003 Z" fill="#e1e1f0"/>
<line x1="132.04999999999998" y1="482.3" x2="155.24999999999997" y2="482.3" stroke="#fff" stroke-opacity="0.22" stroke-width="0.7"/>
<line x1="143.64999999999998" y1="470.7" x2="143.64999999999998" y2="493.90000000000003" stroke="#fff" stroke-opacity="0.22" stroke-width="0.7"/>
<circle cx="143.64999999999998" cy="482.3" r="11.6" fill="none" stroke="#151515" stroke-width="1.1"/>
<path d="M170.04999999999998,482.3 L158.45,482.3 A11.6,11.6 0 0 1 170.04999999999998,470.7 Z" fill="#a0a0d7"/>
<path d="M170.04999999999998,482.3 L170.04999999999998,470.7 A11.6,11.6 0 0 1 181.64999999999998,482.3 Z" fill="#fcf8fa"/>
<path d="M170.04999999999998,482.3 L170.04999999999998,493.90000000000003 A11.6,11.6 0 0 1 158.45,482.3 Z" fill="#c3c3e6"/>
<path d="M170.04999999999998,482.3 L181.64999999999998,482.3 A11.6,11.6 0 0 1 170.04999999999998,493.90000000000003 Z" fill="#d2d2eb"/>
<line x1="158.45" y1="482.3" x2="181.64999999999998" y2="482.3" stroke="#fff" stroke-opacity="0.22" stroke-width="0.7"/>
<line x1="170.04999999999998" y1="470.7" x2="170.04999999999998" y2="493.90000000000003" stroke="#fff" stroke-opacity="0.22" stroke-width="0.7"/>
<circle cx="170.04999999999998" cy="482.3" r="11.6" fill="none" stroke="#151515" stroke-width="1.1"/>
<path d="M196.45,482.3 L184.85,482.3 A11.6,11.6 0 0 1 196.45,470.7 Z" fill="#8c8cc8"/>
<path d="M196.45,482.3 L196.45,470.7 A11.6,11.6 0 0 1 208.04999999999998,482.3 Z" fill="#e4e4f2"/>
<path d="M196.45,482.3 L196.45,493.90000000000003 A11.6,11.6 0 0 1 184.85,482.3 Z" fill="#afafdc"/>
<path d="M196.45,482.3 L208.04999999999998,482.3 A11.6,11.6 0 0 1 196.45,493.90000000000003 Z" fill="#dcdcee"/>
<line x1="184.85" y1="482.3" x2="208.04999999999998" y2="482.3" stroke="#fff" stroke-opacity="0.22" stroke-width="0.7"/>
<line x1="196.45" y1="470.7" x2="196.45" y2="493.90000000000003" stroke="#fff" stroke-opacity="0.22" stroke-width="0.7"/>
<circle cx="196.45" cy="482.3" r="11.6" fill="none" stroke="#151515" stroke-width="1.1"/>
<path d="M222.85,482.3 L211.25,482.3 A11.6,11.6 0 0 1 222.85,470.7 Z" fill="#7878be"/>
<path d="M222.85,482.3 L222.85,470.7 A11.6,11.6 0 0 1 234.45,482.3 Z" fill="#b9b9de"/>
<path d="M222.85,482.3 L222.85,493.90000000000003 A11.6,11.6 0 0 1 211.25,482.3 Z" fill="#9696cd"/>
<path d="M222.85,482.3 L234.45,482.3 A11.6,11.6 0 0 1 222.85,493.90000000000003 Z" fill="#aaaad7"/>
<line x1="211.25" y1="482.3" x2="234.45" y2="482.3" stroke="#fff" stroke-opacity="0.22" stroke-width="0.7"/>
<line x1="222.85" y1="470.7" x2="222.85" y2="493.90000000000003" stroke="#fff" stroke-opacity="0.22" stroke-width="0.7"/>
<circle cx="222.85" cy="482.3" r="11.6" fill="none" stroke="#151515" stroke-width="1.1"/>
<path d="M249.24999999999997,482.3 L237.64999999999998,482.3 A11.6,11.6 0 0 1 249.24999999999997,470.7 Z" fill="#5f5faf"/>
<path d="M249.24999999999997,482.3 L249.24999999999997,470.7 A11.6,11.6 0 0 1 260.84999999999997,482.3 Z" fill="#afafda"/>
<path d="M249.24999999999997,482.3 L249.24999999999997,493.90000000000003 A11.6,11.6 0 0 1 237.64999999999998,482.3 Z" fill="#7878be"/>
<path d="M249.24999999999997,482.3 L260.84999999999997,482.3 A11.6,11.6 0 0 1 249.24999999999997,493.90000000000003 Z" fill="#a0a0d2"/>
<line x1="237.64999999999998" y1="482.3" x2="260.84999999999997" y2="482.3" stroke="#fff" stroke-opacity="0.22" stroke-width="0.7"/>
<line x1="249.24999999999997" y1="470.7" x2="249.24999999999997" y2="493.90000000000003" stroke="#fff" stroke-opacity="0.22" stroke-width="0.7"/>
<circle cx="249.24999999999997" cy="482.3" r="11.6" fill="none" stroke="#151515" stroke-width="1.1"/>
<path d="M275.65,482.3 L264.04999999999995,482.3 A11.6,11.6 0 0 1 275.65,470.7 Z" fill="#5a5aaa"/>
<path d="M275.65,482.3 L275.65,470.7 A11.6,11.6 0 0 1 287.25,482.3 Z" fill="#a5a5d4"/>
<path d="M275.65,482.3 L275.65,493.90000000000003 A11.6,11.6 0 0 1 264.04999999999995,482.3 Z" fill="#7373b9"/>
<path d="M275.65,482.3 L287.25,482.3 A11.6,11.6 0 0 1 275.65,493.90000000000003 Z" fill="#a0a0d2"/>
<line x1="264.04999999999995" y1="482.3" x2="287.25" y2="482.3" stroke="#fff" stroke-opacity="0.22" stroke-width="0.7"/>
<line x1="275.65" y1="470.7" x2="275.65" y2="493.90000000000003" stroke="#fff" stroke-opacity="0.22" stroke-width="0.7"/>
<circle cx="275.65" cy="482.3" r="11.6" fill="none" stroke="#151515" stroke-width="1.1"/>
<text x="73.60" y="511.40" font-size="8.4" text-anchor="end" fill="#111" stroke="#111" stroke-width="0.2">ResNet</text>
<path d="M90.85,508.70000000000005 L79.25,508.70000000000005 A11.6,11.6 0 0 1 90.85,497.1 Z" fill="#e1e1f0"/>
<path d="M90.85,508.70000000000005 L90.85,497.1 A11.6,11.6 0 0 1 102.44999999999999,508.70000000000005 Z" fill="#f3e1e1"/>
<path d="M90.85,508.70000000000005 L90.85,520.3000000000001 A11.6,11.6 0 0 1 79.25,508.70000000000005 Z" fill="#ffffff"/>
<path d="M90.85,508.70000000000005 L102.44999999999999,508.70000000000005 A11.6,11.6 0 0 1 90.85,520.3000000000001 Z" fill="#d7d7ee"/>
<line x1="79.25" y1="508.70000000000005" x2="102.44999999999999" y2="508.70000000000005" stroke="#fff" stroke-opacity="0.22" stroke-width="0.7"/>
<line x1="90.85" y1="497.1" x2="90.85" y2="520.3000000000001" stroke="#fff" stroke-opacity="0.22" stroke-width="0.7"/>
<circle cx="90.85" cy="508.70000000000005" r="11.6" fill="none" stroke="#151515" stroke-width="1.1"/>
<path d="M117.25,508.70000000000005 L105.65,508.70000000000005 A11.6,11.6 0 0 1 117.25,497.1 Z" fill="#9696cd"/>
<path d="M117.25,508.70000000000005 L117.25,497.1 A11.6,11.6 0 0 1 128.85,508.70000000000005 Z" fill="#e1e1f0"/>
<path d="M117.25,508.70000000000005 L117.25,520.3000000000001 A11.6,11.6 0 0 1 105.65,508.70000000000005 Z" fill="#afafdc"/>
<path d="M117.25,508.70000000000005 L128.85,508.70000000000005 A11.6,11.6 0 0 1 117.25,520.3000000000001 Z" fill="#a5a5d7"/>
<line x1="105.65" y1="508.70000000000005" x2="128.85" y2="508.70000000000005" stroke="#fff" stroke-opacity="0.22" stroke-width="0.7"/>
<line x1="117.25" y1="497.1" x2="117.25" y2="520.3000000000001" stroke="#fff" stroke-opacity="0.22" stroke-width="0.7"/>
<circle cx="117.25" cy="508.70000000000005" r="11.6" fill="none" stroke="#151515" stroke-width="1.1"/>
<path d="M143.64999999999998,508.70000000000005 L132.04999999999998,508.70000000000005 A11.6,11.6 0 0 1 143.64999999999998,497.1 Z" fill="#7d7dc3"/>
<path d="M143.64999999999998,508.70000000000005 L143.64999999999998,497.1 A11.6,11.6 0 0 1 155.24999999999997,508.70000000000005 Z" fill="#b4b4de"/>
<path d="M143.64999999999998,508.70000000000005 L143.64999999999998,520.3000000000001 A11.6,11.6 0 0 1 132.04999999999998,508.70000000000005 Z" fill="#9696cd"/>
<path d="M143.64999999999998,508.70000000000005 L155.24999999999997,508.70000000000005 A11.6,11.6 0 0 1 143.64999999999998,520.3000000000001 Z" fill="#9191cb"/>
<line x1="132.04999999999998" y1="508.70000000000005" x2="155.24999999999997" y2="508.70000000000005" stroke="#fff" stroke-opacity="0.22" stroke-width="0.7"/>
<line x1="143.64999999999998" y1="497.1" x2="143.64999999999998" y2="520.3000000000001" stroke="#fff" stroke-opacity="0.22" stroke-width="0.7"/>
<circle cx="143.64999999999998" cy="508.70000000000005" r="11.6" fill="none" stroke="#151515" stroke-width="1.1"/>
<path d="M170.04999999999998,508.70000000000005 L158.45,508.70000000000005 A11.6,11.6 0 0 1 170.04999999999998,497.1 Z" fill="#6464b4"/>
<path d="M170.04999999999998,508.70000000000005 L170.04999999999998,497.1 A11.6,11.6 0 0 1 181.64999999999998,508.70000000000005 Z" fill="#9696cd"/>
<path d="M170.04999999999998,508.70000000000005 L170.04999999999998,520.3000000000001 A11.6,11.6 0 0 1 158.45,508.70000000000005 Z" fill="#7d7dc0"/>
<path d="M170.04999999999998,508.70000000000005 L181.64999999999998,508.70000000000005 A11.6,11.6 0 0 1 170.04999999999998,520.3000000000001 Z" fill="#7878be"/>
<line x1="158.45" y1="508.70000000000005" x2="181.64999999999998" y2="508.70000000000005" stroke="#fff" stroke-opacity="0.22" stroke-width="0.7"/>
<line x1="170.04999999999998" y1="497.1" x2="170.04999999999998" y2="520.3000000000001" stroke="#fff" stroke-opacity="0.22" stroke-width="0.7"/>
<circle cx="170.04999999999998" cy="508.70000000000005" r="11.6" fill="none" stroke="#151515" stroke-width="1.1"/>
<path d="M196.45,508.70000000000005 L184.85,508.70000000000005 A11.6,11.6 0 0 1 196.45,497.1 Z" fill="#5555aa"/>
<path d="M196.45,508.70000000000005 L196.45,497.1 A11.6,11.6 0 0 1 208.04999999999998,508.70000000000005 Z" fill="#7878be"/>
<path d="M196.45,508.70000000000005 L196.45,520.3000000000001 A11.6,11.6 0 0 1 184.85,508.70000000000005 Z" fill="#5f5faf"/>
<path d="M196.45,508.70000000000005 L208.04999999999998,508.70000000000005 A11.6,11.6 0 0 1 196.45,520.3000000000001 Z" fill="#6464b2"/>
<line x1="184.85" y1="508.70000000000005" x2="208.04999999999998" y2="508.70000000000005" stroke="#fff" stroke-opacity="0.22" stroke-width="0.7"/>
<line x1="196.45" y1="497.1" x2="196.45" y2="520.3000000000001" stroke="#fff" stroke-opacity="0.22" stroke-width="0.7"/>
<circle cx="196.45" cy="508.70000000000005" r="11.6" fill="none" stroke="#151515" stroke-width="1.1"/>
<path d="M222.85,508.70000000000005 L211.25,508.70000000000005 A11.6,11.6 0 0 1 222.85,497.1 Z" fill="#4646a0"/>
<path d="M222.85,508.70000000000005 L222.85,497.1 A11.6,11.6 0 0 1 234.45,508.70000000000005 Z" fill="#5a5aac"/>
<path d="M222.85,508.70000000000005 L222.85,520.3000000000001 A11.6,11.6 0 0 1 211.25,508.70000000000005 Z" fill="#4b4ba5"/>
<path d="M222.85,508.70000000000005 L234.45,508.70000000000005 A11.6,11.6 0 0 1 222.85,520.3000000000001 Z" fill="#5555aa"/>
<line x1="211.25" y1="508.70000000000005" x2="234.45" y2="508.70000000000005" stroke="#fff" stroke-opacity="0.22" stroke-width="0.7"/>
<line x1="222.85" y1="497.1" x2="222.85" y2="520.3000000000001" stroke="#fff" stroke-opacity="0.22" stroke-width="0.7"/>
<circle cx="222.85" cy="508.70000000000005" r="11.6" fill="none" stroke="#151515" stroke-width="1.1"/>
<path d="M249.24999999999997,508.70000000000005 L237.64999999999998,508.70000000000005 A11.6,11.6 0 0 1 249.24999999999997,497.1 Z" fill="#4141a0"/>
<path d="M249.24999999999997,508.70000000000005 L249.24999999999997,497.1 A11.6,11.6 0 0 1 260.84999999999997,508.70000000000005 Z" fill="#5050a5"/>
<path d="M249.24999999999997,508.70000000000005 L249.24999999999997,520.3000000000001 A11.6,11.6 0 0 1 237.64999999999998,508.70000000000005 Z" fill="#3c3c9b"/>
<path d="M249.24999999999997,508.70000000000005 L260.84999999999997,508.70000000000005 A11.6,11.6 0 0 1 249.24999999999997,520.3000000000001 Z" fill="#4b4ba2"/>
<line x1="237.64999999999998" y1="508.70000000000005" x2="260.84999999999997" y2="508.70000000000005" stroke="#fff" stroke-opacity="0.22" stroke-width="0.7"/>
<line x1="249.24999999999997" y1="497.1" x2="249.24999999999997" y2="520.3000000000001" stroke="#fff" stroke-opacity="0.22" stroke-width="0.7"/>
<circle cx="249.24999999999997" cy="508.70000000000005" r="11.6" fill="none" stroke="#151515" stroke-width="1.1"/>
<path d="M275.65,508.70000000000005 L264.04999999999995,508.70000000000005 A11.6,11.6 0 0 1 275.65,497.1 Z" fill="#3c3c9b"/>
<path d="M275.65,508.70000000000005 L275.65,497.1 A11.6,11.6 0 0 1 287.25,508.70000000000005 Z" fill="#4646a0"/>
<path d="M275.65,508.70000000000005 L275.65,520.3000000000001 A11.6,11.6 0 0 1 264.04999999999995,508.70000000000005 Z" fill="#3c3c96"/>
<path d="M275.65,508.70000000000005 L287.25,508.70000000000005 A11.6,11.6 0 0 1 275.65,520.3000000000001 Z" fill="#4646a0"/>
<line x1="264.04999999999995" y1="508.70000000000005" x2="287.25" y2="508.70000000000005" stroke="#fff" stroke-opacity="0.22" stroke-width="0.7"/>
<line x1="275.65" y1="497.1" x2="275.65" y2="520.3000000000001" stroke="#fff" stroke-opacity="0.22" stroke-width="0.7"/>
<circle cx="275.65" cy="508.70000000000005" r="11.6" fill="none" stroke="#151515" stroke-width="1.1"/>
<text x="73.60" y="537.80" font-size="8.4" text-anchor="end" fill="#111" stroke="#111" stroke-width="0.2">SAPIENs</text>
<path d="M90.85,535.1 L79.25,535.1 A11.6,11.6 0 0 1 90.85,523.5 Z" fill="#b4b4de"/>
<path d="M90.85,535.1 L90.85,523.5 A11.6,11.6 0 0 1 102.44999999999999,535.1 Z" fill="#e1e1f0"/>
<path d="M90.85,535.1 L90.85,546.7 A11.6,11.6 0 0 1 79.25,535.1 Z" fill="#d2d2eb"/>
<path d="M90.85,535.1 L102.44999999999999,535.1 A11.6,11.6 0 0 1 90.85,546.7 Z" fill="#b9b9e1"/>
<line x1="79.25" y1="535.1" x2="102.44999999999999" y2="535.1" stroke="#fff" stroke-opacity="0.22" stroke-width="0.7"/>
<line x1="90.85" y1="523.5" x2="90.85" y2="546.7" stroke="#fff" stroke-opacity="0.22" stroke-width="0.7"/>
<circle cx="90.85" cy="535.1" r="11.6" fill="none" stroke="#151515" stroke-width="1.1"/>
<path d="M117.25,535.1 L105.65,535.1 A11.6,11.6 0 0 1 117.25,523.5 Z" fill="#8282c3"/>
<path d="M117.25,535.1 L117.25,523.5 A11.6,11.6 0 0 1 128.85,535.1 Z" fill="#afafdc"/>
<path d="M117.25,535.1 L117.25,546.7 A11.6,11.6 0 0 1 105.65,535.1 Z" fill="#9b9bd0"/>
<path d="M117.25,535.1 L128.85,535.1 A11.6,11.6 0 0 1 117.25,546.7 Z" fill="#9696cd"/>
<line x1="105.65" y1="535.1" x2="128.85" y2="535.1" stroke="#fff" stroke-opacity="0.22" stroke-width="0.7"/>
<line x1="117.25" y1="523.5" x2="117.25" y2="546.7" stroke="#fff" stroke-opacity="0.22" stroke-width="0.7"/>
<circle cx="117.25" cy="535.1" r="11.6" fill="none" stroke="#151515" stroke-width="1.1"/>
<path d="M143.64999999999998,535.1 L132.04999999999998,535.1 A11.6,11.6 0 0 1 143.64999999999998,523.5 Z" fill="#6969b4"/>
<path d="M143.64999999999998,535.1 L143.64999999999998,523.5 A11.6,11.6 0 0 1 155.24999999999997,535.1 Z" fill="#8c8cc8"/>
<path d="M143.64999999999998,535.1 L143.64999999999998,546.7 A11.6,11.6 0 0 1 132.04999999999998,535.1 Z" fill="#7d7dc0"/>
<path d="M143.64999999999998,535.1 L155.24999999999997,535.1 A11.6,11.6 0 0 1 143.64999999999998,546.7 Z" fill="#7d7dc0"/>
<line x1="132.04999999999998" y1="535.1" x2="155.24999999999997" y2="535.1" stroke="#fff" stroke-opacity="0.22" stroke-width="0.7"/>
<line x1="143.64999999999998" y1="523.5" x2="143.64999999999998" y2="546.7" stroke="#fff" stroke-opacity="0.22" stroke-width="0.7"/>
<circle cx="143.64999999999998" cy="535.1" r="11.6" fill="none" stroke="#151515" stroke-width="1.1"/>
<path d="M170.04999999999998,535.1 L158.45,535.1 A11.6,11.6 0 0 1 170.04999999999998,523.5 Z" fill="#5050a5"/>
<path d="M170.04999999999998,535.1 L170.04999999999998,523.5 A11.6,11.6 0 0 1 181.64999999999998,535.1 Z" fill="#7878be"/>
<path d="M170.04999999999998,535.1 L170.04999999999998,546.7 A11.6,11.6 0 0 1 158.45,535.1 Z" fill="#6464b2"/>
<path d="M170.04999999999998,535.1 L181.64999999999998,535.1 A11.6,11.6 0 0 1 170.04999999999998,546.7 Z" fill="#6e6eb9"/>
<line x1="158.45" y1="535.1" x2="181.64999999999998" y2="535.1" stroke="#fff" stroke-opacity="0.22" stroke-width="0.7"/>
<line x1="170.04999999999998" y1="523.5" x2="170.04999999999998" y2="546.7" stroke="#fff" stroke-opacity="0.22" stroke-width="0.7"/>
<circle cx="170.04999999999998" cy="535.1" r="11.6" fill="none" stroke="#151515" stroke-width="1.1"/>
<path d="M196.45,535.1 L184.85,535.1 A11.6,11.6 0 0 1 196.45,523.5 Z" fill="#4646a0"/>
<path d="M196.45,535.1 L196.45,523.5 A11.6,11.6 0 0 1 208.04999999999998,535.1 Z" fill="#5555aa"/>
<path d="M196.45,535.1 L196.45,546.7 A11.6,11.6 0 0 1 184.85,535.1 Z" fill="#46469e"/>
<path d="M196.45,535.1 L208.04999999999998,535.1 A11.6,11.6 0 0 1 196.45,546.7 Z" fill="#5555a8"/>
<line x1="184.85" y1="535.1" x2="208.04999999999998" y2="535.1" stroke="#fff" stroke-opacity="0.22" stroke-width="0.7"/>
<line x1="196.45" y1="523.5" x2="196.45" y2="546.7" stroke="#fff" stroke-opacity="0.22" stroke-width="0.7"/>
<circle cx="196.45" cy="535.1" r="11.6" fill="none" stroke="#151515" stroke-width="1.1"/>
<path d="M222.85,535.1 L211.25,535.1 A11.6,11.6 0 0 1 222.85,523.5 Z" fill="#3c3c9b"/>
<path d="M222.85,535.1 L222.85,523.5 A11.6,11.6 0 0 1 234.45,535.1 Z" fill="#4646a0"/>
<path d="M222.85,535.1 L222.85,546.7 A11.6,11.6 0 0 1 211.25,535.1 Z" fill="#373291"/>
<path d="M222.85,535.1 L234.45,535.1 A11.6,11.6 0 0 1 222.85,546.7 Z" fill="#4646a0"/>
<line x1="211.25" y1="535.1" x2="234.45" y2="535.1" stroke="#fff" stroke-opacity="0.22" stroke-width="0.7"/>
<line x1="222.85" y1="523.5" x2="222.85" y2="546.7" stroke="#fff" stroke-opacity="0.22" stroke-width="0.7"/>
<circle cx="222.85" cy="535.1" r="11.6" fill="none" stroke="#151515" stroke-width="1.1"/>
<path d="M249.24999999999997,535.1 L237.64999999999998,535.1 A11.6,11.6 0 0 1 249.24999999999997,523.5 Z" fill="#3c3c96"/>
<path d="M249.24999999999997,535.1 L249.24999999999997,523.5 A11.6,11.6 0 0 1 260.84999999999997,535.1 Z" fill="#373796"/>
<path d="M249.24999999999997,535.1 L249.24999999999997,546.7 A11.6,11.6 0 0 1 237.64999999999998,535.1 Z" fill="#3c3787"/>
<path d="M249.24999999999997,535.1 L260.84999999999997,535.1 A11.6,11.6 0 0 1 249.24999999999997,546.7 Z" fill="#3c3c9b"/>
<line x1="237.64999999999998" y1="535.1" x2="260.84999999999997" y2="535.1" stroke="#fff" stroke-opacity="0.22" stroke-width="0.7"/>
<line x1="249.24999999999997" y1="523.5" x2="249.24999999999997" y2="546.7" stroke="#fff" stroke-opacity="0.22" stroke-width="0.7"/>
<circle cx="249.24999999999997" cy="535.1" r="11.6" fill="none" stroke="#151515" stroke-width="1.1"/>
<path d="M275.65,535.1 L264.04999999999995,535.1 A11.6,11.6 0 0 1 275.65,523.5 Z" fill="#413c96"/>
<path d="M275.65,535.1 L275.65,523.5 A11.6,11.6 0 0 1 287.25,535.1 Z" fill="#3c3787"/>
<path d="M275.65,535.1 L275.65,546.7 A11.6,11.6 0 0 1 264.04999999999995,535.1 Z" fill="#3c3787"/>
<path d="M275.65,535.1 L287.25,535.1 A11.6,11.6 0 0 1 275.65,546.7 Z" fill="#373796"/>
<line x1="264.04999999999995" y1="535.1" x2="287.25" y2="535.1" stroke="#fff" stroke-opacity="0.22" stroke-width="0.7"/>
<line x1="275.65" y1="523.5" x2="275.65" y2="546.7" stroke="#fff" stroke-opacity="0.22" stroke-width="0.7"/>
<circle cx="275.65" cy="535.1" r="11.6" fill="none" stroke="#151515" stroke-width="1.1"/>
<text x="90.85" y="556.90" font-size="8.25" text-anchor="middle" fill="#111" stroke="#111" stroke-width="0.2">2.5 k</text>
<text x="117.25" y="556.90" font-size="8.25" text-anchor="middle" fill="#111" stroke="#111" stroke-width="0.2">5 k</text>
<text x="143.65" y="556.90" font-size="8.25" text-anchor="middle" fill="#111" stroke="#111" stroke-width="0.2">10 k</text>
<text x="170.05" y="556.90" font-size="8.25" text-anchor="middle" fill="#111" stroke="#111" stroke-width="0.2">20 k</text>
<text x="196.45" y="556.90" font-size="8.25" text-anchor="middle" fill="#111" stroke="#111" stroke-width="0.2">40 k</text>
<text x="222.85" y="556.90" font-size="8.25" text-anchor="middle" fill="#111" stroke="#111" stroke-width="0.2">80 k</text>
<text x="249.25" y="556.90" font-size="8.25" text-anchor="middle" fill="#111" stroke="#111" stroke-width="0.2">160 k</text>
<text x="275.65" y="556.90" font-size="8.25" text-anchor="middle" fill="#111" stroke="#111" stroke-width="0.2">~248 k</text>
<text x="183.30" y="571.00" font-size="8.45" text-anchor="middle" fill="#111" stroke="#111" stroke-width="0.2">Training set size (no. of variants)</text>
<defs><linearGradient id="cmRB" x1="0" y1="0" x2="1" y2="0"><stop offset="0" stop-color="#a8161c"/><stop offset="0.25" stop-color="#d07274"/><stop offset="0.5" stop-color="#fbfbfb"/><stop offset="0.75" stop-color="#9191cb"/><stop offset="1" stop-color="#303094"/></linearGradient><linearGradient id="cmBR" x1="1" y1="0" x2="0" y2="0"><stop offset="0" stop-color="#a8161c"/><stop offset="0.25" stop-color="#d07274"/><stop offset="0.5" stop-color="#fbfbfb"/><stop offset="0.75" stop-color="#9191cb"/><stop offset="1" stop-color="#303094"/></linearGradient></defs>
<g transform="translate(381.9 478.1) rotate(-45)">
<rect x="-44.7" y="-57.6" width="89.30000000000001" height="10.899999999999999" fill="url(#cmRB)" stroke="#111" stroke-width="1.1"/>
<line x1="-31.94" y1="-57.60" x2="-31.94" y2="-55.80" stroke="#111" stroke-width="0.7"/>
<line x1="-31.94" y1="-46.70" x2="-31.94" y2="-48.50" stroke="#111" stroke-width="0.7"/>
<text transform="translate(-31.94 -60.20) rotate(90)" font-size="8" text-anchor="end" dy="2.7" fill="#111" stroke="#111" stroke-width="0.2">0.65</text>
<line x1="-19.19" y1="-57.60" x2="-19.19" y2="-55.80" stroke="#111" stroke-width="0.7"/>
<line x1="-19.19" y1="-46.70" x2="-19.19" y2="-48.50" stroke="#111" stroke-width="0.7"/>
<line x1="-6.43" y1="-57.60" x2="-6.43" y2="-55.80" stroke="#111" stroke-width="0.7"/>
<line x1="-6.43" y1="-46.70" x2="-6.43" y2="-48.50" stroke="#111" stroke-width="0.7"/>
<text transform="translate(-6.43 -60.20) rotate(90)" font-size="8" text-anchor="end" dy="2.7" fill="#111" stroke="#111" stroke-width="0.2">0.75</text>
<line x1="6.33" y1="-57.60" x2="6.33" y2="-55.80" stroke="#111" stroke-width="0.7"/>
<line x1="6.33" y1="-46.70" x2="6.33" y2="-48.50" stroke="#111" stroke-width="0.7"/>
<line x1="19.09" y1="-57.60" x2="19.09" y2="-55.80" stroke="#111" stroke-width="0.7"/>
<line x1="19.09" y1="-46.70" x2="19.09" y2="-48.50" stroke="#111" stroke-width="0.7"/>
<text transform="translate(19.09 -60.20) rotate(90)" font-size="8" text-anchor="end" dy="2.7" fill="#111" stroke="#111" stroke-width="0.2">0.85</text>
<line x1="31.84" y1="-57.60" x2="31.84" y2="-55.80" stroke="#111" stroke-width="0.7"/>
<line x1="31.84" y1="-46.70" x2="31.84" y2="-48.50" stroke="#111" stroke-width="0.7"/>
<text transform="translate(44.60 -60.20) rotate(90)" font-size="8" text-anchor="end" dy="2.7" fill="#111" stroke="#111" stroke-width="0.2">0.95</text>
</g>
<g transform="translate(381.9 478.1) rotate(45)">
<rect x="-44.7" y="-57.6" width="89.30000000000001" height="10.899999999999999" fill="url(#cmBR)" stroke="#111" stroke-width="1.1"/>
<text transform="translate(-44.70 -60.20) rotate(-90)" font-size="8" text-anchor="start" dy="2.7" fill="#111" stroke="#111" stroke-width="0.2">80</text>
<line x1="-31.94" y1="-57.60" x2="-31.94" y2="-55.80" stroke="#111" stroke-width="0.7"/>
<line x1="-31.94" y1="-46.70" x2="-31.94" y2="-48.50" stroke="#111" stroke-width="0.7"/>
<line x1="-19.19" y1="-57.60" x2="-19.19" y2="-55.80" stroke="#111" stroke-width="0.7"/>
<line x1="-19.19" y1="-46.70" x2="-19.19" y2="-48.50" stroke="#111" stroke-width="0.7"/>
<text transform="translate(-19.19 -60.20) rotate(-90)" font-size="8" text-anchor="start" dy="2.7" fill="#111" stroke="#111" stroke-width="0.2">70</text>
<line x1="-6.43" y1="-57.60" x2="-6.43" y2="-55.80" stroke="#111" stroke-width="0.7"/>
<line x1="-6.43" y1="-46.70" x2="-6.43" y2="-48.50" stroke="#111" stroke-width="0.7"/>
<line x1="6.33" y1="-57.60" x2="6.33" y2="-55.80" stroke="#111" stroke-width="0.7"/>
<line x1="6.33" y1="-46.70" x2="6.33" y2="-48.50" stroke="#111" stroke-width="0.7"/>
<text transform="translate(6.33 -60.20) rotate(-90)" font-size="8" text-anchor="start" dy="2.7" fill="#111" stroke="#111" stroke-width="0.2">60</text>
<line x1="19.09" y1="-57.60" x2="19.09" y2="-55.80" stroke="#111" stroke-width="0.7"/>
<line x1="19.09" y1="-46.70" x2="19.09" y2="-48.50" stroke="#111" stroke-width="0.7"/>
<line x1="31.84" y1="-57.60" x2="31.84" y2="-55.80" stroke="#111" stroke-width="0.7"/>
<line x1="31.84" y1="-46.70" x2="31.84" y2="-48.50" stroke="#111" stroke-width="0.7"/>
<text transform="translate(31.84 -60.20) rotate(-90)" font-size="8" text-anchor="start" dy="2.7" fill="#111" stroke="#111" stroke-width="0.2">50</text>
</g>
<g transform="translate(381.9 478.1) rotate(45)">
<rect x="-44.7" y="46.7" width="89.30000000000001" height="10.899999999999999" fill="url(#cmRB)" stroke="#111" stroke-width="1.1"/>
<text transform="translate(-44.70 60.20) rotate(-90)" font-size="8" text-anchor="end" dy="2.7" fill="#111" stroke="#111" stroke-width="0.2">0.17</text>
<line x1="-26.84" y1="46.70" x2="-26.84" y2="48.50" stroke="#111" stroke-width="0.7"/>
<line x1="-26.84" y1="57.60" x2="-26.84" y2="55.80" stroke="#111" stroke-width="0.7"/>
<text transform="translate(-26.84 60.20) rotate(-90)" font-size="8" text-anchor="end" dy="2.7" fill="#111" stroke="#111" stroke-width="0.2">0.15</text>
<line x1="-8.98" y1="46.70" x2="-8.98" y2="48.50" stroke="#111" stroke-width="0.7"/>
<line x1="-8.98" y1="57.60" x2="-8.98" y2="55.80" stroke="#111" stroke-width="0.7"/>
<text transform="translate(-8.98 60.20) rotate(-90)" font-size="8" text-anchor="end" dy="2.7" fill="#111" stroke="#111" stroke-width="0.2">0.13</text>
<line x1="8.88" y1="46.70" x2="8.88" y2="48.50" stroke="#111" stroke-width="0.7"/>
<line x1="8.88" y1="57.60" x2="8.88" y2="55.80" stroke="#111" stroke-width="0.7"/>
<text transform="translate(8.88 60.20) rotate(-90)" font-size="8" text-anchor="end" dy="2.7" fill="#111" stroke="#111" stroke-width="0.2">0.11</text>
<line x1="26.74" y1="46.70" x2="26.74" y2="48.50" stroke="#111" stroke-width="0.7"/>
<line x1="26.74" y1="57.60" x2="26.74" y2="55.80" stroke="#111" stroke-width="0.7"/>
<text transform="translate(26.74 60.20) rotate(-90)" font-size="8" text-anchor="end" dy="2.7" fill="#111" stroke="#111" stroke-width="0.2">0.09</text>
<text transform="translate(44.60 60.20) rotate(-90)" font-size="8" text-anchor="end" dy="2.7" fill="#111" stroke="#111" stroke-width="0.2">0.07</text>
</g>
<g transform="translate(381.9 478.1) rotate(-45)">
<rect x="-44.7" y="46.7" width="89.30000000000001" height="10.899999999999999" fill="url(#cmBR)" stroke="#111" stroke-width="1.1"/>
<text transform="translate(-44.70 60.20) rotate(90)" font-size="8" text-anchor="start" dy="2.7" fill="#111" stroke="#111" stroke-width="0.2">0.03</text>
<line x1="-29.82" y1="46.70" x2="-29.82" y2="48.50" stroke="#111" stroke-width="0.7"/>
<line x1="-29.82" y1="57.60" x2="-29.82" y2="55.80" stroke="#111" stroke-width="0.7"/>
<text transform="translate(-29.82 60.20) rotate(90)" font-size="8" text-anchor="start" dy="2.7" fill="#111" stroke="#111" stroke-width="0.2">0.05</text>
<line x1="-14.93" y1="46.70" x2="-14.93" y2="48.50" stroke="#111" stroke-width="0.7"/>
<line x1="-14.93" y1="57.60" x2="-14.93" y2="55.80" stroke="#111" stroke-width="0.7"/>
<text transform="translate(-14.93 60.20) rotate(90)" font-size="8" text-anchor="start" dy="2.7" fill="#111" stroke="#111" stroke-width="0.2">0.07</text>
<line x1="-0.05" y1="46.70" x2="-0.05" y2="48.50" stroke="#111" stroke-width="0.7"/>
<line x1="-0.05" y1="57.60" x2="-0.05" y2="55.80" stroke="#111" stroke-width="0.7"/>
<text transform="translate(-0.05 60.20) rotate(90)" font-size="8" text-anchor="start" dy="2.7" fill="#111" stroke="#111" stroke-width="0.2">0.09</text>
<line x1="14.83" y1="46.70" x2="14.83" y2="48.50" stroke="#111" stroke-width="0.7"/>
<line x1="14.83" y1="57.60" x2="14.83" y2="55.80" stroke="#111" stroke-width="0.7"/>
<text transform="translate(14.83 60.20) rotate(90)" font-size="8" text-anchor="start" dy="2.7" fill="#111" stroke="#111" stroke-width="0.2">0.11</text>
<line x1="29.72" y1="46.70" x2="29.72" y2="48.50" stroke="#111" stroke-width="0.7"/>
<line x1="29.72" y1="57.60" x2="29.72" y2="55.80" stroke="#111" stroke-width="0.7"/>
<text transform="translate(29.72 60.20) rotate(90)" font-size="8" text-anchor="start" dy="2.7" fill="#111" stroke="#111" stroke-width="0.2">0.13</text>
<text transform="translate(44.60 60.20) rotate(90)" font-size="8" text-anchor="start" dy="2.7" fill="#111" stroke="#111" stroke-width="0.2">0.15</text>
</g>
<circle cx="381.9" cy="478.1" r="36" fill="#fff" stroke="#222" stroke-width="1"/>
<line x1="345.90" y1="478.40" x2="417.90" y2="478.40" stroke="#8a8a8a" stroke-width="0.8"/>
<line x1="382.10" y1="442.10" x2="382.10" y2="514.10" stroke="#8a8a8a" stroke-width="0.8"/>
<text transform="translate(365.0 459.8) rotate(-45)" font-size="9.6" text-anchor="middle" dy="3" fill="#111" stroke="#111" stroke-width="0.2"><tspan font-style="italic">R</tspan><tspan font-size="5.6" dy="-3.8">2</tspan></text>
<text transform="translate(401.0 462.0) rotate(45)" font-size="8.9" text-anchor="middle" dy="3" fill="#111" stroke="#111" stroke-width="0.2">% w. 2-fold</text>
<text transform="translate(391.5 469.0) rotate(45)" font-size="9.2" text-anchor="middle" dy="3" fill="#111" stroke="#111" stroke-width="0.2">error</text>
<text transform="translate(363.4 496.3) rotate(45)" font-size="9.3" text-anchor="middle" dy="3" fill="#111" stroke="#111" stroke-width="0.2">RMSE</text>
<text transform="translate(400.0 496.3) rotate(-45)" font-size="9.3" text-anchor="middle" dy="3" fill="#111" stroke="#111" stroke-width="0.2">MAE</text>
<text x="485.50" y="387.60" font-size="13.4" font-weight="bold" fill="#000" stroke="#000" stroke-width="0.2">f</text>
<rect x="533.2" y="386.30" width="144.70" height="156.70" fill="none" stroke="#222" stroke-width="0.9"/>
<line x1="530.40" y1="543.00" x2="533.20" y2="543.00" stroke="#222" stroke-width="0.8"/>
<line x1="533.20" y1="543.00" x2="533.20" y2="545.80" stroke="#222" stroke-width="0.8"/>
<text x="525.80" y="545.90" font-size="8.6" text-anchor="end" fill="#111" stroke="#111" stroke-width="0.2">0</text>
<text x="533.20" y="557.20" font-size="8.6" text-anchor="middle" fill="#111" stroke="#111" stroke-width="0.2">0</text>
<line x1="530.40" y1="527.33" x2="533.20" y2="527.33" stroke="#222" stroke-width="0.8"/>
<line x1="547.55" y1="543.00" x2="547.55" y2="545.80" stroke="#222" stroke-width="0.8"/>
<line x1="530.40" y1="511.66" x2="533.20" y2="511.66" stroke="#222" stroke-width="0.8"/>
<line x1="561.90" y1="543.00" x2="561.90" y2="545.80" stroke="#222" stroke-width="0.8"/>
<text x="525.80" y="514.56" font-size="8.6" text-anchor="end" fill="#111" stroke="#111" stroke-width="0.2">20</text>
<text x="561.90" y="557.20" font-size="8.6" text-anchor="middle" fill="#111" stroke="#111" stroke-width="0.2">20</text>
<line x1="530.40" y1="495.99" x2="533.20" y2="495.99" stroke="#222" stroke-width="0.8"/>
<line x1="576.25" y1="543.00" x2="576.25" y2="545.80" stroke="#222" stroke-width="0.8"/>
<line x1="530.40" y1="480.32" x2="533.20" y2="480.32" stroke="#222" stroke-width="0.8"/>
<line x1="590.60" y1="543.00" x2="590.60" y2="545.80" stroke="#222" stroke-width="0.8"/>
<text x="525.80" y="483.22" font-size="8.6" text-anchor="end" fill="#111" stroke="#111" stroke-width="0.2">40</text>
<text x="590.60" y="557.20" font-size="8.6" text-anchor="middle" fill="#111" stroke="#111" stroke-width="0.2">40</text>
<line x1="530.40" y1="464.65" x2="533.20" y2="464.65" stroke="#222" stroke-width="0.8"/>
<line x1="604.95" y1="543.00" x2="604.95" y2="545.80" stroke="#222" stroke-width="0.8"/>
<line x1="530.40" y1="448.98" x2="533.20" y2="448.98" stroke="#222" stroke-width="0.8"/>
<line x1="619.30" y1="543.00" x2="619.30" y2="545.80" stroke="#222" stroke-width="0.8"/>
<text x="525.80" y="451.88" font-size="8.6" text-anchor="end" fill="#111" stroke="#111" stroke-width="0.2">60</text>
<text x="619.30" y="557.20" font-size="8.6" text-anchor="middle" fill="#111" stroke="#111" stroke-width="0.2">60</text>
<line x1="530.40" y1="433.31" x2="533.20" y2="433.31" stroke="#222" stroke-width="0.8"/>
<line x1="633.65" y1="543.00" x2="633.65" y2="545.80" stroke="#222" stroke-width="0.8"/>
<line x1="530.40" y1="417.64" x2="533.20" y2="417.64" stroke="#222" stroke-width="0.8"/>
<line x1="648.00" y1="543.00" x2="648.00" y2="545.80" stroke="#222" stroke-width="0.8"/>
<text x="525.80" y="420.54" font-size="8.6" text-anchor="end" fill="#111" stroke="#111" stroke-width="0.2">80</text>
<text x="648.00" y="557.20" font-size="8.6" text-anchor="middle" fill="#111" stroke="#111" stroke-width="0.2">80</text>
<line x1="530.40" y1="401.97" x2="533.20" y2="401.97" stroke="#222" stroke-width="0.8"/>
<line x1="662.35" y1="543.00" x2="662.35" y2="545.80" stroke="#222" stroke-width="0.8"/>
<line x1="530.40" y1="386.30" x2="533.20" y2="386.30" stroke="#222" stroke-width="0.8"/>
<line x1="676.70" y1="543.00" x2="676.70" y2="545.80" stroke="#222" stroke-width="0.8"/>
<text x="525.80" y="389.20" font-size="8.6" text-anchor="end" fill="#111" stroke="#111" stroke-width="0.2">100</text>
<text x="676.70" y="557.20" font-size="8.6" text-anchor="middle" fill="#111" stroke="#111" stroke-width="0.2">100</text>
<line x1="533.2" y1="543.0" x2="676.70" y2="386.30" stroke="#333" stroke-width="0.6" stroke-dasharray="1.4,1.2"/>
<circle cx="547.55" cy="524.98" r="2.65" fill="none" stroke="#3f82c9" stroke-width="1.0"/>
<circle cx="561.90" cy="512.29" r="2.65" fill="none" stroke="#3f82c9" stroke-width="1.0"/>
<circle cx="576.25" cy="497.40" r="2.65" fill="none" stroke="#3f82c9" stroke-width="1.0"/>
<circle cx="590.60" cy="481.57" r="2.65" fill="none" stroke="#3f82c9" stroke-width="1.0"/>
<circle cx="604.95" cy="465.59" r="2.65" fill="none" stroke="#3f82c9" stroke-width="1.0"/>
<circle cx="619.30" cy="448.98" r="2.65" fill="none" stroke="#3f82c9" stroke-width="1.0"/>
<circle cx="633.65" cy="431.90" r="2.65" fill="none" stroke="#3f82c9" stroke-width="1.0"/>
<circle cx="648.00" cy="416.07" r="2.65" fill="none" stroke="#3f82c9" stroke-width="1.0"/>
<circle cx="662.35" cy="401.50" r="2.65" fill="none" stroke="#3f82c9" stroke-width="1.0"/>
<circle cx="676.70" cy="386.30" r="2.65" fill="none" stroke="#3f82c9" stroke-width="1.0"/>
<text x="605.50" y="569.50" font-size="8.45" text-anchor="middle" fill="#111" stroke="#111" stroke-width="0.2">Expected proportion of predictions</text>
<text x="606.20" y="580.30" font-size="8.45" text-anchor="middle" fill="#111" stroke="#111" stroke-width="0.2">within confidence interval (%)</text>
<text transform="translate(494.2 463.8) rotate(-90)" font-size="8.45" text-anchor="middle" fill="#111" stroke="#111" stroke-width="0.2">Obs. proportion of predictions</text>
<text transform="translate(502.8 463.3) rotate(-90)" font-size="8.45" text-anchor="middle" fill="#111" stroke="#111" stroke-width="0.2">within confidence interval (%)</text>
</svg></body></html>
